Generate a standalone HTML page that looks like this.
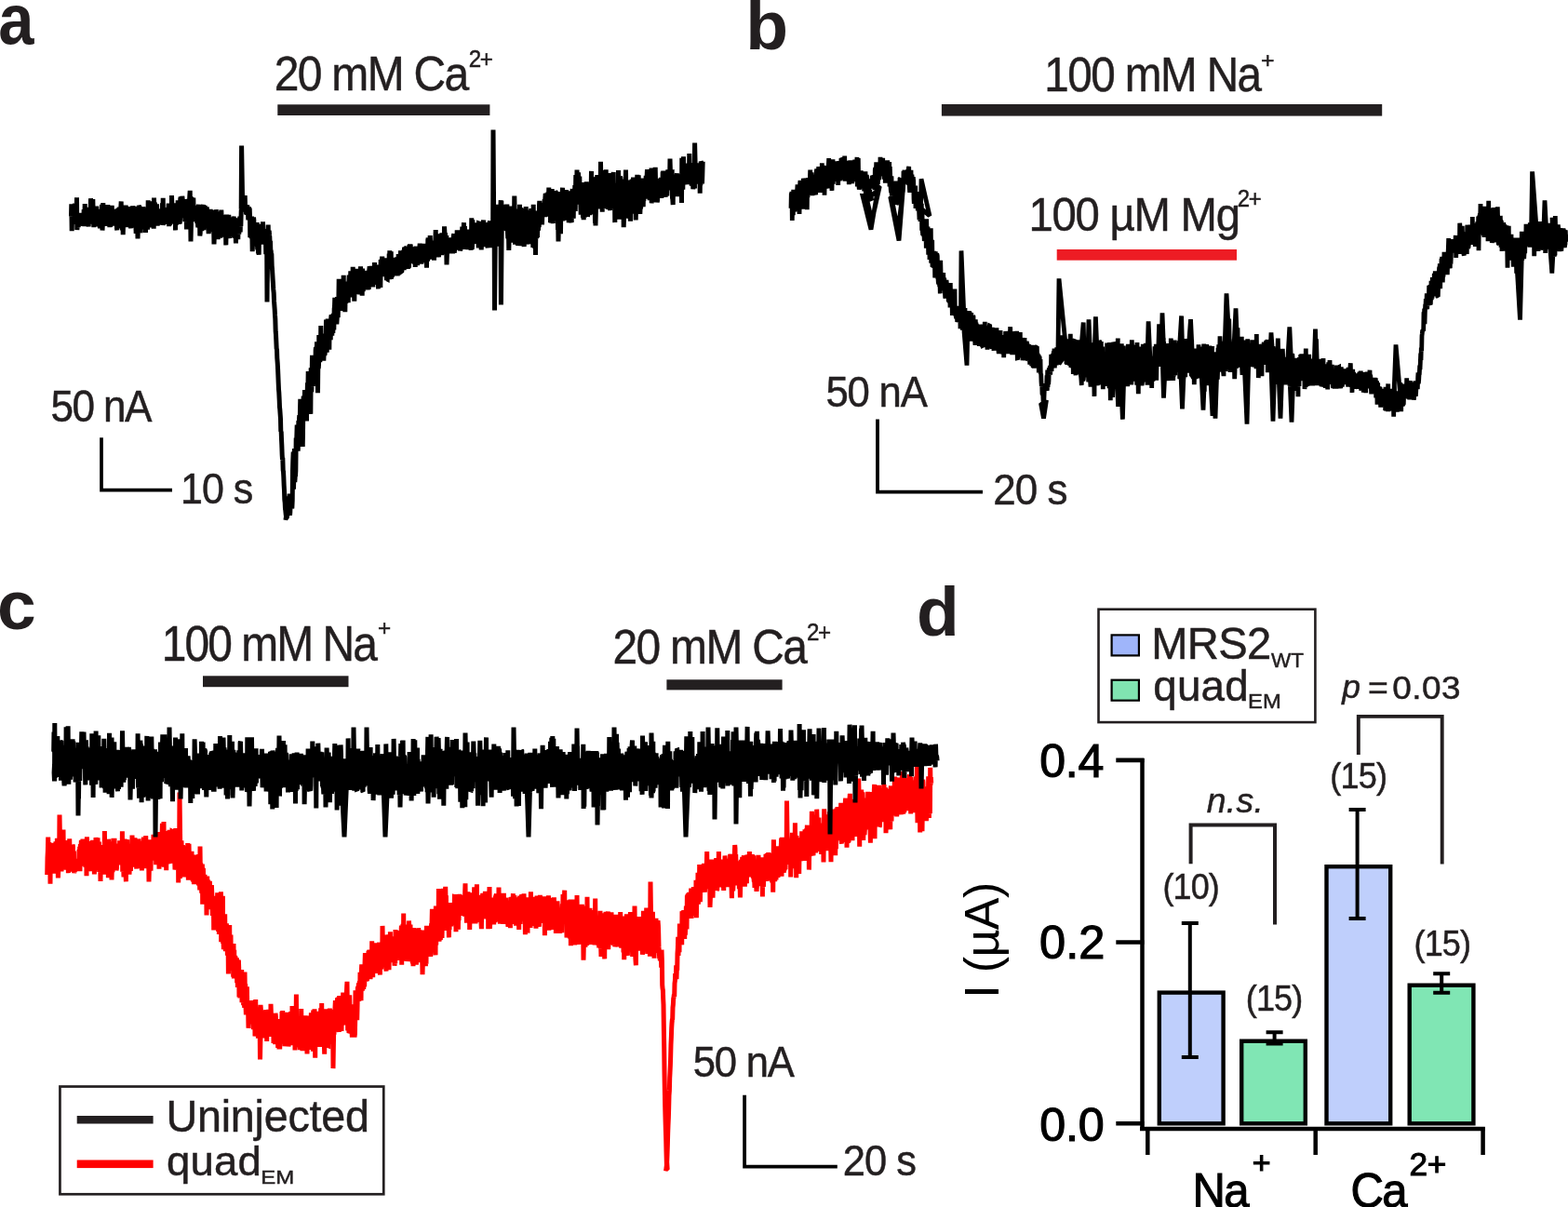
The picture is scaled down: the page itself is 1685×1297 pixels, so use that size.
<!DOCTYPE html>
<html><head><meta charset="utf-8"><title>Figure</title>
<style>
html,body{margin:0;padding:0;background:#fff;}
body{width:1685px;height:1297px;overflow:hidden;}
svg{display:block;}
svg text{font-family:'Liberation Sans', Arial, Helvetica, sans-serif;font-kerning:none;}
svg text.t{stroke:#231f20;stroke-width:0.5px;}
</style></head><body>
<svg width="1685" height="1297" viewBox="0 0 1685 1297">
<rect width="1685" height="1297" fill="#fff"/>
<text transform="translate(-1.69 46.7) scale(0.91 1)" font-size="75.5" font-weight="bold" fill="#231f20">a</text>
<text x="801.32" y="53.30" font-size="75" font-weight="bold" fill="#231f20">b</text>
<text x="-3.09" y="676.20" font-size="75" font-weight="bold" fill="#231f20">c</text>
<text x="985.00" y="683.10" font-size="75" font-weight="bold" fill="#231f20">d</text>
<text transform="translate(294.69 97.40) scale(0.9206 1)" font-size="52.13" letter-spacing="-1.82" fill="#231f20" class="t">20 mM Ca</text>
<text transform="translate(503.69 72.40) scale(0.9162 1)" font-size="26.35" letter-spacing="-1.55" fill="#231f20" class="t">2+</text>
<rect x="298.30" y="112.30" width="228.10" height="11.70" fill="#231f20"/>
<text transform="translate(54.43 452.50) scale(0.9176 1)" font-size="48.12" letter-spacing="-1.72" fill="#231f20" class="t">50 nA</text>
<text transform="translate(194.12 541.20) scale(0.9371 1)" font-size="45.94" letter-spacing="-1.15" fill="#231f20" class="t">10 s</text>
<path d="M109 470.2V526.55H185" fill="none" stroke="#000" stroke-width="3.70"/>
<text transform="translate(1122.37 97.90) scale(0.9233 1)" font-size="51.59" letter-spacing="-1.70" fill="#231f20" class="t">100 mM Na</text>
<text transform="translate(1354.88 72.92) scale(1.0326 1)" font-size="24.12" letter-spacing="0.00" fill="#231f20" class="t">+</text>
<rect x="1011.90" y="112.00" width="473.30" height="12.60" fill="#231f20"/>
<text transform="translate(1105.50 248.20) scale(0.9354 1)" font-size="50.58" letter-spacing="-1.34" fill="#231f20" class="t">100 µM Mg</text>
<text transform="translate(1329.80 222.10) scale(0.9230 1)" font-size="25.92" letter-spacing="-1.40" fill="#231f20" class="t">2+</text>
<rect x="1135.70" y="268.00" width="193.30" height="11.70" fill="#ed1c24"/>
<text transform="translate(887.45 437.20) scale(0.9367 1)" font-size="46.67" letter-spacing="-1.28" fill="#231f20" class="t">50 nA</text>
<text transform="translate(1067.19 542.20) scale(0.9485 1)" font-size="46.38" letter-spacing="-0.96" fill="#231f20" class="t">20 s</text>
<path d="M943 450.5V528.65H1056" fill="none" stroke="#000" stroke-width="3.80"/>
<text transform="translate(173.75 710.30) scale(0.9062 1)" font-size="52.90" letter-spacing="-2.14" fill="#231f20" class="t">100 mM Na</text>
<text transform="translate(405.91 682.92) scale(1.0070 1)" font-size="24.12" letter-spacing="0.00" fill="#231f20" class="t">+</text>
<rect x="218.00" y="726.30" width="156.50" height="11.90" fill="#231f20"/>
<text transform="translate(658.39 712.80) scale(0.9237 1)" font-size="51.84" letter-spacing="-1.74" fill="#231f20" class="t">20 mM Ca</text>
<text transform="translate(867.09 687.70) scale(0.9110 1)" font-size="26.50" letter-spacing="-1.66" fill="#231f20" class="t">2+</text>
<rect x="716.40" y="730.30" width="124.20" height="11.10" fill="#231f20"/>
<rect x="64.45" y="1167.55" width="347.80" height="115.70" fill="none" stroke="#231f20" stroke-width="2.7"/>
<rect x="82.70" y="1199.00" width="81.90" height="8.50" fill="#231f20"/>
<rect x="82.70" y="1246.50" width="81.90" height="8.60" fill="#ff0000"/>
<text transform="translate(178.40 1216.00) scale(0.9856 1)" font-size="47.38" letter-spacing="-0.23" fill="#231f20" class="t">Uninjected</text>
<text transform="translate(178.89 1262.80) scale(1.0073 1)" font-size="45.24" letter-spacing="0.16" fill="#231f20" class="t">quad</text>
<text transform="translate(280.34 1271.80) scale(1.1771 1)" font-size="20.35" letter-spacing="0.00" fill="#231f20" class="t">EM</text>
<text transform="translate(744.85 1156.80) scale(0.9341 1)" font-size="46.67" letter-spacing="-1.33" fill="#231f20" class="t">50 nA</text>
<text transform="translate(905.81 1262.80) scale(0.9431 1)" font-size="46.09" letter-spacing="-1.06" fill="#231f20" class="t">20 s</text>
<path d="M800.1 1176.8V1253.7H899.8" fill="none" stroke="#000" stroke-width="3.80"/>
<rect x="1180.50" y="654.70" width="232.90" height="121.40" fill="none" stroke="#231f20" stroke-width="2.6"/>
<rect x="1194.6" y="682.4" width="29.3" height="22" fill="#9fb5fa" stroke="#000" stroke-width="2.2"/>
<rect x="1194.6" y="730.7" width="29.3" height="22" fill="#80e4b1" stroke="#000" stroke-width="2.2"/>
<text transform="translate(1237.13 708.00) scale(0.9769 1)" font-size="48.26" letter-spacing="-0.66" fill="#231f20" class="t">MRS2</text>
<text transform="translate(1365.90 717.10) scale(0.9933 1)" font-size="22.67" letter-spacing="0.00" fill="#231f20" class="t">WT</text>
<text transform="translate(1239.28 752.50) scale(1.0086 1)" font-size="45.38" letter-spacing="0.18" fill="#231f20" class="t">quad</text>
<text transform="translate(1341.05 761.00) scale(1.0774 1)" font-size="22.09" letter-spacing="0.00" fill="#231f20" class="t">EM</text>
<rect x="1245.80" y="1066.60" width="68.80" height="140.70" fill="#bfcffc" stroke="#000" stroke-width="4.4"/>
<rect x="1334.20" y="1118.70" width="68.60" height="88.60" fill="#80e6b4" stroke="#000" stroke-width="4.4"/>
<rect x="1425.50" y="931.20" width="68.70" height="276.10" fill="#bfcffc" stroke="#000" stroke-width="4.4"/>
<rect x="1514.70" y="1058.70" width="68.70" height="148.60" fill="#80e6b4" stroke="#000" stroke-width="4.4"/>
<path d="M1227.5 815V1215" fill="none" stroke="#000" stroke-width="4.50"/>
<path d="M1199.3 816.9H1229.5M1199.3 1012.5H1229.5M1199.3 1207.2H1229.5" fill="none" stroke="#000" stroke-width="4.60"/>
<path d="M1225 1213H1595.8" fill="none" stroke="#000" stroke-width="4.40"/>
<path d="M1233.3 1211V1241M1413.7 1211V1241M1593.6 1211V1241" fill="none" stroke="#000" stroke-width="4.50"/>
<text transform="translate(1117.14 834.80) scale(0.9907 1)" font-size="50.56" letter-spacing="-0.21" fill="#000" stroke="#000" stroke-width="1.2">0.4</text>
<text x="1117.12" y="1030.30" font-size="50.56" letter-spacing="0.01" fill="#000" stroke="#000" stroke-width="1.2">0.2</text>
<text transform="translate(1117.13 1225.60) scale(0.9951 1)" font-size="50.56" letter-spacing="-0.11" fill="#000" stroke="#000" stroke-width="1.2">0.0</text>
<path d="M1278.8 990.0V1138.0M1269.8 992.0H1287.8M1269.8 1136.0H1287.8" fill="none" stroke="#000" stroke-width="4.00"/>
<path d="M1369.6 1107.2V1123.5M1360.6 1109.2H1378.6M1360.6 1121.5H1378.6" fill="none" stroke="#000" stroke-width="4.00"/>
<path d="M1458.6 868.0V989.0M1449.6 870.0H1467.6M1449.6 987.0H1467.6" fill="none" stroke="#000" stroke-width="4.00"/>
<path d="M1549.2 1044.2V1068.8M1540.2 1046.2H1558.2M1540.2 1066.8H1558.2" fill="none" stroke="#000" stroke-width="4.00"/>
<text transform="translate(1249.47 965.90) scale(0.9336 1)" font-size="38.50" letter-spacing="-0.95" fill="#231f20" class="t">(10)</text>
<text transform="translate(1338.71 1085.50) scale(0.9371 1)" font-size="38.50" letter-spacing="-0.90" fill="#231f20" class="t">(15)</text>
<text transform="translate(1429.26 847.10) scale(0.9385 1)" font-size="38.50" letter-spacing="-0.88" fill="#231f20" class="t">(15)</text>
<text transform="translate(1519.46 1026.50) scale(0.9375 1)" font-size="38.50" letter-spacing="-0.89" fill="#231f20" class="t">(15)</text>
<path d="M1279.6 928.2V886.4H1370V993.6" fill="none" stroke="#231f20" stroke-width="4.00"/>
<path d="M1459.8 811V769.9H1549.7V928.5" fill="none" stroke="#231f20" stroke-width="3.90"/>
<text transform="translate(1296.78 873.30) scale(1.0218 1)" font-size="36.62" letter-spacing="0.26" font-style="italic" fill="#231f20" class="t">n.s.</text>
<text x="1442.18" y="750.30" font-size="35.50" letter-spacing="0.00" font-style="italic" fill="#231f20" class="t">p</text>
<text transform="translate(1469.97 750.50) scale(1.0552 1)" font-size="35.50" letter-spacing="0.00" fill="#231f20" class="t">=</text>
<text transform="translate(1496.26 750.90) scale(1.0317 1)" font-size="35.82" letter-spacing="0.47" fill="#231f20" class="t">0.03</text>
<text transform="translate(1072.8 1072.80) rotate(-90)" font-size="52" letter-spacing="-0.63" fill="#000">I (µA)</text>
<text transform="translate(1281.58 1297.00) scale(0.9556 1)" font-size="51.31" letter-spacing="-1.83" fill="#000" stroke="#000" stroke-width="1.1">Na</text>
<text transform="translate(1345.74 1260.86) scale(1.0450 1)" font-size="32.50" letter-spacing="0.00" fill="#000" stroke="#000" stroke-width="1.1">+</text>
<text transform="translate(1451.41 1297.00) scale(0.9596 1)" font-size="51.13" letter-spacing="-1.70" fill="#000" stroke="#000" stroke-width="1.1">Ca</text>
<text transform="translate(1514.43 1262.60) scale(0.9843 1)" font-size="35.82" letter-spacing="-0.39" fill="#000" stroke="#000" stroke-width="1.1">2+</text>
<path d="M76.5,232.6L76.8,219.4 77.2,248.3 77.5,235.4 77.8,238.6 78.2,224.6 78.5,236.0 78.8,219.4 79.2,239.5 79.5,224.5 79.8,222.5 80.2,221.2 80.5,218.8 80.8,227.0 81.2,220.8 81.5,240.9 81.8,234.7 82.2,232.9 82.5,212.3 82.8,247.0 83.2,243.1 83.5,236.4 83.8,237.2 84.2,244.3 84.5,233.1 84.8,241.9 85.2,236.8 85.5,242.5 85.8,236.5 86.2,241.5 86.5,239.5 86.8,233.8 87.2,228.9 87.5,235.0 87.8,237.7 88.2,242.3 88.5,229.4 88.8,234.4 89.2,241.2 89.5,242.1 89.8,236.2 90.2,225.0 90.5,232.0 90.8,243.1 91.2,219.0 91.5,236.6 91.8,223.1 92.2,236.0 92.5,242.1 92.8,236.1 93.2,229.8 93.5,242.5 93.8,228.5 94.2,226.6 94.5,231.3 94.8,240.7 95.2,243.4 95.5,222.8 95.8,225.6 96.2,229.3 96.5,231.5 96.8,240.6 97.2,230.5 97.5,213.2 97.8,219.7 98.2,233.7 98.5,239.5 98.8,217.5 99.2,219.4 99.5,225.0 99.8,214.1 100.2,230.6 100.5,236.1 100.8,244.2 101.2,224.2 101.5,223.7 101.8,231.1 102.2,223.8 102.5,228.2 102.8,232.8 103.2,239.1 103.5,240.1 103.8,221.5 104.2,238.3 104.5,230.6 104.8,243.3 105.2,234.4 105.5,240.4 105.8,231.7 106.2,224.9 106.5,241.1 106.8,238.4 107.2,243.1 107.5,245.1 107.8,240.2 108.2,243.3 108.5,228.4 108.8,230.0 109.2,239.4 109.5,219.8 109.8,220.7 109.7,237.9 110.0,247.5 110.8,232.6 110.2,223.5 110.5,239.7 110.8,218.1 111.2,237.9 111.5,236.9 111.8,231.7 112.2,220.9 112.5,232.5 112.8,237.9 113.2,232.5 113.5,233.6 113.8,229.0 114.2,242.7 114.5,241.5 114.8,233.0 115.2,224.5 115.5,232.6 115.8,220.1 116.2,233.1 116.5,240.7 116.8,232.6 117.2,221.4 117.5,230.7 117.8,244.2 118.2,232.4 118.5,230.6 118.8,243.8 119.2,228.5 119.5,236.4 119.8,223.6 120.2,220.8 120.5,226.2 120.8,228.8 121.2,236.7 121.5,242.7 121.8,234.0 122.2,225.7 122.5,232.0 122.8,231.4 123.2,224.8 123.5,237.3 123.8,234.6 124.2,236.9 124.5,226.9 124.8,242.2 125.2,229.2 125.5,245.3 125.8,247.3 126.2,224.5 126.5,240.2 126.8,223.7 127.2,232.3 127.5,224.5 127.8,239.3 128.2,222.6 128.5,245.4 128.8,224.4 129.2,241.5 129.5,239.6 129.8,223.4 130.2,216.5 130.5,235.2 130.8,225.4 131.2,226.8 131.5,247.5 131.8,223.7 132.2,252.2 132.5,241.2 132.8,233.2 133.2,232.2 133.5,221.1 133.8,242.9 134.2,232.5 134.5,231.1 134.8,224.7 135.2,220.6 135.5,241.3 135.8,242.7 136.2,230.6 136.5,233.1 136.8,241.1 137.2,244.0 137.5,240.5 137.8,230.7 138.2,243.3 138.5,240.4 138.8,230.9 139.2,222.1 139.5,232.7 139.8,227.9 140.2,236.9 140.5,245.4 140.8,229.5 141.2,235.6 141.5,230.9 141.8,237.7 142.2,240.9 142.5,221.4 142.8,240.3 143.2,231.4 143.5,221.9 143.8,223.4 144.2,244.7 144.5,234.1 144.8,235.7 145.2,237.5 145.5,222.7 145.8,240.7 146.2,250.9 146.5,233.1 146.8,233.7 147.2,222.1 147.5,231.7 147.8,236.4 147.7,240.3 148.0,256.5 148.8,235.0 148.2,228.0 148.5,235.2 148.8,239.4 149.2,220.8 149.5,221.6 149.8,240.6 150.2,244.4 150.5,221.9 150.8,245.8 151.2,250.2 151.5,233.5 151.8,227.3 152.2,245.9 152.5,233.4 152.8,242.8 153.2,224.0 153.5,233.2 153.8,222.4 154.2,224.4 154.5,239.1 154.8,228.1 155.2,232.2 155.5,235.1 155.8,246.4 156.2,227.0 156.5,250.0 156.8,237.3 157.2,227.6 157.5,235.5 157.8,237.3 158.2,225.1 158.5,246.5 158.8,243.7 159.2,215.3 159.5,231.1 159.8,222.2 160.2,221.3 160.5,240.2 160.8,236.3 161.2,231.9 161.5,228.0 161.8,241.5 162.2,216.2 162.5,235.2 162.8,223.6 163.2,224.7 163.5,227.5 163.8,244.5 164.2,232.1 164.5,242.3 164.8,226.8 165.2,245.8 165.5,212.6 165.8,229.4 166.2,224.0 166.5,217.6 166.8,234.0 167.2,221.4 167.5,235.2 167.8,219.8 168.2,236.3 168.5,219.3 168.8,232.1 169.2,242.6 169.5,228.6 169.8,224.9 170.2,227.7 170.5,241.8 170.8,226.8 171.2,227.0 171.5,227.8 171.8,232.9 172.2,232.3 172.5,233.1 172.8,238.6 173.2,224.9 173.5,231.7 173.8,232.9 174.2,235.2 174.5,218.4 174.8,239.0 175.2,212.7 175.5,242.0 175.8,236.3 176.2,241.0 176.5,223.1 176.8,237.9 177.2,237.9 177.5,225.5 177.8,235.1 178.2,231.1 178.5,235.9 178.8,227.2 179.2,234.5 179.5,238.4 179.8,240.7 180.2,233.4 180.5,235.3 180.8,226.8 181.2,218.6 181.5,243.2 181.8,218.9 182.2,226.3 182.5,242.3 182.8,219.8 183.2,234.7 183.5,218.5 183.8,226.1 184.2,240.0 184.5,210.1 184.8,219.1 185.2,234.0 185.5,219.1 185.8,220.8 186.2,235.1 186.5,228.7 186.8,226.5 187.2,238.9 187.5,222.2 187.8,240.9 188.2,218.3 188.5,247.4 188.8,223.2 189.2,227.1 189.5,241.7 189.8,218.4 190.2,225.1 190.5,235.6 190.8,229.5 191.2,215.3 191.5,218.3 191.8,226.2 192.2,241.0 192.5,226.4 192.8,233.7 193.2,240.3 193.5,235.1 193.8,213.7 194.2,211.7 194.5,223.4 194.8,227.0 195.2,217.8 195.5,221.3 195.8,210.8 196.2,214.5 196.5,224.5 196.8,234.2 197.2,217.6 197.5,214.4 197.8,230.4 198.2,229.5 198.5,218.5 198.8,238.3 199.2,228.3 199.5,217.6 199.8,215.1 200.2,222.1 200.5,246.5 200.8,214.1 201.2,216.7 201.5,224.5 201.8,218.1 202.2,228.4 202.5,213.8 202.8,218.0 203.2,225.4 203.5,218.3 203.8,210.9 204.2,204.8 204.5,230.3 204.8,220.9 204.7,231.2 205.0,259.5 205.8,225.0 205.2,227.1 205.5,211.9 205.8,213.4 206.2,212.2 206.5,223.6 206.8,230.8 207.2,236.5 207.5,221.9 207.8,212.6 208.2,234.0 208.5,237.1 208.8,231.8 209.2,220.9 209.5,233.5 209.8,223.5 210.2,238.0 210.5,232.9 210.8,237.8 211.2,231.4 211.5,230.1 211.8,240.0 212.2,231.0 212.5,240.8 212.8,244.3 213.2,222.1 213.5,219.9 213.8,237.5 214.2,244.6 214.5,230.9 214.8,253.5 215.2,250.6 215.5,234.5 215.8,225.9 216.2,247.6 216.5,236.2 216.8,247.8 217.2,245.3 217.5,235.8 217.8,224.5 218.2,221.5 218.5,220.0 218.8,247.3 219.2,228.8 219.5,241.6 219.8,237.5 220.2,220.8 220.5,234.2 220.8,230.3 221.2,225.9 221.5,228.6 221.8,230.8 222.2,222.4 222.5,225.6 222.8,239.0 223.2,233.7 223.5,241.9 223.8,243.9 224.2,251.0 224.5,247.1 224.8,235.1 225.2,248.8 225.5,238.0 225.8,249.1 226.2,224.7 226.5,249.2 226.8,240.6 227.2,232.3 227.5,225.7 227.8,235.8 228.2,235.2 228.5,246.6 228.8,230.9 229.2,235.5 229.5,226.3 229.8,251.9 229.7,245.7 230.0,262.5 230.8,240.0 230.2,249.2 230.5,247.5 230.8,245.9 231.2,250.5 231.5,251.5 231.8,240.8 232.2,225.2 232.5,233.7 232.8,227.3 233.2,248.7 233.5,236.0 233.8,227.5 234.2,257.3 234.5,240.7 234.8,254.3 235.2,232.9 235.5,253.1 235.8,232.8 236.2,237.4 236.5,232.5 236.8,255.7 237.2,245.6 237.5,252.7 237.8,225.6 238.2,237.1 238.5,252.8 238.8,232.3 239.2,254.8 239.5,230.8 239.8,237.3 240.2,234.2 240.5,235.4 240.8,251.0 241.2,247.4 241.5,245.4 241.8,237.4 242.2,247.7 242.5,247.0 242.8,263.4 243.2,244.0 243.5,230.5 243.8,237.2 244.2,251.8 244.5,234.4 244.8,236.4 245.2,245.0 245.5,254.9 245.8,230.8 246.2,251.1 246.5,256.2 246.8,235.3 247.2,248.5 247.5,249.0 247.8,245.2 248.2,254.5 248.5,245.5 248.8,236.0 249.2,235.8 249.5,237.9 249.8,253.1 250.2,253.7 250.5,245.3 250.8,247.8 251.2,232.5 251.5,251.3 251.8,255.5 252.2,235.6 252.5,244.9 252.8,243.4 253.2,253.1 253.5,261.5 253.8,245.9 254.2,237.6 254.5,236.9 254.8,237.0 255.2,245.1 255.5,246.7 255.8,257.1 256.2,237.7 256.5,249.2 256.8,251.7 257.2,240.5 257.5,236.7 257.8,232.6 258.2,249.4 258.5,235.3 258.8,243.3 259.2,227.1 259.5,223.8 259.2,224.7 259.6,156.5 260.8,227.6 259.8,221.9 260.2,215.4 260.5,221.0 260.8,216.5 261.2,211.4 261.5,210.4 261.8,217.5 262.2,210.8 262.5,215.7 262.8,213.5 263.2,210.1 263.5,221.4 263.8,221.1 264.2,220.2 264.5,229.0 264.8,229.4 265.2,221.5 265.5,227.3 265.8,220.4 266.2,228.0 266.5,228.8 266.8,236.4 267.2,224.6 267.5,222.4 267.8,232.4 268.2,223.6 268.5,232.6 268.8,255.2 269.2,236.1 269.5,234.0 269.8,242.5 270.2,256.1 270.5,232.5 270.8,245.6 271.2,270.2 271.5,260.3 271.8,235.5 272.2,242.5 272.5,233.6 272.8,236.1 273.2,250.8 273.5,240.8 273.8,245.9 274.2,261.6 274.5,239.3 274.8,264.5 275.2,252.3 275.5,246.2 275.8,250.7 276.2,239.1 276.5,264.0 276.8,268.3 277.2,248.9 277.5,272.4 277.8,263.7 278.2,273.8 278.5,246.4 278.8,240.9 279.2,252.3 279.5,249.8 279.8,256.3 280.2,243.4 280.5,255.4 280.8,262.6 281.2,240.9 281.5,253.4 281.8,259.4 282.2,258.3 282.5,238.2 282.8,251.1 283.2,250.8 283.5,256.0 283.8,255.1 284.2,246.9 284.5,247.5 284.8,258.7 285.2,262.6 285.5,255.1 285.8,273.2 286.2,259.2 286.5,266.3 286.8,261.0 286.7,264.7 287.0,324.5 287.8,257.5 287.2,253.9 287.5,268.9 287.8,253.3 288.2,241.6 288.5,258.3 288.8,253.4 289.2,247.6 289.5,252.2 289.8,254.5 290.2,265.0 290.5,258.7 290.8,269.2 291.2,269.7 291.5,274.0 291.8,272.2 292.2,285.6 292.5,289.0 292.8,294.2 293.2,300.9 293.5,305.2 293.8,311.0 294.2,315.0 294.5,323.2 294.8,327.2 295.2,332.8 295.5,338.5 295.8,342.5 296.2,356.3 296.5,359.4 296.8,365.9 297.2,375.2 297.5,374.8 297.8,384.6 298.2,389.8 298.5,394.8 298.8,401.6 299.2,411.5 299.5,418.5 299.8,421.6 300.2,429.6 300.5,437.5 300.8,440.0 301.2,445.7 301.5,450.2 301.8,463.8 302.2,463.5 302.5,472.0 302.8,478.0 303.2,488.9 303.5,493.8 303.8,491.9 304.2,505.4 304.5,506.7 304.8,512.2 305.2,522.0 305.5,527.0 305.8,536.8 306.2,540.1 306.5,546.8 306.8,548.4 307.2,552.7 307.5,555.0 307.3,556.4 307.8,556.5 308.3,555.8 307.8,554.7 308.2,554.9 308.5,554.3 308.8,553.8 309.2,552.0 309.5,549.0 309.8,547.6 310.2,542.4 310.5,533.3 310.8,539.2 311.2,530.5 311.5,553.9 311.8,550.2 312.2,534.5 312.5,531.4 312.8,535.4 313.2,535.1 313.5,545.6 313.8,546.4 314.2,537.9 314.5,506.3 314.8,495.3 315.2,485.6 315.5,525.7 315.8,511.6 316.2,487.4 316.5,482.2 316.8,518.0 317.2,511.5 317.5,511.2 317.8,506.1 318.2,470.6 318.5,481.6 318.8,470.8 319.2,456.5 319.5,462.8 319.8,466.1 320.2,484.6 320.5,474.4 320.8,455.3 321.2,455.4 321.5,450.1 321.8,446.3 322.2,460.4 322.5,440.8 322.8,428.7 323.2,449.5 323.5,451.7 323.8,441.6 324.2,470.6 324.5,465.8 324.8,458.4 325.2,480.0 325.5,465.8 325.8,437.9 326.2,425.5 326.5,448.3 326.8,430.0 327.2,430.4 327.5,419.1 327.8,428.9 328.2,419.7 328.5,450.8 328.8,437.0 329.2,432.8 329.5,452.5 329.8,424.6 330.2,421.6 330.5,411.2 330.8,426.3 331.2,399.0 331.5,417.5 331.8,423.3 332.2,400.6 332.5,439.4 332.8,405.2 333.2,436.2 333.5,428.8 333.8,444.9 334.2,395.3 334.5,413.7 334.8,421.1 335.2,404.6 335.5,381.9 335.8,411.7 336.2,415.0 336.5,400.8 336.8,383.2 337.2,403.8 337.5,400.2 337.8,395.1 338.2,409.3 338.5,407.2 338.8,413.0 339.2,376.1 339.5,373.0 339.8,380.4 340.2,406.9 340.5,367.3 340.8,406.0 341.2,407.5 341.5,422.3 341.8,392.4 342.2,396.1 342.5,392.2 342.8,359.9 343.2,373.3 343.5,370.5 343.8,389.2 344.2,361.4 344.5,376.3 344.8,350.0 345.2,380.8 345.5,360.7 345.8,382.3 346.2,366.2 346.5,367.3 346.8,379.4 347.2,384.1 347.5,367.1 347.8,387.6 348.2,376.2 348.5,370.0 348.8,381.7 349.2,380.0 349.5,362.1 349.8,358.5 350.2,366.6 350.5,343.5 350.8,351.7 351.2,378.7 351.5,367.1 351.8,348.0 352.2,342.7 352.5,346.8 352.8,349.4 353.2,368.5 353.5,355.4 353.8,375.8 354.2,343.5 354.5,359.0 354.8,343.4 355.2,365.4 355.5,354.8 355.8,341.0 356.2,338.3 356.5,348.0 356.8,360.6 357.2,338.2 357.5,346.5 357.8,357.9 358.2,336.9 358.5,343.5 358.8,354.4 359.2,331.7 359.5,329.8 359.8,319.7 360.2,338.8 360.5,341.2 360.8,342.8 361.2,340.6 361.5,328.1 361.8,348.4 362.2,342.3 362.5,319.0 362.8,327.4 363.2,341.1 363.5,324.6 363.8,327.2 364.2,299.8 364.5,314.0 364.8,311.2 365.2,303.4 365.5,317.7 365.8,317.7 366.2,304.5 366.5,306.1 366.8,319.1 367.2,321.9 367.5,334.0 367.8,300.0 368.2,328.1 368.5,324.0 368.8,317.3 369.2,295.8 369.5,331.6 369.8,327.1 370.2,310.7 370.5,302.5 370.8,335.2 371.2,313.3 371.5,326.0 371.8,314.9 372.2,325.4 372.5,305.2 372.8,303.5 373.2,308.5 373.5,305.8 373.8,308.3 374.2,325.3 374.5,310.3 374.8,305.4 375.2,295.6 375.5,301.9 375.8,298.9 376.2,306.3 376.5,302.0 376.8,291.3 377.2,319.4 377.5,308.4 377.8,299.5 378.2,307.7 378.5,304.7 378.8,311.9 379.2,286.9 379.5,297.6 379.8,301.8 380.2,300.9 380.5,308.6 380.8,323.8 381.2,298.5 381.5,312.1 381.8,307.1 382.2,314.0 382.5,308.1 382.8,314.8 383.2,289.4 383.5,309.8 383.8,288.9 384.2,300.4 384.5,316.2 384.8,290.7 385.2,301.0 385.5,299.2 385.8,300.8 386.2,295.0 386.5,290.5 386.8,316.5 387.2,303.8 387.5,286.4 387.8,315.1 388.2,314.2 388.5,300.0 388.8,311.6 389.2,317.6 389.5,288.5 389.8,297.9 390.2,313.1 390.5,306.2 390.8,308.5 391.2,310.6 391.5,302.6 391.8,295.6 392.2,295.5 392.5,300.0 392.8,301.3 393.2,295.0 393.5,298.2 393.8,293.7 394.2,290.8 394.5,304.5 394.8,291.1 395.2,311.5 395.5,303.9 395.8,301.1 396.2,311.0 396.5,296.4 396.8,290.0 397.2,286.4 397.5,307.2 397.8,305.7 398.2,298.8 398.5,287.5 398.8,304.6 399.2,285.9 399.5,289.2 399.8,298.0 400.2,286.3 400.5,299.2 400.8,308.5 401.2,292.6 401.5,302.2 401.8,305.9 402.2,289.1 402.5,282.1 402.8,288.3 403.2,288.0 403.5,294.0 403.8,288.4 404.2,294.4 404.5,284.5 404.8,303.4 405.2,294.6 405.5,294.1 405.8,304.4 406.2,286.0 406.5,310.4 406.8,300.1 407.2,290.7 407.5,298.1 407.8,291.8 408.2,287.3 408.5,303.5 408.8,309.0 409.2,279.1 409.5,279.8 409.8,280.0 410.2,285.0 410.5,278.1 410.8,278.1 411.2,292.5 411.5,294.4 411.8,296.9 412.2,277.6 412.5,280.3 412.8,284.8 413.2,280.6 413.5,286.5 413.8,277.3 414.2,290.1 414.5,290.2 414.8,280.5 415.2,293.9 415.5,301.2 415.8,299.8 416.2,300.0 416.5,287.9 416.8,293.2 417.2,291.2 417.5,277.2 417.8,300.3 418.2,272.6 418.5,300.2 418.8,269.3 419.2,292.8 419.5,289.8 419.8,295.7 420.2,270.3 420.5,299.9 420.8,284.7 421.2,283.0 421.5,297.6 421.8,289.0 422.2,282.2 422.5,285.2 422.8,296.4 423.2,276.9 423.5,285.4 423.8,281.4 424.2,289.8 424.5,286.1 424.8,295.2 425.2,278.0 425.5,280.3 425.8,289.1 426.2,285.3 426.5,294.4 426.8,276.3 427.2,296.4 427.5,279.4 427.8,295.9 428.2,273.0 428.5,289.9 428.8,289.8 429.2,276.3 429.5,288.0 429.8,289.8 430.2,281.0 430.5,269.3 430.8,271.2 431.2,290.4 431.5,291.6 431.8,291.4 432.2,288.3 432.5,271.5 432.8,286.4 433.2,285.2 433.5,277.8 433.8,268.7 434.2,290.2 434.5,265.9 434.8,266.3 435.2,269.6 435.5,278.8 435.8,279.3 436.2,278.0 436.5,266.1 436.8,265.8 437.2,283.8 437.5,276.8 437.8,272.1 438.2,271.1 438.5,288.8 438.8,279.0 439.2,275.2 439.5,287.7 439.8,263.3 440.2,273.1 440.5,262.2 440.8,281.7 441.2,262.6 441.5,283.1 441.8,279.1 442.2,266.6 442.5,267.1 442.8,265.3 443.2,271.2 443.5,277.9 443.8,270.8 444.2,276.6 444.5,275.5 444.8,269.9 445.2,267.3 445.5,283.6 445.8,265.3 446.2,286.9 446.5,265.4 446.8,267.0 447.2,264.9 447.5,268.3 447.8,281.4 448.2,275.5 448.5,285.1 448.8,270.6 449.2,273.5 449.5,275.5 449.8,272.3 450.2,273.1 450.5,276.8 450.8,267.1 451.2,261.8 451.5,265.6 451.8,280.3 452.2,282.9 452.5,270.2 452.8,283.7 453.2,271.3 453.5,280.7 453.8,267.4 454.2,263.8 454.5,279.2 454.8,282.0 455.2,278.6 455.5,278.7 455.8,261.7 456.2,264.9 456.5,280.9 456.8,270.1 457.2,277.1 457.5,280.0 457.8,272.7 458.2,275.3 458.5,287.6 458.8,263.2 459.2,273.1 459.5,280.6 459.8,257.7 460.2,255.7 460.5,274.2 460.8,276.9 461.2,278.6 461.5,266.6 461.8,262.9 462.2,253.2 462.5,259.4 462.8,273.7 463.2,266.8 463.5,260.3 463.8,270.1 464.2,277.7 464.5,277.2 464.8,260.4 465.2,268.9 465.5,272.9 465.8,259.8 466.2,265.2 466.5,279.8 466.8,264.6 467.2,258.5 467.5,267.1 467.8,260.3 468.2,247.0 468.5,265.3 468.8,268.1 469.2,261.8 469.5,263.5 469.8,254.0 470.2,268.8 470.5,265.2 470.8,275.2 471.2,256.9 471.5,276.4 471.8,255.0 472.2,251.3 472.5,264.2 472.8,268.6 473.2,257.9 473.5,266.4 473.8,261.3 474.2,251.9 474.5,274.2 474.8,250.3 475.2,252.8 475.5,260.2 475.8,258.7 476.2,268.0 476.5,265.4 476.8,264.4 477.2,269.5 477.5,243.4 477.8,248.2 478.2,256.5 478.5,250.3 478.8,270.0 479.2,263.1 479.5,273.5 479.8,253.0 479.7,266.9 480.0,284.5 480.8,261.6 480.2,270.5 480.5,258.4 480.8,271.0 481.2,268.5 481.5,259.5 481.8,259.2 482.2,256.0 482.5,258.6 482.8,268.1 483.2,260.2 483.5,259.8 483.8,271.5 484.2,268.5 484.5,265.5 484.8,255.4 485.2,272.4 485.5,264.8 485.8,264.2 486.2,267.0 486.5,272.3 486.8,265.0 487.2,255.9 487.5,252.7 487.8,251.4 488.2,271.6 488.5,269.2 488.8,261.4 489.2,266.8 489.5,260.1 489.8,264.4 490.2,259.3 490.5,262.4 490.8,258.1 491.2,247.3 491.5,252.2 491.8,268.7 492.2,258.6 492.5,256.6 492.8,260.0 493.2,260.9 493.5,264.7 493.8,247.2 494.2,255.5 494.5,269.4 494.8,268.4 495.2,263.2 495.5,248.5 495.8,261.5 496.2,253.3 496.5,252.7 496.8,243.7 497.2,260.6 497.5,248.6 497.8,267.9 498.2,247.4 498.5,239.2 498.8,262.5 499.2,255.6 499.5,243.0 499.8,265.6 500.2,261.3 500.5,251.2 500.8,247.8 501.2,250.4 501.5,264.1 501.8,258.4 502.2,247.6 502.5,258.6 502.8,268.1 503.2,253.4 503.5,264.2 503.8,259.8 504.2,250.6 504.5,246.6 504.8,265.1 505.2,250.6 505.5,260.6 505.8,262.7 506.2,268.8 506.5,256.4 506.8,234.2 507.2,267.9 507.5,264.3 507.8,236.3 508.2,262.2 508.5,246.8 508.8,259.2 509.2,252.6 509.5,255.4 509.8,249.5 510.2,247.6 510.5,239.4 510.8,256.6 511.2,242.4 511.5,253.0 511.8,248.4 512.2,261.7 512.5,258.9 512.8,254.2 513.2,250.9 513.5,253.4 513.8,255.4 514.2,266.4 514.5,239.9 514.8,240.0 515.2,257.8 515.5,244.5 515.8,264.2 516.2,259.6 516.5,252.1 516.8,254.9 517.2,268.4 517.5,263.4 517.8,241.0 518.2,254.0 518.5,246.5 518.8,252.8 519.2,238.8 519.5,236.7 519.8,246.6 520.2,239.5 520.5,265.1 520.8,259.7 521.2,254.2 521.5,250.6 521.8,257.1 522.2,250.2 522.5,246.9 522.8,256.0 523.2,239.1 523.5,243.3 523.8,264.2 524.2,266.2 524.5,240.2 524.8,245.1 525.2,259.2 525.5,239.1 525.8,266.0 526.2,239.1 526.5,237.5 526.8,266.3 527.2,245.2 527.5,242.8 527.8,255.5 528.2,238.1 528.5,247.8 528.8,243.3 529.2,240.7 529.5,264.8 529.8,242.5 529.7,243.6 530.0,139.5 530.8,250.0 530.2,254.8 530.5,233.3 530.8,241.2 531.2,254.5 531.2,255.3 531.5,333.5 532.3,248.5 531.5,253.1 531.8,242.8 532.2,246.1 532.5,245.5 532.8,246.7 533.2,219.8 533.5,240.4 533.8,231.8 534.2,259.9 534.5,244.2 534.8,254.1 535.2,233.8 535.5,252.3 535.8,264.6 536.2,225.5 536.5,256.7 536.8,252.9 537.2,251.9 537.5,262.2 537.8,223.2 538.2,215.2 538.1,251.2 538.4,327.5 539.2,243.3 538.5,238.2 538.8,215.8 539.2,246.5 539.5,223.8 539.8,229.2 540.2,226.3 540.5,247.2 540.8,228.0 541.2,236.1 541.5,245.0 541.8,236.1 542.2,221.7 542.5,227.7 542.8,219.9 543.2,243.3 543.5,241.2 543.8,224.1 544.2,247.6 544.5,247.4 544.8,219.6 545.2,230.0 545.5,250.5 545.8,256.5 546.2,234.4 546.5,250.0 546.8,269.0 547.2,254.3 547.5,243.6 547.8,255.8 548.2,255.6 548.5,253.6 548.8,258.7 549.2,233.6 549.5,224.4 549.8,221.6 550.2,230.7 550.5,244.4 550.8,238.0 551.2,260.7 551.5,235.1 551.8,228.1 552.2,228.7 552.5,234.8 552.8,210.6 553.2,231.3 553.5,262.7 553.8,224.5 554.2,231.7 554.5,252.3 554.8,261.5 555.2,236.0 555.5,236.1 555.8,242.6 556.2,229.9 556.5,264.1 556.8,249.5 557.2,225.4 557.5,231.5 557.8,247.7 558.2,264.2 558.5,219.7 558.8,242.3 559.2,252.5 559.5,259.6 559.8,228.8 560.2,225.2 560.5,225.4 560.8,226.9 561.2,229.6 561.5,258.6 561.8,229.4 562.2,254.8 562.5,247.6 562.8,260.4 563.2,265.0 563.5,256.7 563.8,243.9 564.2,243.7 564.5,249.4 564.8,245.6 565.2,222.1 565.5,252.7 565.8,257.3 566.2,243.2 566.5,257.7 566.8,262.5 567.2,240.7 567.5,239.0 567.8,226.0 568.2,227.4 568.5,230.3 568.8,240.3 569.2,256.4 569.5,237.1 569.8,262.1 570.2,225.9 570.5,245.8 570.8,224.0 571.2,257.4 571.5,258.2 571.8,245.3 572.2,229.2 572.5,241.3 572.8,265.9 573.2,219.8 573.5,247.7 573.8,261.3 574.2,230.6 574.5,248.5 574.8,267.0 575.2,255.0 575.5,274.0 575.8,251.6 576.2,254.7 576.5,256.3 576.8,243.7 577.2,245.0 577.5,255.3 577.8,242.1 578.2,226.5 578.5,247.6 578.8,233.9 579.2,244.1 579.5,220.8 579.8,215.8 580.2,232.3 580.5,226.6 580.8,219.3 581.2,233.2 581.5,239.1 581.8,231.7 582.2,230.6 582.5,241.5 582.8,230.0 583.2,221.5 583.5,228.1 583.8,218.0 584.2,230.9 584.5,231.2 584.8,224.2 585.2,214.0 585.5,233.1 585.8,213.8 586.2,208.3 586.5,226.5 586.8,207.5 587.2,228.6 587.5,232.5 587.8,220.1 588.2,214.5 588.5,214.3 588.8,206.5 589.2,231.5 589.5,212.0 589.8,201.6 590.2,225.8 590.5,220.3 590.8,216.9 591.2,219.1 591.5,239.1 591.8,237.7 592.2,226.2 592.5,239.6 592.8,227.0 593.2,203.1 593.5,212.3 593.8,226.9 594.2,240.2 594.5,229.5 594.8,234.2 595.2,212.4 595.5,221.5 595.8,232.3 596.2,227.2 596.5,236.5 596.8,205.4 597.2,206.2 597.5,217.9 597.8,223.7 598.2,216.9 598.5,218.8 598.8,236.5 599.2,227.8 599.5,246.9 599.8,211.7 599.7,232.6 600.0,259.5 600.8,225.0 600.2,228.4 600.5,221.3 600.8,213.0 601.2,214.8 601.5,208.7 601.8,206.1 602.2,226.5 602.5,251.4 602.8,218.2 603.2,235.3 603.5,209.7 603.8,234.5 604.2,210.3 604.5,201.7 604.8,237.4 605.2,220.7 605.5,213.1 605.8,227.8 606.2,233.0 606.5,220.5 606.8,217.1 607.2,229.8 607.5,215.6 607.8,208.4 608.2,216.0 608.5,204.1 608.8,218.5 609.2,236.8 609.5,212.1 609.8,215.7 610.2,229.0 610.5,218.8 610.8,207.2 611.2,239.3 611.5,231.8 611.8,205.2 612.2,214.4 612.5,231.4 612.8,219.4 613.2,219.8 613.5,210.8 613.8,237.8 614.2,239.1 614.5,206.0 614.8,206.8 615.2,203.1 615.5,216.2 615.8,225.9 616.2,234.8 616.5,218.1 616.8,203.9 617.2,214.0 617.5,221.4 617.8,199.0 618.2,227.0 618.5,205.4 618.8,188.1 619.2,218.8 619.5,219.5 619.8,195.8 619.7,209.2 620.0,182.5 620.8,217.9 620.2,209.4 620.5,211.1 620.8,196.8 621.2,207.4 621.5,185.4 621.8,195.0 622.2,209.7 622.5,216.8 622.8,189.6 623.2,218.2 623.5,208.9 623.8,216.0 624.2,230.6 624.5,225.9 624.8,214.2 625.2,219.4 625.5,230.1 625.8,196.1 626.2,221.2 626.5,234.3 626.8,214.4 627.2,236.2 627.5,219.0 627.8,233.3 628.2,226.8 628.5,233.5 628.8,197.4 629.2,232.7 629.5,205.3 629.8,229.2 630.2,195.2 630.5,215.8 630.8,212.9 631.2,196.4 631.5,233.1 631.8,209.8 632.2,220.8 632.5,201.8 632.8,211.4 633.2,216.6 633.5,231.2 633.8,226.3 634.2,200.3 634.5,217.6 634.8,204.5 635.2,202.7 635.5,183.9 635.8,220.8 636.2,190.4 636.5,199.1 636.8,227.6 637.2,192.7 637.5,230.4 637.8,208.5 638.2,221.2 638.5,199.5 638.8,216.3 639.2,215.2 639.5,239.6 639.8,197.0 639.7,218.4 640.0,242.5 640.8,209.8 640.2,228.1 640.5,223.2 640.8,222.1 641.2,189.8 641.5,222.3 641.8,188.1 642.2,222.3 642.5,224.1 642.8,204.8 643.2,213.9 643.5,201.0 643.8,188.0 644.2,215.8 644.5,204.4 644.8,203.7 645.2,207.7 645.5,173.8 645.8,194.4 646.2,193.2 646.5,213.0 646.8,212.1 647.2,227.8 647.5,214.1 647.8,198.1 648.2,186.1 648.5,185.2 648.8,221.1 649.2,208.1 649.5,222.8 649.8,223.9 650.2,183.0 650.5,208.9 650.8,207.7 651.2,182.4 651.5,208.3 651.8,207.2 652.2,214.8 652.5,202.0 652.8,199.5 653.2,193.2 653.5,225.0 653.8,195.2 654.2,188.0 654.5,200.8 654.8,211.7 655.2,218.5 655.5,226.2 655.8,207.6 656.2,186.0 656.5,223.6 656.8,206.7 657.2,197.5 657.5,189.2 657.8,198.8 658.2,219.8 658.5,212.6 658.8,218.9 659.2,184.9 659.5,223.2 659.8,220.5 660.2,211.6 660.5,213.3 660.8,239.1 661.2,198.9 661.5,204.0 661.8,219.9 662.2,196.8 662.5,213.7 662.8,216.2 663.2,230.4 663.5,227.4 663.8,223.3 664.2,214.6 664.5,183.1 664.8,193.3 665.2,210.9 665.5,229.2 665.8,235.6 666.2,210.3 666.5,190.1 666.8,190.8 667.2,229.9 667.5,194.6 667.8,220.6 668.2,223.9 668.5,208.4 668.8,202.5 669.2,229.9 669.5,224.9 669.8,199.5 670.2,244.2 670.5,235.0 670.8,194.3 671.2,193.8 671.5,219.3 671.8,204.9 672.2,201.6 672.5,182.5 672.8,210.6 673.2,234.4 673.5,229.0 673.8,196.6 674.2,221.8 674.5,194.3 674.8,202.6 675.2,229.4 675.5,202.8 675.8,234.8 676.2,232.5 676.5,193.6 676.8,231.3 677.2,199.6 677.5,237.8 677.8,194.6 678.2,199.7 678.5,217.4 678.8,194.9 679.2,193.1 679.5,224.9 679.8,225.3 680.2,207.0 680.5,190.5 680.8,212.7 681.2,229.6 681.5,199.4 681.8,209.9 682.2,212.6 682.5,222.1 682.8,191.9 683.2,236.5 683.5,225.4 683.8,229.4 684.2,219.0 684.5,198.3 684.8,187.7 685.2,227.6 685.5,208.7 685.8,217.9 686.2,188.2 686.5,215.0 686.8,221.9 687.2,198.1 687.5,208.7 687.8,230.0 688.2,220.7 688.5,224.4 688.8,220.9 689.2,197.8 689.5,191.6 689.8,206.7 690.2,199.7 690.5,220.5 690.8,216.3 691.2,222.1 691.5,210.7 691.8,215.8 692.2,206.2 692.5,209.5 692.8,203.5 693.2,200.9 693.5,213.6 693.8,203.4 694.2,188.9 694.5,206.9 694.8,191.9 695.2,188.9 695.5,182.1 695.8,191.4 696.2,207.8 696.5,205.7 696.8,196.1 697.2,206.6 697.5,208.2 697.8,188.1 698.2,215.2 698.5,206.5 698.8,187.8 699.2,200.1 699.5,193.1 699.8,186.6 699.7,195.9 700.0,180.5 700.8,202.7 700.2,218.4 700.5,191.2 700.8,206.6 701.2,206.5 701.5,210.9 701.8,206.1 702.2,211.2 702.5,214.7 702.8,215.4 703.2,217.3 703.5,194.4 703.8,196.1 704.2,179.8 704.5,193.8 704.8,215.6 705.2,214.4 705.5,197.7 705.8,212.5 706.2,217.3 706.5,215.8 706.8,204.2 707.2,197.6 707.5,193.1 707.8,212.3 708.2,192.0 708.5,194.1 708.8,211.0 709.2,200.4 709.5,201.3 709.8,201.2 710.2,190.8 710.5,196.0 710.8,212.8 711.2,200.8 711.5,196.7 711.8,207.1 712.2,184.6 712.5,187.9 712.8,183.8 713.2,186.7 713.5,200.3 713.8,196.3 714.2,190.3 714.5,202.8 714.8,204.1 715.2,211.8 715.5,198.0 715.8,189.4 716.2,194.0 716.5,203.2 716.8,210.7 717.2,195.7 717.5,199.7 717.8,182.2 718.2,200.0 718.5,199.2 718.8,193.4 719.2,198.9 719.5,197.1 719.8,197.6 719.7,189.7 720.0,170.5 720.8,196.3 720.2,204.3 720.5,193.4 720.8,195.2 721.2,196.2 721.5,184.9 721.8,185.3 722.2,185.2 722.5,212.6 722.8,214.0 723.2,220.0 723.5,194.6 723.8,195.0 724.2,191.6 724.5,208.8 724.8,198.4 725.2,198.0 725.5,199.5 725.8,211.3 726.2,188.2 726.5,208.1 726.8,203.1 727.2,188.4 727.5,186.4 727.8,192.7 728.2,187.4 728.5,194.2 728.8,205.2 729.2,211.0 729.5,189.1 729.8,201.8 730.2,200.7 730.5,206.6 730.8,206.7 731.2,190.5 731.5,194.4 731.8,195.5 732.2,201.5 732.5,218.0 732.8,169.7 733.2,184.7 733.5,175.5 733.8,203.8 734.2,174.5 734.5,168.4 734.8,191.0 735.2,196.2 735.5,194.0 735.8,196.6 736.2,185.9 736.5,176.6 736.8,189.4 737.2,189.6 737.5,181.9 737.8,175.5 738.2,178.8 738.5,195.9 738.8,195.9 739.2,197.9 739.5,183.4 739.8,187.5 740.2,177.9 740.5,196.3 740.8,165.0 741.2,190.8 741.5,180.5 741.8,186.6 742.2,197.4 742.5,192.3 742.8,189.5 743.2,199.7 743.5,179.9 743.8,175.1 744.2,188.8 744.5,190.5 744.8,203.2 745.2,199.0 745.5,186.9 745.8,188.3 746.2,176.1 746.5,202.5 746.3,181.7 746.6,153.5 747.4,188.3 746.8,182.6 747.2,183.9 747.5,197.6 747.8,187.8 748.2,177.2 748.5,180.7 748.8,180.5 749.2,186.4 749.5,186.2 749.8,190.2 750.2,188.1 750.5,181.9 750.8,187.7 751.2,177.3 751.5,176.0 751.8,176.3 752.2,207.7 752.5,183.9 752.8,199.2 753.2,173.6 753.5,174.3 753.8,196.7 754.2,179.5 754.5,197.3 754.8,188.3 755.2,173.8" fill="none" stroke="#000" stroke-width="5.00" stroke-linejoin="miter" stroke-miterlimit="2"/>
<path d="M850.0,223.7L850.3,208.6 850.7,207.6 851.0,206.3 851.3,236.9 851.7,212.4 852.0,208.9 852.3,231.2 852.7,203.7 853.0,223.0 853.3,227.5 853.7,219.1 854.0,227.7 854.3,206.6 854.7,205.1 855.0,215.5 855.3,224.4 855.7,204.5 856.0,225.0 856.3,209.6 856.7,203.3 857.0,198.5 857.3,203.7 857.7,225.7 858.0,212.7 858.3,213.5 858.7,218.2 859.0,230.0 859.3,218.5 859.7,196.8 860.0,194.0 860.3,221.2 860.7,205.1 861.0,214.5 861.3,221.0 861.7,213.4 862.0,215.2 862.3,200.9 862.7,198.3 863.0,224.7 863.3,191.8 863.7,194.0 864.0,200.6 864.3,204.6 864.7,200.9 865.0,199.4 865.3,215.8 865.7,201.1 866.0,224.1 866.3,196.3 866.7,193.1 867.0,193.8 867.3,225.2 867.7,192.8 868.0,212.3 868.3,191.0 868.7,199.3 869.0,204.6 869.3,205.4 869.7,209.1 870.0,205.5 870.3,194.4 870.7,182.5 871.0,198.5 871.3,191.5 871.7,203.0 872.0,185.2 872.3,201.0 872.7,190.8 873.0,210.3 873.3,194.6 873.7,187.9 874.0,208.9 874.3,206.1 874.7,207.2 875.0,188.4 875.3,201.5 875.7,199.0 876.0,197.4 876.3,204.4 876.7,209.5 877.0,187.3 877.3,184.1 877.7,181.5 878.0,189.0 878.3,183.5 878.7,200.7 879.0,183.2 879.3,198.4 879.7,179.1 880.0,202.9 880.3,206.7 880.7,183.2 881.0,187.4 881.3,183.4 881.7,193.1 882.0,191.2 882.3,198.7 882.7,184.5 883.0,203.2 883.3,175.4 883.7,206.9 884.0,204.8 884.3,187.0 884.7,198.8 885.0,200.8 885.3,177.9 885.7,193.3 886.0,209.6 886.3,191.4 886.7,196.5 887.0,180.2 887.3,202.8 887.7,186.4 888.0,194.9 888.3,186.0 888.7,192.4 889.0,178.8 889.3,192.7 889.7,202.4 890.0,197.8 890.3,177.6 890.7,170.1 891.0,195.1 891.3,191.1 891.7,191.9 892.0,182.9 892.3,185.5 892.7,177.5 893.0,174.1 893.3,180.3 893.7,194.0 894.0,204.9 894.3,187.7 894.7,186.3 895.0,171.2 895.3,197.7 895.7,175.5 896.0,175.3 896.3,182.5 896.7,176.5 897.0,179.2 897.3,186.4 897.7,195.0 898.0,179.7 898.3,177.5 898.7,193.6 899.0,192.5 899.3,173.2 899.7,182.6 900.0,176.6 900.3,175.1 900.7,199.0 901.0,176.9 901.3,184.2 901.7,173.1 902.0,192.4 902.3,193.9 902.7,192.5 903.0,182.8 903.3,173.0 903.7,175.8 904.0,170.0 904.3,170.4 904.7,175.7 905.0,183.6 905.3,172.8 905.7,188.7 906.0,183.9 906.3,170.1 906.7,192.5 907.0,172.6 907.3,193.5 907.7,167.5 908.0,194.7 908.3,177.1 908.7,172.8 909.0,187.1 909.3,194.6 909.7,177.9 910.0,173.9 910.3,192.0 910.7,178.0 911.0,194.4 911.3,192.6 911.7,191.1 912.0,191.1 912.3,198.1 912.7,176.7 913.0,172.6 913.3,192.9 913.7,184.6 914.0,172.4 914.3,183.4 914.7,189.0 915.0,192.2 915.3,188.8 915.7,197.3 916.0,186.2 916.3,181.5 916.7,180.3 917.0,190.3 917.3,189.9 917.7,180.5 918.0,191.1 918.3,190.7 918.7,171.5 919.0,178.5 919.3,195.1 919.7,184.0 920.0,171.6 920.3,177.5 920.7,173.2 921.0,168.9 921.3,200.4 921.7,187.9 922.0,200.2 922.3,170.1 922.7,199.5 923.0,200.1 923.3,203.6 923.7,201.2 924.0,200.3 924.3,191.9 924.7,198.6 925.0,194.8 925.3,183.4 925.7,202.7 926.0,189.6 926.3,190.2 926.7,188.0 927.0,187.1 927.3,201.4 927.7,200.4 928.0,202.2 928.3,192.9 928.7,205.5 929.0,185.3 929.3,203.5 929.7,197.2 930.0,184.4 930.3,207.6 930.7,201.1 931.0,202.2 931.3,188.0 931.7,192.0 932.0,198.8 932.3,211.5 932.7,200.2 933.0,212.5 933.3,192.4 933.7,206.9 934.0,200.4 934.3,206.7 934.7,204.1 935.0,211.4 935.3,209.0 935.7,211.5 927.0,210.6 936.0,246.6 943.0,205.0 936.0,210.4 936.3,212.5 936.7,215.3 930.0,207.3 937.0,237.6 945.0,201.7 937.0,194.6 937.3,188.9 937.7,189.5 938.0,202.7 938.3,189.2 938.7,189.6 939.0,202.3 939.3,193.7 939.7,195.0 940.0,204.1 940.3,182.6 940.7,180.1 941.0,186.7 941.3,188.0 941.7,174.2 942.0,183.8 942.3,174.7 942.7,193.1 943.0,183.1 943.3,197.8 943.7,193.1 944.0,193.4 944.3,177.4 944.7,193.4 945.0,181.7 945.3,188.9 945.7,186.8 946.0,168.8 946.3,184.4 946.7,180.8 947.0,170.1 947.3,175.0 947.7,180.8 948.0,175.7 948.3,187.8 948.7,169.9 949.0,185.2 949.3,179.6 949.7,182.9 950.0,189.7 950.3,192.6 950.7,188.4 951.0,174.0 951.3,196.7 951.7,181.1 952.0,172.5 952.3,188.0 952.7,183.5 953.0,175.5 953.3,178.7 953.7,172.4 954.0,176.3 954.3,183.0 954.7,191.3 955.0,175.2 955.3,194.0 955.7,174.1 956.0,200.4 956.3,179.2 956.7,189.7 957.0,199.4 957.3,204.2 957.7,207.3 958.0,189.4 958.3,210.4 958.7,207.0 959.0,202.8 959.3,209.8 959.7,196.0 960.0,219.7 960.3,195.2 960.7,213.2 961.0,215.1 961.3,211.4 961.7,216.4 962.0,204.8 962.3,202.5 962.7,205.5 963.0,194.6 963.3,219.8 963.7,218.8 964.0,199.2 964.3,219.1 964.7,207.1 958.0,212.3 965.0,247.6 970.0,207.5 965.0,207.4 965.3,213.3 965.7,205.1 957.0,212.8 966.0,258.6 970.0,208.0 966.0,201.6 966.3,198.1 966.7,203.2 967.0,192.3 967.3,192.1 967.7,209.4 968.0,206.3 968.3,193.7 968.7,197.6 969.0,196.2 969.3,204.2 969.7,202.8 970.0,198.5 970.3,206.3 970.7,200.0 971.0,183.9 971.3,195.5 971.7,187.9 972.0,182.7 972.3,192.8 972.7,197.5 973.0,193.5 973.3,191.9 973.7,195.9 974.0,191.4 974.3,190.0 974.7,189.1 975.0,183.8 975.3,183.0 975.7,193.6 976.0,198.5 976.3,181.0 976.7,179.1 977.0,196.7 977.3,201.3 977.7,206.7 978.0,203.5 978.3,195.1 978.7,189.3 979.0,182.7 979.3,197.7 979.7,194.2 980.0,187.6 980.3,194.3 980.7,193.0 981.0,200.8 981.3,190.3 981.7,194.9 982.0,213.6 982.3,218.9 982.7,207.1 983.0,217.4 983.3,202.6 983.7,199.6 984.0,224.0 984.3,214.5 984.7,213.4 985.0,218.3 985.3,206.0 985.7,223.2 986.0,217.0 986.3,226.4 986.7,213.3 987.0,223.5 987.3,215.4 987.7,229.3 988.0,236.1 988.3,233.5 988.7,226.3 989.0,237.9 989.3,216.5 989.7,221.8 989.5,225.6 990.0,192.4 999.0,232.0 990.0,224.1 990.3,218.9 990.7,247.7 991.0,225.0 991.3,248.7 991.7,252.7 992.0,236.5 992.3,251.5 992.7,253.9 993.0,251.9 993.3,259.0 993.7,257.8 994.0,254.3 994.3,243.4 994.7,243.2 995.0,246.8 995.3,266.7 995.7,235.2 996.0,257.0 996.3,263.6 996.7,246.1 997.0,243.6 997.3,251.7 997.7,273.6 998.0,259.6 998.3,265.3 998.7,246.1 999.0,278.9 999.3,246.6 999.7,248.0 1000.0,256.2 1000.3,245.4 1000.7,282.7 1001.0,263.1 1001.3,259.2 1001.7,257.7 1002.0,286.7 1002.3,286.5 1002.7,278.4 1003.0,270.4 1003.3,279.1 1003.7,269.8 1004.0,280.6 1004.3,270.8 1004.7,298.5 1005.0,295.0 1005.3,270.4 1005.7,292.1 1006.0,286.5 1006.3,291.1 1006.7,272.8 1007.0,273.5 1007.3,275.0 1007.7,298.4 1008.0,298.7 1008.3,303.4 1008.7,305.4 1009.0,292.9 1009.3,301.8 1009.7,308.2 1010.0,302.7 1010.3,315.4 1010.7,279.8 1011.0,291.9 1011.3,300.4 1011.7,306.1 1012.0,307.0 1012.3,300.6 1012.7,311.2 1013.0,295.2 1013.3,301.4 1013.7,293.2 1014.0,302.0 1014.3,312.1 1014.7,298.6 1015.0,306.4 1015.3,312.4 1015.7,319.2 1016.0,320.4 1016.3,306.0 1016.7,307.5 1017.0,300.9 1017.3,303.9 1017.7,318.2 1018.0,309.1 1018.3,311.5 1018.7,318.0 1019.0,317.2 1019.3,324.3 1019.7,305.8 1020.0,318.0 1020.3,325.4 1020.7,308.5 1021.0,330.4 1021.3,304.0 1021.7,324.0 1022.0,311.0 1022.3,328.7 1022.7,325.6 1023.0,316.7 1023.3,336.6 1023.7,336.6 1024.0,314.4 1024.3,312.9 1024.7,313.5 1025.0,317.9 1025.3,325.5 1025.7,334.7 1026.0,310.6 1026.3,337.5 1026.7,338.7 1027.0,336.3 1027.3,340.0 1027.7,340.0 1028.0,332.5 1028.3,337.6 1028.7,345.8 1029.0,345.0 1029.3,328.9 1029.7,336.6 1030.0,333.5 1030.3,333.3 1030.7,329.3 1031.0,342.1 1031.3,345.5 1031.7,335.3 1032.0,353.3 1032.3,335.4 1032.7,350.3 1032.5,335.6 1033.0,269.4 1036.0,342.0 1033.0,326.5 1033.3,340.0 1033.7,324.0 1034.0,331.7 1034.3,354.6 1034.7,341.8 1035.0,343.7 1035.3,344.6 1035.7,349.4 1036.0,341.1 1036.3,359.5 1036.7,351.8 1037.0,330.9 1037.3,365.1 1037.7,355.7 1038.0,338.4 1038.3,346.6 1038.7,338.9 1036.0,355.9 1039.0,392.6 1040.0,348.9 1039.0,351.2 1039.3,348.0 1039.7,357.1 1040.0,343.8 1040.3,342.7 1040.7,357.3 1041.0,334.1 1041.3,350.2 1041.7,339.2 1042.0,334.6 1042.3,356.3 1042.7,354.8 1043.0,353.6 1043.3,347.4 1043.7,335.9 1044.0,364.9 1044.3,366.3 1044.7,362.9 1045.0,350.1 1045.3,356.3 1045.7,339.6 1046.0,340.1 1046.3,362.2 1046.7,360.5 1047.0,361.7 1047.3,362.4 1047.7,367.4 1048.0,370.9 1048.3,343.4 1048.7,359.8 1049.0,346.6 1049.3,358.1 1049.7,348.5 1050.0,357.6 1050.3,362.5 1050.7,365.8 1051.0,348.7 1051.3,353.4 1051.7,363.5 1052.0,359.1 1052.3,371.9 1052.7,357.3 1053.0,352.1 1053.3,349.4 1053.7,350.1 1054.0,350.5 1054.3,352.1 1054.7,361.3 1055.0,351.6 1055.3,353.1 1055.7,373.2 1056.0,367.9 1056.3,371.2 1056.7,371.0 1057.0,359.6 1057.3,359.1 1057.7,349.1 1058.0,366.9 1058.3,345.8 1058.7,373.1 1059.0,370.2 1059.3,365.3 1059.7,351.2 1060.0,365.7 1060.3,364.7 1060.7,351.1 1061.0,375.6 1061.3,357.4 1061.7,356.5 1062.0,353.8 1062.3,355.5 1062.7,361.8 1063.0,351.7 1063.3,350.0 1063.7,350.2 1064.0,361.6 1064.3,356.9 1064.7,359.0 1065.0,369.4 1065.3,366.1 1065.7,373.4 1066.0,373.8 1066.3,351.8 1066.7,373.5 1067.0,359.7 1067.3,373.4 1067.7,370.8 1068.0,376.8 1068.3,359.0 1068.7,371.3 1069.0,376.6 1069.3,368.2 1069.7,369.1 1070.0,352.6 1070.3,359.4 1070.7,369.2 1071.0,352.4 1071.3,374.5 1071.7,355.7 1072.0,369.0 1072.3,374.0 1072.7,375.8 1073.0,377.1 1073.3,379.9 1073.7,359.0 1074.0,379.3 1074.3,370.8 1074.7,356.9 1075.0,355.0 1075.3,366.8 1075.7,371.4 1076.0,374.8 1076.3,375.6 1076.7,366.6 1077.0,374.4 1077.3,380.3 1077.7,367.9 1078.0,363.6 1078.3,360.1 1078.7,384.1 1079.0,375.4 1079.3,369.6 1079.7,375.4 1080.0,367.3 1080.3,366.5 1080.7,356.0 1081.0,360.4 1081.3,362.8 1081.7,372.7 1082.0,365.6 1082.3,366.8 1082.7,358.6 1083.0,380.1 1083.3,362.9 1083.7,368.7 1084.0,380.0 1084.3,363.6 1084.7,365.9 1085.0,376.8 1085.3,361.7 1085.7,351.2 1086.0,377.7 1086.3,369.1 1086.7,356.4 1087.0,372.7 1087.3,371.8 1087.7,381.1 1088.0,361.5 1088.3,380.6 1088.7,379.3 1089.0,378.4 1089.3,359.5 1089.7,356.5 1090.0,357.6 1090.3,361.4 1090.7,374.2 1091.0,361.1 1091.3,367.2 1091.7,372.8 1092.0,376.0 1092.3,376.0 1092.7,355.7 1093.0,375.7 1093.3,384.7 1093.7,384.6 1094.0,375.2 1094.3,361.6 1094.7,378.0 1095.0,381.9 1095.3,374.2 1095.7,371.6 1096.0,382.1 1096.3,357.0 1096.7,382.3 1097.0,382.0 1097.3,384.2 1097.7,367.4 1098.0,384.0 1098.3,363.3 1098.7,365.5 1099.0,387.3 1099.3,384.8 1099.7,384.7 1100.0,370.9 1100.3,382.4 1100.7,366.0 1101.0,363.0 1101.3,380.3 1101.7,387.2 1102.0,371.7 1102.3,386.0 1102.7,381.7 1103.0,386.2 1103.3,366.7 1103.7,371.0 1104.0,368.9 1104.3,387.7 1104.7,384.8 1105.0,380.8 1105.3,374.5 1105.7,370.1 1106.0,388.1 1106.3,376.0 1106.7,391.8 1107.0,386.7 1107.3,379.3 1107.7,377.7 1108.0,378.4 1108.3,374.5 1108.7,393.3 1109.0,376.3 1109.3,370.9 1109.7,388.9 1110.0,393.1 1110.3,394.8 1110.7,389.1 1111.0,374.3 1111.3,395.7 1111.7,374.8 1112.0,371.5 1112.3,391.4 1112.7,376.7 1113.0,391.8 1113.3,395.1 1113.7,379.1 1114.0,372.5 1114.3,372.3 1114.7,386.3 1115.0,379.7 1115.3,382.7 1115.7,390.6 1116.0,380.7 1116.3,400.4 1116.7,389.7 1117.0,382.8 1117.3,385.4 1117.7,388.1 1118.0,386.1 1118.3,401.9 1118.7,401.5 1119.0,410.3 1119.3,414.9 1119.7,412.4 1120.0,423.1 1120.3,424.0 1120.7,422.6 1121.0,429.7 1121.3,434.6 1118.5,433.2 1121.5,449.6 1124.5,430.0 1121.7,435.4 1122.0,426.3 1122.3,418.9 1122.7,416.8 1123.0,416.2 1123.3,412.2 1123.7,414.3 1124.0,413.4 1124.3,419.9 1124.7,413.0 1125.0,403.3 1125.3,419.8 1125.7,397.6 1126.0,416.4 1126.3,404.7 1126.7,413.0 1127.0,409.0 1127.3,395.4 1127.7,397.4 1128.0,402.3 1128.3,392.9 1128.7,402.8 1129.0,392.7 1129.3,399.3 1129.7,380.7 1130.0,398.9 1130.3,393.8 1130.7,383.4 1131.0,390.2 1131.3,386.0 1131.7,380.0 1132.0,392.8 1132.3,377.2 1132.7,382.7 1133.0,374.5 1133.3,395.4 1133.7,389.0 1134.0,379.3 1134.3,385.1 1134.7,383.5 1135.0,384.7 1135.3,392.4 1135.7,373.4 1136.0,385.9 1136.3,390.8 1136.7,376.0 1137.0,380.5 1137.3,367.9 1137.7,377.9 1137.0,374.6 1138.0,299.4 1146.0,379.6 1138.0,391.0 1138.3,375.6 1138.7,363.2 1139.0,381.7 1139.3,381.2 1139.7,387.6 1140.0,379.8 1140.3,379.5 1140.7,379.2 1141.0,376.1 1141.3,377.0 1141.7,386.1 1142.0,360.3 1142.3,371.5 1142.7,381.1 1143.0,377.0 1143.3,367.9 1143.7,385.6 1144.0,384.7 1144.3,364.1 1144.7,383.5 1145.0,368.5 1145.3,371.7 1145.7,377.6 1146.0,390.9 1146.3,379.0 1146.7,391.9 1147.0,374.7 1147.3,379.2 1147.7,380.0 1148.0,368.5 1148.3,370.5 1148.7,364.5 1149.0,368.5 1149.3,392.8 1149.7,370.2 1150.0,372.9 1150.3,358.9 1150.7,392.8 1151.0,394.7 1151.3,389.7 1151.7,366.7 1152.0,394.4 1152.3,392.2 1152.7,395.2 1153.0,369.8 1153.3,401.9 1153.7,367.5 1154.0,391.1 1154.3,370.3 1154.7,365.4 1155.0,365.1 1155.3,384.2 1155.7,397.9 1156.0,403.3 1156.3,378.8 1156.7,377.5 1157.0,366.4 1157.3,386.3 1157.7,393.3 1158.0,365.3 1158.3,385.2 1158.7,383.6 1159.0,373.1 1159.3,400.0 1159.7,401.7 1160.0,396.6 1160.3,376.2 1160.7,389.9 1161.0,374.2 1161.3,402.0 1161.7,405.1 1162.0,408.8 1162.3,414.0 1162.7,363.8 1163.0,404.3 1163.3,366.6 1163.7,407.8 1164.0,409.9 1161.6,378.0 1164.2,346.5 1165.3,387.8 1164.3,408.4 1164.7,385.9 1165.0,390.0 1165.3,391.5 1165.7,373.6 1166.0,396.5 1166.3,369.1 1166.7,374.6 1167.0,405.4 1167.3,385.9 1167.7,368.7 1168.0,370.4 1168.3,379.1 1168.7,386.9 1169.0,372.9 1169.3,389.2 1169.7,410.4 1169.0,378.9 1170.0,343.4 1172.0,389.0 1170.0,368.2 1170.3,376.9 1170.7,359.7 1171.0,367.5 1171.3,380.8 1171.7,410.4 1171.0,399.6 1172.0,415.6 1174.0,389.4 1172.0,386.0 1172.3,396.7 1172.7,369.3 1173.0,396.1 1173.3,373.5 1173.7,400.4 1174.0,414.8 1174.3,370.3 1174.7,368.7 1175.0,412.8 1175.3,386.6 1175.7,407.2 1176.0,425.9 1176.3,385.7 1176.7,401.3 1177.0,370.3 1177.3,390.8 1176.2,380.1 1177.4,340.4 1179.5,390.5 1177.7,365.7 1178.0,387.7 1178.3,401.7 1178.7,394.1 1179.0,407.7 1179.3,414.3 1179.7,385.9 1180.0,389.1 1180.3,372.9 1180.7,367.1 1181.0,371.1 1181.3,366.4 1181.7,367.0 1182.0,399.9 1182.3,379.0 1182.7,389.0 1183.0,385.2 1183.3,367.1 1183.7,413.4 1184.0,405.9 1184.3,388.5 1184.7,372.5 1185.0,402.2 1185.3,418.2 1185.7,398.3 1186.0,412.5 1186.3,401.5 1186.7,379.6 1187.0,389.0 1187.3,383.2 1187.7,386.0 1188.0,414.8 1188.3,406.2 1188.7,414.6 1189.0,400.2 1189.3,397.9 1189.7,368.5 1190.0,373.6 1190.3,377.1 1190.7,376.4 1191.0,373.7 1191.3,398.8 1191.7,369.9 1192.0,417.2 1192.3,368.0 1192.7,396.3 1193.0,404.5 1193.3,430.1 1193.7,403.6 1194.0,411.4 1194.3,384.7 1194.7,413.5 1195.0,383.8 1195.3,384.8 1195.7,426.9 1196.0,414.7 1196.3,367.7 1196.7,368.8 1197.0,380.6 1197.3,410.8 1197.7,380.7 1198.0,386.7 1198.3,369.5 1198.7,401.7 1199.0,380.3 1199.3,406.0 1199.7,411.8 1200.0,380.9 1200.3,389.2 1200.7,377.9 1201.0,383.1 1201.3,363.5 1200.1,402.8 1201.6,436.8 1203.7,392.4 1201.7,395.6 1202.0,407.3 1202.3,388.5 1202.7,384.6 1203.0,372.1 1203.3,419.1 1203.7,387.9 1204.0,391.9 1204.3,391.3 1204.7,394.3 1205.0,398.2 1205.3,369.3 1205.7,384.0 1206.0,414.3 1206.3,378.6 1204.3,402.6 1206.4,450.7 1208.1,392.2 1206.7,382.1 1207.0,400.9 1207.3,371.6 1207.7,399.2 1208.0,398.8 1208.3,393.8 1208.7,405.3 1209.0,387.5 1209.3,385.5 1209.7,393.0 1210.0,383.0 1210.3,387.1 1210.7,398.3 1211.0,394.1 1211.3,396.2 1211.7,415.3 1212.0,384.3 1212.3,369.9 1212.7,405.9 1213.0,405.3 1213.3,410.7 1213.7,401.0 1214.0,393.0 1214.3,380.9 1214.7,369.9 1215.0,400.7 1215.3,410.2 1215.7,413.2 1216.0,409.6 1216.3,365.3 1216.7,380.8 1217.0,379.8 1217.3,391.6 1217.7,394.0 1218.0,400.1 1218.3,378.8 1218.7,391.9 1219.0,389.8 1219.3,392.6 1219.7,370.5 1220.0,409.7 1220.3,394.8 1220.7,376.2 1221.0,391.1 1221.3,373.1 1221.7,413.7 1222.0,368.1 1222.3,404.2 1222.7,378.2 1223.0,410.1 1223.3,423.3 1223.7,376.7 1224.0,389.8 1224.3,372.5 1224.7,380.5 1225.0,387.8 1225.3,408.9 1225.7,399.2 1226.0,397.4 1226.3,397.5 1226.7,405.0 1227.0,414.1 1227.3,412.7 1227.7,409.1 1228.0,393.5 1228.3,369.9 1228.7,396.8 1229.0,397.1 1229.3,373.9 1229.7,408.6 1230.0,410.1 1230.3,381.5 1230.7,373.5 1231.0,391.6 1231.3,368.7 1231.7,406.3 1232.0,381.5 1232.3,378.2 1232.7,386.7 1233.0,413.7 1233.3,408.9 1233.7,410.7 1234.0,411.7 1233.1,379.9 1234.1,345.4 1236.1,389.2 1234.3,398.1 1234.7,384.9 1235.0,374.4 1235.3,412.5 1235.7,388.5 1236.0,382.8 1236.3,400.4 1236.7,407.6 1237.0,383.0 1237.3,396.3 1237.7,417.0 1238.0,397.6 1238.3,394.8 1238.7,398.5 1239.0,409.1 1239.3,408.2 1239.7,385.0 1240.0,385.3 1240.3,398.6 1240.7,384.1 1241.0,372.2 1241.3,407.4 1241.7,383.3 1242.0,396.1 1242.3,369.7 1242.7,408.6 1243.0,391.2 1243.3,374.0 1243.7,370.0 1244.0,376.1 1244.3,382.8 1244.7,388.7 1245.0,371.4 1245.3,377.5 1244.7,378.6 1245.6,348.2 1247.4,387.4 1245.7,375.6 1246.0,363.2 1246.3,365.0 1246.7,366.8 1247.0,386.1 1247.3,393.8 1247.7,381.3 1248.0,390.6 1248.3,366.8 1248.7,386.2 1248.0,378.3 1249.0,336.4 1251.0,387.1 1249.0,389.5 1249.3,392.9 1249.7,392.6 1250.0,393.2 1250.3,363.3 1249.5,395.8 1250.5,427.6 1252.5,386.9 1250.7,367.9 1251.0,376.3 1251.3,380.9 1251.7,386.1 1252.0,391.1 1252.3,390.3 1252.7,404.3 1253.0,375.8 1253.3,399.4 1253.7,369.5 1254.0,370.5 1254.3,389.8 1254.7,381.0 1255.0,387.8 1255.3,379.9 1255.7,383.6 1256.0,403.8 1256.3,409.0 1256.7,399.9 1257.0,380.0 1257.3,400.9 1257.7,376.6 1258.0,401.5 1258.3,363.5 1258.7,393.4 1259.0,384.9 1259.3,408.1 1259.7,396.1 1260.0,381.2 1260.3,387.2 1260.7,409.0 1261.0,396.4 1261.3,404.2 1261.7,400.9 1262.0,367.8 1262.3,365.6 1262.7,403.4 1263.0,372.6 1263.3,374.5 1263.7,370.6 1264.0,387.9 1264.3,381.4 1264.7,399.5 1265.0,394.2 1265.3,378.7 1265.7,385.3 1266.0,368.6 1266.3,391.7 1266.7,388.9 1267.0,395.1 1267.3,366.3 1267.7,407.0 1268.0,406.6 1268.3,375.5 1268.7,390.2 1269.0,365.6 1269.3,365.6 1267.3,376.6 1269.6,339.5 1270.9,385.4 1269.7,403.6 1270.0,410.3 1270.3,377.3 1268.7,394.1 1270.5,439.4 1272.8,385.3 1270.7,370.5 1271.0,406.4 1271.3,364.2 1271.7,376.4 1272.0,406.9 1272.3,399.3 1272.7,395.3 1273.0,368.6 1273.3,379.7 1273.7,405.3 1274.0,367.1 1274.3,364.0 1274.7,377.1 1275.0,392.8 1275.3,364.5 1275.7,378.9 1276.0,400.6 1276.3,395.0 1276.7,379.7 1277.0,385.3 1277.3,400.6 1277.7,368.6 1278.0,388.7 1278.3,376.2 1278.7,371.5 1279.0,377.9 1279.3,374.5 1277.0,377.9 1279.5,343.1 1281.6,386.7 1279.7,373.4 1280.0,396.5 1280.3,404.2 1280.7,365.8 1281.0,402.2 1281.3,405.3 1281.7,379.6 1282.0,384.9 1282.3,407.1 1282.7,400.4 1283.0,385.6 1283.3,413.3 1283.7,396.9 1284.0,380.8 1284.3,380.8 1284.7,374.6 1285.0,406.6 1285.3,405.6 1285.7,388.2 1286.0,401.1 1286.3,382.2 1286.7,391.8 1287.0,380.9 1287.3,386.7 1287.7,389.5 1288.0,370.3 1288.3,381.7 1288.7,386.5 1289.0,406.5 1289.3,374.7 1289.7,390.7 1290.0,390.4 1290.3,397.6 1290.7,386.9 1291.0,391.3 1291.3,379.0 1291.7,388.9 1292.0,391.2 1292.3,372.5 1292.7,384.3 1291.0,400.9 1293.0,440.6 1295.0,392.1 1293.0,380.7 1293.3,385.5 1293.7,369.5 1294.0,406.5 1294.3,420.8 1294.7,379.9 1295.0,403.1 1295.3,388.8 1295.7,394.8 1296.0,408.5 1296.3,407.3 1296.7,369.9 1297.0,399.4 1297.3,399.0 1297.7,375.3 1298.0,412.6 1298.3,410.2 1298.7,414.1 1299.0,383.7 1299.3,406.7 1299.7,401.2 1300.0,371.6 1300.3,386.1 1300.7,383.2 1301.0,399.9 1301.3,387.4 1301.7,389.2 1302.0,378.6 1302.3,381.5 1302.7,372.0 1300.6,401.8 1303.0,446.9 1304.4,393.1 1303.0,399.4 1303.3,406.1 1303.7,384.5 1304.0,404.9 1304.3,409.2 1304.7,389.7 1305.0,390.2 1305.3,378.3 1305.7,391.1 1304.0,399.8 1306.0,449.6 1308.0,391.2 1306.0,387.0 1306.3,379.5 1306.7,422.7 1307.0,394.0 1307.3,381.1 1307.7,399.9 1308.0,383.4 1308.3,407.7 1308.7,397.0 1309.0,373.9 1309.3,399.7 1309.7,370.4 1310.0,392.0 1310.3,390.5 1310.7,377.9 1311.0,361.3 1311.3,368.9 1311.7,378.1 1312.0,379.9 1312.3,382.4 1312.7,387.5 1313.0,388.3 1313.3,375.2 1313.7,399.4 1314.0,371.8 1314.3,396.6 1314.7,401.1 1315.0,404.1 1315.3,384.5 1315.7,366.9 1316.0,367.6 1316.3,397.8 1316.7,389.7 1317.0,399.1 1317.3,364.4 1317.7,372.1 1316.0,376.3 1318.0,315.4 1322.0,384.3 1318.0,376.9 1318.3,369.5 1318.7,365.0 1319.0,388.7 1319.3,397.1 1319.7,369.0 1320.0,381.8 1320.3,396.1 1320.7,383.9 1319.8,375.3 1320.7,342.5 1321.6,383.3 1321.0,375.4 1321.3,364.3 1321.7,375.3 1322.0,399.9 1322.3,388.2 1322.7,390.2 1323.0,399.0 1323.3,373.8 1323.7,390.5 1324.0,377.3 1324.3,392.3 1324.7,386.5 1325.0,378.2 1325.3,378.7 1325.7,388.5 1326.0,398.1 1326.3,385.5 1326.7,407.2 1327.0,398.8 1327.3,385.0 1327.7,392.7 1326.0,372.7 1328.0,331.4 1330.0,380.7 1328.0,383.2 1328.3,374.6 1328.7,395.6 1329.0,390.0 1329.3,380.9 1329.7,393.6 1330.0,352.3 1330.3,380.1 1330.7,368.6 1331.0,379.8 1331.3,362.8 1331.7,394.8 1332.0,370.6 1332.3,394.1 1332.7,371.4 1333.0,366.5 1333.3,386.0 1333.7,392.3 1334.0,389.3 1334.3,361.7 1334.7,396.9 1335.0,402.9 1335.3,394.1 1335.7,386.9 1336.0,401.9 1336.3,389.1 1336.7,391.8 1337.0,378.3 1337.3,383.5 1337.7,391.0 1338.0,373.4 1338.3,386.5 1338.7,365.4 1339.0,394.8 1339.3,382.6 1339.7,378.0 1337.0,386.9 1340.0,455.6 1342.0,380.0 1340.0,374.1 1340.3,396.0 1340.7,364.3 1341.0,380.5 1341.3,394.9 1341.7,392.2 1342.0,391.3 1342.3,390.4 1342.7,383.0 1343.0,379.3 1343.3,390.2 1343.7,369.0 1344.0,394.1 1344.3,384.4 1344.7,389.4 1345.0,388.0 1345.3,391.0 1345.7,365.4 1346.0,372.1 1346.3,368.5 1346.7,373.5 1347.0,381.5 1347.3,390.9 1347.7,378.7 1348.0,394.5 1348.3,373.8 1348.7,380.0 1349.0,391.3 1349.3,389.5 1349.7,381.6 1350.0,396.3 1350.3,359.0 1350.7,391.7 1351.0,374.1 1351.3,396.2 1351.7,377.5 1352.0,372.9 1352.3,406.1 1352.7,392.8 1353.0,370.2 1353.3,371.4 1353.7,379.3 1354.0,371.4 1354.3,375.4 1354.7,386.8 1355.0,375.1 1355.3,396.7 1355.7,373.1 1356.0,404.3 1356.3,375.3 1356.7,380.9 1357.0,386.3 1357.3,385.1 1357.7,374.5 1358.0,370.0 1358.3,367.9 1358.7,388.1 1359.0,386.0 1359.3,370.1 1359.7,392.0 1360.0,375.2 1360.3,387.6 1360.7,365.7 1361.0,382.1 1361.3,384.4 1361.7,377.7 1362.0,364.9 1362.3,400.3 1362.7,384.6 1363.0,385.9 1363.3,388.9 1363.7,381.6 1364.0,394.9 1364.3,394.0 1364.7,374.9 1365.0,389.7 1365.3,379.5 1365.7,377.4 1365.0,379.6 1366.0,357.4 1368.0,386.2 1366.0,375.6 1366.3,398.8 1366.7,372.4 1367.0,386.6 1367.3,390.4 1367.7,403.1 1366.0,394.3 1368.0,452.6 1370.0,387.5 1368.0,372.3 1368.3,398.7 1368.7,394.2 1369.0,400.9 1369.3,381.4 1369.7,385.2 1370.0,398.3 1370.3,396.2 1370.7,395.4 1371.0,389.2 1371.3,401.0 1371.7,390.6 1372.0,403.2 1372.3,412.9 1372.7,406.2 1373.0,376.5 1373.3,363.5 1373.7,380.1 1374.0,390.3 1374.3,398.2 1374.7,397.1 1375.0,377.9 1375.3,404.2 1375.7,389.0 1374.0,400.1 1376.0,449.6 1378.0,392.5 1376.0,386.4 1376.3,375.4 1376.7,377.9 1377.0,407.4 1377.3,393.4 1377.7,378.6 1378.0,377.8 1378.3,374.9 1378.7,384.5 1379.0,411.2 1379.3,393.1 1379.7,388.2 1380.0,413.5 1380.3,391.1 1380.7,384.1 1381.0,387.0 1381.3,390.0 1381.7,412.0 1382.0,383.7 1382.3,413.3 1382.7,404.7 1383.0,394.3 1383.3,386.0 1383.7,389.5 1384.0,391.3 1384.3,380.3 1384.7,407.4 1385.0,406.0 1385.3,400.5 1385.7,377.9 1383.7,388.9 1385.8,351.3 1387.9,396.9 1386.0,415.1 1386.3,407.2 1386.7,416.1 1387.0,407.0 1387.3,388.0 1387.7,395.4 1386.0,405.7 1388.0,453.6 1390.0,397.7 1388.0,416.0 1388.3,380.7 1388.7,380.2 1389.0,383.0 1389.3,406.9 1389.7,413.8 1390.0,411.8 1390.3,409.8 1390.7,416.9 1391.0,393.8 1391.3,386.9 1391.7,388.4 1392.0,398.0 1392.3,410.9 1392.7,394.6 1393.0,419.9 1393.3,403.5 1393.7,384.8 1394.0,418.2 1394.3,402.6 1394.7,402.4 1395.0,426.2 1395.3,388.8 1395.7,412.1 1396.0,415.1 1396.3,384.1 1396.7,407.6 1397.0,402.4 1397.3,406.2 1397.7,381.1 1398.0,406.6 1398.3,402.9 1398.7,380.3 1399.0,385.2 1399.3,408.6 1399.7,387.7 1400.0,407.6 1400.3,383.9 1400.7,409.3 1401.0,396.4 1401.3,382.2 1401.7,383.7 1402.0,418.1 1402.3,406.4 1402.7,416.3 1403.0,391.9 1403.3,374.5 1403.7,415.5 1404.0,394.7 1404.3,411.9 1404.7,398.7 1405.0,413.3 1405.3,386.8 1405.7,397.2 1406.0,388.1 1406.3,411.5 1406.7,380.8 1407.0,401.4 1407.3,396.8 1407.7,385.6 1408.0,399.9 1408.3,411.9 1408.7,411.8 1409.0,386.1 1409.3,402.0 1409.7,394.4 1410.0,403.8 1410.3,398.7 1410.7,414.3 1411.0,409.3 1411.3,393.0 1411.7,387.4 1412.0,396.1 1412.3,394.4 1412.7,409.3 1413.0,396.4 1413.3,400.4 1412.1,393.6 1413.5,353.6 1414.6,400.7 1413.7,386.7 1414.0,392.3 1414.3,405.7 1412.0,394.0 1414.5,364.3 1415.6,401.0 1414.7,414.1 1415.0,399.3 1415.3,389.6 1415.7,393.9 1416.0,397.0 1416.3,414.3 1416.7,387.0 1417.0,401.4 1417.3,399.2 1417.7,394.7 1418.0,393.0 1418.3,385.9 1418.7,391.3 1419.0,411.6 1419.3,396.7 1419.7,396.3 1420.0,415.1 1420.3,414.4 1420.7,394.7 1421.0,393.7 1421.3,400.8 1421.7,409.7 1422.0,385.1 1422.3,415.2 1422.7,409.2 1423.0,398.5 1423.3,411.9 1423.7,413.5 1424.0,415.3 1424.3,416.5 1424.7,402.9 1425.0,393.9 1425.3,412.5 1425.7,407.0 1426.0,391.3 1426.3,400.3 1426.7,418.5 1427.0,395.0 1427.3,411.9 1427.7,389.4 1428.0,403.5 1428.3,412.9 1428.7,391.7 1429.0,387.1 1429.3,397.6 1429.7,393.9 1430.0,402.7 1430.3,412.2 1430.7,394.1 1431.0,394.7 1431.3,391.8 1431.7,406.2 1432.0,407.8 1432.3,414.9 1432.7,416.6 1433.0,397.1 1433.3,413.0 1433.7,405.4 1434.0,407.0 1434.3,417.7 1434.7,400.1 1435.0,401.6 1435.3,407.3 1435.7,404.7 1436.0,417.7 1436.3,392.5 1436.7,404.5 1437.0,410.4 1437.3,397.2 1437.7,415.4 1438.0,406.5 1438.3,394.8 1438.7,394.6 1439.0,406.2 1439.3,407.1 1439.7,408.6 1440.0,416.8 1440.3,398.1 1440.7,417.4 1441.0,403.3 1441.3,394.3 1441.7,411.1 1442.0,398.2 1442.3,415.5 1442.7,411.1 1443.0,403.9 1443.3,405.2 1443.7,413.1 1444.0,396.2 1444.3,408.8 1444.7,407.9 1445.0,398.9 1445.3,397.3 1445.7,411.6 1446.0,411.4 1446.3,409.7 1446.7,405.2 1447.0,412.7 1447.3,404.6 1447.7,409.7 1448.0,396.2 1448.3,410.0 1448.7,415.7 1449.0,394.9 1449.3,406.2 1449.7,401.2 1450.0,398.7 1450.3,409.7 1450.7,405.8 1451.0,393.9 1451.3,390.3 1451.7,408.5 1452.0,401.8 1452.3,415.9 1452.7,399.5 1453.0,421.9 1453.3,399.8 1453.7,396.9 1454.0,415.7 1454.3,415.0 1454.7,399.9 1455.0,416.9 1455.3,414.1 1455.7,403.0 1456.0,416.2 1456.3,414.5 1456.7,401.5 1457.0,403.0 1457.3,418.0 1457.7,408.5 1458.0,413.5 1458.3,403.9 1458.7,414.4 1459.0,416.3 1459.3,417.6 1459.7,410.2 1460.0,411.7 1460.3,413.8 1460.7,401.7 1461.0,399.8 1461.3,403.5 1461.7,410.3 1462.0,413.1 1462.3,398.5 1462.7,419.6 1463.0,417.4 1463.3,404.6 1463.7,400.1 1464.0,414.9 1464.3,409.9 1464.7,403.1 1465.0,413.3 1465.3,421.7 1465.7,402.7 1466.0,419.7 1466.3,415.3 1466.7,400.0 1467.0,404.7 1467.3,412.8 1467.7,422.1 1468.0,399.8 1468.3,417.4 1468.7,401.4 1469.0,405.4 1469.3,399.7 1469.7,408.0 1470.0,408.5 1470.3,414.6 1470.7,414.3 1471.0,402.8 1471.3,401.1 1471.7,406.5 1472.0,397.7 1472.3,417.4 1472.7,402.6 1473.0,406.3 1473.3,413.9 1473.7,423.3 1474.0,419.3 1474.3,411.1 1474.7,419.0 1475.0,411.1 1475.3,417.1 1475.7,407.6 1476.0,420.1 1476.3,419.4 1476.7,415.7 1477.0,416.7 1477.3,405.8 1477.7,418.8 1478.0,411.6 1478.3,406.3 1478.7,427.4 1479.0,419.8 1479.3,409.4 1479.7,411.6 1480.0,434.6 1480.3,414.4 1480.7,411.2 1481.0,427.8 1481.3,418.7 1481.7,432.9 1482.0,420.0 1482.3,415.4 1482.7,432.2 1483.0,416.0 1483.3,429.9 1483.7,437.6 1484.0,421.8 1484.3,417.9 1484.7,433.4 1485.0,419.6 1485.3,424.6 1485.7,436.2 1486.0,419.9 1486.3,424.0 1486.7,433.8 1487.0,432.0 1487.3,423.4 1487.7,426.1 1488.0,434.4 1488.3,427.7 1488.7,440.9 1489.0,415.8 1489.3,441.4 1489.7,437.9 1490.0,416.2 1490.3,431.1 1490.7,419.4 1491.0,420.2 1491.3,442.1 1491.7,412.4 1492.0,442.3 1492.3,422.7 1492.7,430.0 1493.0,419.5 1493.3,438.8 1493.7,429.1 1494.0,439.6 1494.3,425.0 1494.7,417.8 1495.0,441.5 1495.3,432.6 1495.7,441.5 1496.0,431.2 1496.3,421.4 1496.7,430.2 1497.0,422.2 1497.3,425.3 1497.7,447.6 1498.0,424.2 1498.3,412.7 1498.7,424.7 1499.0,440.2 1499.3,439.3 1499.7,426.9 1498.0,422.8 1500.0,370.4 1505.0,427.9 1500.0,421.4 1500.3,435.4 1500.7,421.8 1501.0,429.2 1501.3,442.7 1501.7,434.1 1502.0,432.8 1502.3,426.4 1502.7,437.7 1503.0,439.1 1503.3,436.4 1503.7,441.6 1504.0,438.2 1504.3,415.9 1504.7,422.1 1505.0,415.3 1505.3,418.9 1505.7,442.1 1506.0,417.2 1506.3,413.4 1506.7,413.5 1507.0,412.9 1507.3,435.8 1507.7,434.4 1508.0,434.4 1508.3,433.9 1508.7,422.1 1509.0,415.8 1509.3,416.3 1509.7,428.7 1510.0,415.4 1510.3,418.8 1510.7,415.9 1511.0,420.0 1511.3,421.0 1511.7,406.4 1512.0,412.8 1512.3,428.5 1512.7,416.6 1513.0,409.1 1513.3,414.7 1513.7,428.2 1514.0,424.6 1514.3,426.3 1514.7,429.1 1515.0,425.7 1515.3,409.3 1515.7,414.1 1516.0,426.0 1516.3,416.9 1516.7,416.9 1517.0,425.2 1517.3,413.3 1517.7,420.5 1518.0,410.6 1518.3,414.5 1518.7,411.6 1519.0,415.3 1519.3,429.8 1519.7,426.3 1520.0,415.8 1520.3,423.7 1520.7,418.7 1521.0,409.3 1521.3,425.9 1521.7,421.4 1522.0,413.7 1522.3,413.1 1522.7,416.3 1523.0,414.0 1523.3,418.2 1523.7,405.1 1524.0,400.5 1524.3,412.3 1524.7,408.4 1525.0,402.7 1525.3,401.9 1525.7,392.5 1526.0,397.1 1526.3,389.8 1526.7,379.6 1527.0,387.0 1527.3,373.5 1527.7,377.3 1528.0,360.9 1528.3,358.5 1528.7,354.4 1529.0,355.4 1529.3,354.5 1529.7,355.6 1530.0,335.4 1530.3,343.4 1530.7,331.6 1531.0,348.3 1531.3,337.0 1531.7,326.9 1532.0,328.7 1532.3,321.0 1532.7,327.4 1533.0,323.9 1533.3,315.4 1533.7,332.4 1534.0,320.5 1534.3,326.2 1534.7,328.4 1535.0,320.2 1535.3,323.8 1535.7,306.8 1536.0,323.5 1536.3,328.0 1536.7,315.0 1537.0,306.1 1537.3,327.5 1537.7,316.4 1538.0,301.7 1538.3,322.2 1538.7,305.9 1539.0,320.9 1539.3,298.0 1539.7,299.0 1540.0,314.6 1540.3,318.4 1540.7,309.6 1541.0,306.5 1541.3,293.9 1541.7,298.1 1542.0,307.2 1542.3,291.2 1542.7,312.7 1543.0,303.7 1543.3,303.2 1543.7,302.7 1544.0,291.2 1544.3,311.8 1544.7,296.4 1545.0,318.6 1545.3,318.8 1545.7,304.7 1546.0,306.6 1546.3,291.4 1546.7,286.6 1547.0,294.5 1547.3,283.3 1547.7,310.3 1548.0,287.4 1548.3,291.0 1548.7,302.2 1549.0,279.3 1549.3,279.0 1549.7,276.2 1550.0,283.3 1550.3,303.4 1550.7,290.8 1551.0,297.5 1551.3,282.3 1551.7,284.7 1552.0,270.7 1552.3,290.5 1552.7,284.8 1553.0,288.3 1553.3,279.0 1553.7,289.4 1554.0,287.3 1554.3,290.9 1554.7,287.3 1555.0,288.5 1555.3,295.2 1555.7,281.7 1556.0,273.3 1556.3,267.8 1556.7,256.1 1557.0,260.8 1557.3,288.3 1557.7,280.5 1558.0,262.3 1558.3,288.1 1558.7,266.4 1559.0,283.9 1559.3,276.2 1559.7,259.1 1560.0,260.2 1560.3,260.9 1560.7,257.2 1561.0,262.2 1561.3,259.5 1561.7,259.4 1562.0,270.5 1562.3,268.6 1562.7,258.6 1563.0,271.6 1563.3,264.5 1563.7,262.5 1564.0,258.7 1564.3,253.0 1564.7,277.0 1565.0,266.6 1565.3,270.9 1565.7,267.4 1566.0,265.4 1566.3,261.8 1566.7,258.9 1567.0,266.2 1567.3,261.2 1567.7,254.0 1568.0,262.9 1568.3,273.0 1568.7,239.7 1569.0,244.5 1569.3,270.7 1569.7,252.5 1570.0,266.4 1570.3,248.6 1570.7,251.2 1571.0,262.4 1571.3,242.7 1571.7,255.9 1572.0,256.2 1572.3,253.4 1572.7,262.4 1573.0,273.4 1573.3,274.5 1573.7,259.4 1574.0,254.0 1574.3,271.1 1574.7,263.8 1575.0,264.0 1575.3,265.4 1575.7,249.4 1576.0,270.6 1576.3,272.9 1576.7,243.1 1577.0,242.3 1577.3,245.4 1577.7,266.3 1578.0,265.8 1578.3,263.0 1578.7,243.0 1579.0,246.9 1579.3,241.6 1579.7,256.3 1580.0,256.4 1580.3,258.4 1580.7,246.2 1581.0,258.3 1581.3,249.7 1581.7,262.6 1582.0,260.2 1582.3,233.1 1582.7,258.4 1583.0,248.5 1583.3,244.3 1583.7,261.3 1584.0,247.3 1584.3,240.2 1584.7,248.9 1585.0,262.4 1585.3,264.7 1585.7,258.2 1586.0,261.2 1586.3,244.1 1586.7,261.4 1587.0,247.9 1587.3,244.0 1587.7,238.4 1588.0,244.1 1588.3,256.1 1588.7,232.6 1589.0,269.2 1589.3,245.2 1589.7,231.6 1590.0,249.9 1590.3,229.3 1590.7,235.8 1591.0,219.0 1591.3,241.3 1591.7,244.3 1592.0,228.8 1592.3,235.8 1592.7,250.5 1593.0,248.9 1593.3,238.5 1593.7,235.7 1594.0,250.7 1594.3,252.9 1594.7,224.4 1595.0,255.0 1595.3,235.2 1595.7,221.7 1596.0,252.2 1596.3,252.3 1596.7,246.0 1597.0,247.1 1597.3,243.9 1597.7,228.2 1598.0,231.7 1598.3,249.2 1598.7,232.6 1599.0,259.3 1599.3,241.5 1599.7,215.7 1600.0,242.7 1600.3,237.2 1600.7,236.3 1601.0,244.8 1601.3,232.0 1601.7,231.7 1602.0,255.6 1602.3,253.4 1602.7,255.0 1603.0,223.5 1603.3,260.9 1603.7,258.0 1604.0,255.1 1604.3,254.7 1604.7,260.4 1605.0,254.1 1605.3,223.0 1605.7,247.4 1606.0,231.1 1606.3,260.5 1606.7,229.9 1607.0,236.4 1607.3,229.9 1607.7,252.9 1608.0,250.1 1608.3,243.2 1608.7,235.5 1609.0,254.3 1609.3,222.3 1609.7,239.2 1610.0,251.1 1610.3,261.9 1610.7,262.2 1611.0,234.9 1611.3,232.8 1611.7,252.1 1612.0,260.9 1612.3,231.9 1612.7,247.5 1613.0,265.8 1613.3,236.9 1613.7,244.6 1614.0,269.9 1614.3,257.6 1614.7,255.8 1615.0,269.6 1615.3,251.0 1615.7,239.4 1616.0,242.0 1616.3,260.2 1616.7,246.3 1617.0,241.4 1617.3,260.6 1617.7,267.9 1618.0,267.7 1618.3,255.9 1618.7,260.1 1619.0,242.4 1619.3,250.1 1619.7,267.5 1620.0,287.7 1620.3,265.6 1620.7,253.8 1621.0,245.1 1621.3,245.1 1621.7,279.6 1622.0,257.3 1622.3,272.9 1622.7,276.5 1623.0,278.0 1623.3,261.2 1623.7,275.9 1624.0,251.8 1624.3,269.0 1624.7,271.2 1625.0,277.3 1625.3,266.2 1625.7,264.4 1626.0,276.6 1626.3,286.6 1626.7,258.1 1627.0,257.8 1627.3,255.5 1627.7,268.8 1628.0,260.9 1628.3,259.2 1628.7,274.7 1629.0,283.6 1629.3,275.4 1629.7,293.6 1630.0,288.4 1630.3,289.1 1630.7,262.9 1631.0,255.6 1631.3,278.5 1631.7,291.2 1632.0,272.8 1632.3,283.8 1632.7,284.4 1633.0,279.4 1633.3,265.1 1629.5,275.6 1633.5,343.6 1635.5,268.2 1633.7,283.9 1634.0,271.4 1634.3,260.0 1634.7,262.3 1635.0,282.1 1635.3,248.8 1635.7,280.0 1636.0,256.5 1636.3,263.8 1636.7,261.0 1637.0,259.2 1637.3,257.0 1637.7,278.2 1638.0,272.1 1638.3,258.8 1638.7,272.2 1639.0,258.4 1639.3,255.3 1639.7,260.9 1640.0,240.7 1640.3,245.0 1640.7,250.0 1641.0,264.8 1641.3,241.7 1641.7,249.3 1642.0,249.0 1642.3,264.4 1642.7,251.6 1643.0,264.4 1643.3,243.2 1643.7,250.1 1644.0,265.6 1644.3,239.2 1644.7,260.6 1645.0,265.5 1645.3,251.6 1645.7,258.2 1646.0,250.7 1646.3,260.7 1645.6,245.9 1646.6,184.4 1651.6,252.0 1646.7,253.6 1647.0,242.4 1647.3,249.3 1647.7,244.3 1648.0,249.7 1648.3,237.4 1648.7,275.3 1649.0,259.6 1649.3,267.9 1649.7,241.4 1650.0,238.5 1650.3,268.3 1650.7,259.8 1651.0,262.3 1651.3,260.9 1651.7,260.4 1652.0,247.1 1652.3,269.4 1652.7,248.7 1653.0,269.9 1653.3,266.4 1653.7,265.1 1654.0,266.8 1654.3,267.9 1654.7,238.0 1655.0,249.8 1655.3,255.0 1655.7,264.3 1656.0,261.8 1656.3,242.0 1656.7,255.1 1657.0,239.5 1657.3,267.5 1657.7,255.2 1658.0,268.8 1658.3,260.0 1658.7,240.9 1659.0,263.7 1659.3,263.8 1659.7,255.2 1659.0,243.4 1660.0,215.4 1662.0,253.9 1660.0,250.6 1660.3,253.1 1660.7,272.0 1661.0,251.1 1661.3,259.6 1661.7,263.1 1662.0,264.6 1662.3,249.9 1662.7,260.2 1663.0,245.6 1663.3,245.3 1663.7,257.7 1664.0,245.4 1664.3,247.9 1664.7,239.9 1665.0,263.8 1665.3,267.5 1665.7,239.9 1666.0,257.4 1666.3,256.1 1666.7,274.7 1667.0,274.9 1667.3,261.0 1667.7,271.9 1665.8,266.0 1667.8,293.6 1669.8,256.6 1668.0,233.7 1668.3,250.6 1668.7,236.9 1669.0,264.8 1669.3,255.1 1669.7,262.2 1670.0,273.8 1670.3,275.7 1670.7,266.6 1671.0,274.5 1671.3,232.1 1671.7,250.6 1672.0,251.7 1672.3,265.7 1672.7,241.7 1673.0,260.4 1673.3,242.1 1673.7,249.6 1674.0,251.4 1674.3,241.4 1674.7,245.1 1675.0,253.2 1675.3,269.4 1675.7,245.1 1676.0,270.2 1676.3,245.0 1676.7,256.9 1677.0,252.4 1677.3,266.9 1677.7,269.7 1678.0,267.0 1678.3,258.5 1678.7,257.0 1679.0,245.3 1679.3,266.0 1679.7,260.4 1680.0,245.2 1680.3,256.7 1680.7,247.2 1681.0,247.0 1681.3,266.0 1681.7,263.4 1682.0,262.1 1682.3,247.4 1682.7,257.6 1683.0,256.3 1683.3,259.6 1683.7,252.3 1684.0,259.7" fill="none" stroke="#000" stroke-width="4.80" stroke-linejoin="miter" stroke-miterlimit="2"/>
<path d="M50.7,940.0L51.0,921.8 51.4,913.6 51.7,899.5 52.0,918.0 52.4,916.0 52.7,905.1 53.0,918.6 53.4,931.0 53.7,906.1 54.0,949.7 54.4,908.7 54.7,927.9 55.0,916.4 55.4,905.7 55.7,933.2 56.0,933.0 56.4,936.1 56.7,929.3 57.0,911.1 57.4,919.6 57.7,914.2 58.0,937.2 58.4,912.3 58.7,938.8 59.0,919.9 59.4,907.1 59.7,909.3 60.0,904.5 60.4,915.2 60.7,909.8 61.0,931.5 61.4,900.7 61.7,936.9 62.0,924.4 62.4,943.5 62.7,936.7 63.0,917.1 63.4,932.3 63.7,920.9 63.7,912.4 64.0,875.5 64.8,920.0 64.0,913.7 64.4,922.4 64.7,919.0 65.0,910.4 65.4,912.9 65.7,912.7 66.0,936.2 66.4,931.3 66.7,917.8 67.0,909.9 67.4,933.4 67.7,913.5 68.0,891.6 68.4,920.7 68.7,931.0 69.0,923.4 69.4,912.4 69.7,913.3 70.0,904.5 70.4,934.2 70.7,931.9 71.0,914.4 71.4,934.6 71.7,919.8 72.0,910.2 72.4,903.0 72.7,922.6 73.0,926.2 73.4,938.2 73.7,915.9 74.0,907.8 74.4,928.2 74.7,901.2 75.0,915.3 75.4,912.5 75.7,923.6 76.0,923.7 76.4,922.4 76.7,913.5 77.0,936.6 77.4,917.1 77.7,927.8 78.0,907.8 78.4,909.2 78.7,930.4 79.0,928.4 79.4,914.5 79.7,938.3 80.0,930.4 80.4,937.5 80.7,930.5 81.0,924.3 81.4,936.4 81.7,922.7 82.0,925.7 82.4,925.0 82.7,930.0 83.0,925.3 83.4,929.8 83.7,932.2 84.0,933.1 84.4,935.7 84.7,928.0 85.0,912.7 85.4,935.5 85.7,909.7 86.0,936.1 86.4,907.0 86.7,923.6 87.0,910.9 87.4,903.0 87.7,921.8 88.0,919.6 88.4,914.3 88.7,920.2 89.0,901.6 89.4,924.9 89.7,909.1 90.0,924.3 90.4,929.1 90.7,930.2 91.0,922.3 91.4,913.6 91.7,908.4 92.0,932.0 92.4,902.6 92.7,904.5 93.0,941.3 93.4,899.3 93.7,905.0 94.0,934.2 94.4,913.6 94.7,917.3 95.0,911.8 95.4,928.3 95.7,936.3 96.0,925.6 96.4,934.1 96.7,932.3 97.0,913.7 97.4,904.0 97.7,913.6 98.0,906.7 98.4,911.5 98.7,936.2 99.0,908.3 99.4,903.0 99.7,906.0 100.0,920.9 100.4,924.7 100.7,932.8 101.0,908.2 101.4,939.5 101.7,924.1 102.0,930.3 102.4,906.7 102.7,934.4 103.0,899.9 103.4,915.4 103.7,932.9 104.0,902.3 104.4,928.9 104.7,911.7 105.0,900.3 105.4,932.9 105.7,933.1 106.0,920.7 106.4,904.5 106.7,936.9 107.0,934.4 107.4,909.1 107.7,928.9 108.0,947.0 108.4,917.4 108.7,934.8 109.0,927.4 109.4,916.9 109.7,926.7 110.0,908.1 110.4,916.5 110.7,934.4 111.0,925.1 111.4,939.6 111.7,933.4 112.0,934.9 112.4,893.1 112.7,917.4 113.0,916.7 113.4,927.8 113.7,918.9 114.0,925.8 114.4,917.1 114.7,926.4 115.0,914.7 115.4,927.3 115.7,922.1 116.0,925.7 116.4,943.3 116.7,901.7 117.0,910.6 117.4,932.7 117.7,935.5 118.0,913.8 118.4,933.1 118.7,904.9 119.0,930.8 119.4,904.3 119.7,908.7 119.7,925.6 120.0,945.5 120.8,918.0 120.0,925.2 120.4,906.4 120.7,922.4 121.0,937.3 121.4,904.7 121.7,928.8 122.0,900.7 122.4,923.1 122.7,927.8 123.0,900.8 123.4,935.3 123.7,928.9 124.0,915.5 124.4,921.9 124.7,914.7 125.0,935.2 125.4,933.5 125.7,923.4 126.0,914.3 126.4,909.5 126.7,913.7 127.0,908.2 127.4,907.3 127.7,916.5 128.0,909.3 128.4,928.2 128.7,903.4 129.0,906.6 129.4,908.1 129.7,913.2 130.0,929.4 130.4,911.2 130.7,921.6 131.0,926.7 131.4,893.2 131.7,936.8 132.0,933.8 132.4,936.3 132.7,932.3 133.0,942.4 133.4,902.2 133.7,909.6 134.0,901.5 134.4,918.6 134.7,932.4 135.0,935.5 135.4,947.3 135.7,926.5 136.0,926.5 136.4,904.0 136.7,902.2 137.0,931.7 137.4,928.0 137.7,937.7 138.0,934.7 138.4,907.5 138.7,916.6 139.0,939.7 139.4,928.4 139.7,932.3 140.0,927.0 140.4,936.0 140.7,927.7 141.0,928.7 141.4,909.5 141.7,911.0 142.0,897.6 142.4,907.3 142.7,931.7 143.0,911.4 143.4,931.5 143.7,921.8 144.0,905.0 144.4,928.8 144.7,918.5 145.0,900.3 145.4,917.8 145.7,907.7 146.0,901.6 146.4,913.1 146.7,933.6 147.0,901.6 147.4,921.3 147.7,921.1 148.0,928.0 148.4,919.7 148.7,933.3 149.0,901.4 149.4,912.5 149.7,915.9 150.0,933.1 150.4,917.8 150.7,904.5 151.0,916.0 151.4,918.8 151.7,906.8 152.0,921.6 152.4,935.5 152.7,910.9 153.0,930.9 153.4,903.9 153.7,922.8 154.0,923.7 154.4,899.5 154.7,927.0 155.0,933.2 155.4,906.5 155.7,928.4 156.0,917.3 156.4,927.7 156.7,898.1 157.0,906.7 157.4,917.8 157.7,916.5 158.0,904.1 158.4,922.5 158.7,918.5 159.0,928.7 159.4,907.0 159.7,904.0 159.7,923.6 160.0,947.5 160.8,916.0 160.0,927.9 160.4,902.2 160.7,918.9 161.0,906.0 161.4,906.6 161.7,904.5 162.0,935.7 162.4,913.6 162.7,921.3 163.0,908.0 163.4,907.7 163.7,916.9 164.0,916.3 164.4,923.1 164.7,912.1 165.0,896.8 165.4,924.6 165.7,914.5 166.0,910.0 166.4,914.3 166.7,913.0 167.0,920.8 167.4,905.5 167.7,929.1 168.0,917.6 168.4,918.0 168.7,905.7 169.0,923.4 169.4,894.0 169.7,926.2 170.0,904.8 170.4,915.2 170.7,908.2 171.0,933.6 171.4,904.1 171.7,901.3 172.0,905.3 172.4,903.4 172.7,908.2 173.0,908.1 173.4,910.5 173.7,921.8 174.0,902.8 174.4,884.8 174.7,914.3 175.0,931.2 175.4,899.4 175.7,900.8 176.0,883.0 176.4,931.7 176.7,893.1 177.0,906.4 177.4,895.7 177.7,927.8 178.0,898.4 178.4,919.2 178.7,935.2 179.0,905.4 179.4,893.2 179.7,897.3 180.0,918.9 180.4,923.3 180.7,917.8 181.0,919.6 181.4,909.3 181.7,918.5 182.0,891.8 182.4,919.3 182.7,899.6 183.0,898.5 183.4,926.7 183.7,927.4 184.0,898.6 184.4,919.3 184.7,912.4 185.0,893.3 185.4,893.5 185.7,922.2 186.0,908.8 186.4,914.3 186.7,897.8 187.0,919.6 187.4,924.1 187.7,924.3 188.0,934.5 188.4,932.6 188.7,889.9 189.0,913.7 189.4,929.6 189.7,911.9 190.0,915.6 190.4,918.4 190.7,900.9 191.0,902.8 191.4,898.2 191.7,948.4 192.0,914.3 192.4,901.6 192.7,934.5 192.7,909.1 193.0,851.5 193.8,917.4 193.0,899.7 193.4,943.9 193.7,928.4 194.0,931.5 194.4,922.0 194.7,930.0 195.0,903.3 195.4,924.3 195.7,912.8 196.0,925.7 196.4,908.1 196.7,912.6 197.0,918.6 197.4,914.9 197.7,942.4 198.0,935.3 198.4,921.4 198.7,919.2 199.0,916.5 199.4,933.5 199.7,921.1 200.0,922.4 200.4,930.1 200.7,928.1 201.0,909.3 201.4,938.3 201.7,905.9 202.0,937.2 202.4,945.6 202.7,912.5 203.0,906.8 203.4,925.0 203.7,927.8 204.0,922.8 204.4,944.2 204.7,931.6 205.0,932.0 205.4,922.2 205.7,930.1 206.0,914.9 206.4,935.9 206.7,923.6 207.0,944.9 207.4,947.1 207.7,925.5 208.0,922.4 208.4,950.1 208.7,918.4 209.0,938.4 209.4,925.3 209.7,929.0 210.0,925.9 210.4,921.9 210.7,922.6 211.0,922.3 211.4,946.5 211.7,938.3 212.0,926.4 212.4,930.3 212.7,932.0 213.0,942.5 213.4,951.5 213.7,918.1 214.0,945.5 214.4,944.7 214.7,956.4 215.0,909.6 215.4,938.9 215.7,927.3 216.0,949.7 216.4,944.8 216.7,959.8 217.0,931.0 217.4,928.6 217.7,971.8 218.0,940.8 218.4,932.8 218.7,944.9 219.0,947.9 219.4,950.0 219.7,951.1 220.0,939.7 220.4,964.1 220.7,960.4 221.0,958.2 221.4,970.5 221.7,949.9 222.0,983.4 222.4,951.0 222.7,941.6 223.0,964.3 223.4,977.1 223.7,945.6 224.0,956.2 224.4,955.3 224.7,948.3 225.0,951.1 225.4,946.8 225.7,957.1 226.0,960.4 226.4,962.1 226.7,960.1 227.0,967.4 227.4,951.1 227.7,958.0 228.0,971.2 228.4,983.8 228.7,977.4 229.0,972.9 229.4,965.7 229.7,999.6 230.0,964.9 230.4,965.3 230.7,963.4 231.0,977.0 231.4,976.1 231.7,981.6 232.0,975.8 232.4,982.4 232.7,962.8 233.0,986.1 233.4,974.8 233.7,959.4 234.0,980.3 234.4,991.3 234.7,1001.0 235.0,959.5 235.4,1003.9 235.7,992.6 236.0,1000.2 236.4,973.3 236.7,998.1 237.0,988.2 237.4,958.3 237.7,1012.2 238.0,994.3 238.4,980.3 238.7,974.3 239.0,984.7 239.4,962.8 239.7,1013.9 240.0,1009.8 240.4,1020.2 240.7,987.4 241.0,1002.1 241.4,999.7 241.7,982.3 242.0,1015.3 242.4,1022.2 242.7,1000.7 243.0,1011.1 243.4,992.4 243.7,1019.6 244.0,1000.1 244.4,1026.6 244.7,997.0 245.0,999.8 245.4,1046.4 245.7,1034.7 246.0,1002.3 246.4,1028.3 246.7,994.0 247.0,1042.6 247.4,1035.3 247.7,1011.5 248.0,1004.6 248.4,1039.6 248.7,1019.9 249.0,1029.8 249.4,1029.2 249.7,1034.1 250.0,1021.1 250.4,1029.1 250.7,1049.7 251.0,1014.0 251.4,1051.4 251.7,1020.8 252.0,1051.0 252.4,1026.7 252.7,1037.0 253.0,1027.6 253.4,1040.9 253.7,1049.9 254.0,1039.6 254.4,1029.3 254.7,1056.1 255.0,1031.3 255.4,1061.0 255.7,1039.4 256.0,1035.6 256.4,1031.5 256.7,1040.2 257.0,1071.4 257.4,1045.0 257.7,1061.0 258.0,1069.5 258.4,1069.4 258.7,1071.1 259.0,1042.1 259.4,1056.6 259.7,1042.0 260.0,1077.3 260.4,1071.5 260.7,1058.7 261.0,1052.0 261.4,1075.3 261.7,1080.2 262.0,1073.5 262.4,1076.3 262.7,1082.8 263.0,1044.6 263.4,1069.6 263.7,1057.4 264.0,1079.7 264.4,1090.5 264.7,1069.7 265.0,1067.2 265.4,1060.4 265.7,1081.4 266.0,1081.1 266.4,1081.5 266.7,1089.4 267.0,1104.8 267.4,1091.5 267.7,1095.2 268.0,1079.1 268.4,1084.2 268.7,1081.7 269.0,1080.1 269.4,1090.6 269.7,1081.3 270.0,1082.6 270.4,1083.2 270.7,1075.1 271.0,1094.6 271.4,1100.3 271.7,1088.9 272.0,1084.9 272.4,1106.2 272.7,1078.3 273.0,1096.9 273.4,1081.8 273.7,1090.4 274.0,1113.5 274.4,1109.9 274.7,1074.0 275.0,1095.8 275.4,1101.2 275.7,1101.3 276.0,1083.9 276.4,1099.3 276.7,1094.8 277.0,1093.5 277.4,1115.8 277.7,1083.1 278.0,1090.7 278.4,1106.2 278.7,1110.9 279.0,1086.6 279.4,1097.5 279.2,1104.1 279.5,1138.5 280.3,1096.9 279.7,1085.0 280.0,1079.9 280.4,1084.9 280.7,1104.1 281.0,1086.1 281.4,1111.4 281.7,1111.7 282.0,1096.8 282.4,1088.2 282.7,1113.1 283.0,1107.4 283.4,1111.2 283.7,1087.6 284.0,1108.6 284.4,1115.3 284.7,1087.7 285.0,1093.5 285.4,1112.8 285.7,1085.1 286.0,1112.6 286.4,1098.9 286.7,1119.0 287.0,1104.9 287.4,1110.6 287.7,1105.2 288.0,1102.7 288.4,1109.3 288.7,1084.7 289.0,1107.6 289.4,1104.6 289.7,1092.7 290.0,1086.2 290.4,1113.9 290.7,1106.3 291.0,1078.9 291.4,1089.6 291.7,1106.5 292.0,1097.6 292.4,1106.4 292.7,1095.1 293.0,1107.7 293.4,1105.4 293.7,1089.5 294.0,1120.9 294.4,1097.8 294.7,1095.2 295.0,1093.0 295.4,1102.2 295.7,1122.2 296.0,1088.7 296.4,1092.1 296.7,1104.2 297.0,1101.0 297.4,1098.5 297.7,1108.9 298.0,1095.9 298.4,1114.1 298.7,1125.9 299.0,1105.8 299.4,1116.4 299.7,1102.2 299.7,1114.1 300.0,1127.5 300.8,1106.5 300.0,1116.0 300.4,1095.1 300.7,1127.5 301.0,1117.0 301.4,1102.4 301.7,1110.0 302.0,1099.3 302.4,1098.0 302.7,1098.7 303.0,1087.0 303.4,1115.3 303.7,1086.0 304.0,1097.2 304.4,1108.3 304.7,1121.6 305.0,1090.4 305.4,1095.8 305.7,1088.5 306.0,1124.2 306.4,1120.0 306.7,1119.4 307.0,1098.2 307.4,1100.6 307.7,1095.7 308.0,1116.3 308.4,1114.3 308.7,1087.7 309.0,1111.7 309.4,1110.7 309.7,1116.7 310.0,1124.5 310.4,1120.2 310.7,1092.1 311.0,1114.0 311.4,1102.4 311.7,1096.0 312.0,1123.2 312.4,1097.4 312.7,1087.0 313.0,1118.0 313.4,1087.2 313.7,1118.2 314.0,1081.1 314.4,1091.7 314.7,1088.6 315.0,1108.5 315.4,1116.0 315.7,1116.5 316.0,1105.8 316.4,1097.5 316.7,1095.5 317.0,1128.6 317.4,1081.6 317.7,1102.3 318.0,1103.4 318.4,1068.6 318.7,1110.3 319.0,1092.9 319.4,1121.9 319.7,1092.7 320.0,1124.4 320.4,1115.3 320.7,1114.2 321.0,1125.4 321.4,1101.8 321.7,1107.4 322.0,1113.9 322.4,1128.3 322.7,1104.9 323.0,1126.9 323.4,1105.5 323.7,1084.1 324.0,1107.3 324.4,1105.0 324.7,1098.6 325.0,1129.2 325.4,1122.5 325.7,1098.1 326.0,1120.2 326.4,1095.2 326.7,1115.0 327.0,1116.0 327.4,1096.5 327.7,1122.6 328.0,1091.3 328.4,1120.8 328.7,1096.2 329.0,1116.1 329.4,1105.2 329.7,1111.9 329.7,1116.1 330.0,1132.5 330.8,1106.6 330.0,1092.0 330.4,1121.9 330.7,1097.5 331.0,1091.7 331.4,1095.4 331.7,1102.3 332.0,1112.8 332.4,1128.0 332.7,1105.6 333.0,1104.0 333.4,1104.4 333.7,1101.0 334.0,1097.0 334.4,1088.3 334.7,1093.1 335.0,1105.9 335.4,1113.2 335.7,1106.6 336.0,1111.3 336.4,1129.6 336.7,1085.4 337.0,1110.4 337.4,1112.5 337.7,1103.7 338.0,1084.2 338.4,1111.4 338.7,1136.7 339.0,1094.9 339.4,1115.0 339.7,1098.8 340.0,1116.7 340.4,1100.5 340.7,1086.8 341.0,1120.2 341.4,1122.6 341.7,1096.5 342.0,1124.9 342.4,1089.8 342.7,1098.0 343.0,1086.8 343.4,1123.4 343.7,1119.6 344.0,1107.1 344.4,1097.3 344.7,1083.4 345.0,1100.2 345.4,1124.9 345.7,1078.1 346.0,1103.1 346.4,1110.7 346.7,1121.0 347.0,1112.4 347.4,1090.5 347.7,1106.7 348.0,1087.6 348.4,1122.1 348.7,1132.8 349.0,1084.2 349.4,1105.1 349.7,1118.6 350.0,1125.5 350.4,1085.1 350.7,1096.4 351.0,1118.5 351.4,1124.4 351.7,1090.8 352.0,1121.8 352.4,1123.7 352.7,1123.8 353.0,1104.6 353.4,1103.0 353.7,1084.4 354.0,1090.6 354.4,1083.6 354.7,1121.9 355.0,1113.4 355.4,1101.9 355.7,1100.8 356.0,1091.0 356.4,1111.1 356.7,1111.6 357.0,1107.2 357.4,1120.0 357.7,1117.9 357.7,1107.7 358.0,1148.1 358.8,1099.4 358.0,1109.6 358.4,1084.7 358.7,1096.2 359.0,1111.7 359.4,1092.8 359.7,1102.5 360.0,1082.8 360.4,1075.2 360.7,1099.1 361.0,1087.6 361.4,1084.1 361.7,1108.8 362.0,1086.6 362.4,1075.3 362.7,1072.3 363.0,1082.5 363.4,1083.5 363.7,1071.5 364.0,1073.3 364.4,1109.1 364.7,1069.9 365.0,1103.0 365.4,1100.7 365.7,1100.6 366.0,1101.3 366.4,1077.7 366.7,1071.1 367.0,1108.0 367.4,1076.3 367.7,1094.3 368.0,1098.4 368.4,1075.7 368.7,1066.6 369.0,1094.5 369.4,1079.5 369.7,1100.2 370.0,1101.3 370.4,1072.9 370.7,1085.0 371.0,1093.1 371.4,1066.9 371.7,1075.5 372.0,1068.6 372.4,1067.2 372.7,1059.9 373.0,1054.8 373.4,1086.5 373.7,1107.5 374.0,1100.7 374.4,1097.4 374.7,1104.0 375.0,1109.8 375.4,1109.2 375.7,1069.3 376.0,1082.4 376.4,1085.6 376.7,1089.3 377.0,1108.6 377.4,1081.4 377.7,1106.2 378.0,1108.1 378.4,1114.7 378.7,1094.1 379.0,1093.0 379.4,1083.8 379.7,1082.1 380.0,1079.4 380.4,1098.5 380.7,1100.1 381.0,1114.5 381.4,1111.1 381.7,1095.0 382.0,1064.2 382.4,1066.6 382.7,1069.2 383.0,1066.2 383.4,1089.8 383.7,1096.2 384.0,1083.1 384.4,1061.4 384.7,1060.6 385.0,1067.1 385.4,1056.3 385.7,1076.0 386.0,1060.6 386.4,1054.2 386.7,1070.2 387.0,1044.7 387.4,1055.1 387.7,1045.6 388.0,1075.3 388.4,1043.6 388.7,1036.3 389.0,1055.4 389.4,1064.7 389.7,1053.0 390.0,1046.5 390.4,1039.9 390.7,1062.9 391.0,1042.9 391.4,1060.1 391.7,1058.4 392.0,1036.8 392.4,1024.2 392.7,1025.9 393.0,1047.7 393.4,1041.1 393.7,1054.9 394.0,1047.7 394.4,1054.5 394.7,1042.3 395.0,1046.5 395.4,1027.7 395.7,1044.9 396.0,1021.9 396.4,1049.0 396.7,1020.7 397.0,1021.8 397.4,1023.5 397.7,1027.2 398.0,1052.2 398.4,1045.4 398.7,1041.0 399.0,1038.6 399.4,1047.9 399.7,1011.3 400.0,1036.7 400.4,1020.0 400.7,1050.2 401.0,1018.0 401.4,1018.4 401.7,1015.9 402.0,1034.5 402.4,1017.0 402.7,1033.0 403.0,1033.8 403.4,1030.7 403.7,1013.2 404.0,1024.6 404.4,1022.7 404.7,1019.1 405.0,1016.5 405.4,1046.0 405.7,1034.4 406.0,1023.7 406.4,1036.2 406.7,1024.0 407.0,1037.6 407.4,1016.4 407.7,1012.8 408.0,1031.4 408.4,1047.6 408.7,1017.0 409.0,1041.1 409.4,1029.5 409.7,1041.5 410.0,1030.5 410.4,1027.9 410.7,1032.0 411.0,994.9 411.4,1017.5 411.7,1008.3 412.0,1024.0 412.4,1032.2 412.7,1037.2 413.0,1034.6 413.4,1033.8 413.7,1034.8 414.0,1023.4 414.4,1011.9 414.7,1036.7 415.0,1043.7 415.4,1004.6 415.7,1006.4 416.0,1028.0 416.4,1008.2 416.7,1005.7 417.0,1041.7 417.4,1004.3 417.7,1022.6 418.0,1042.2 418.4,1022.0 418.7,1011.8 419.0,1025.9 419.4,1001.3 419.7,1032.1 420.0,1006.2 420.4,1034.1 420.7,1011.0 421.0,1007.2 421.4,1020.0 421.7,1033.9 422.0,1023.1 422.4,1033.3 422.7,1007.4 423.0,1022.1 423.4,1011.7 423.7,1008.3 424.0,1037.8 424.4,1032.8 424.7,1035.2 425.0,999.1 425.4,1027.7 425.7,1013.0 426.0,1005.0 426.4,1007.7 426.7,1001.8 427.0,1018.1 427.4,1013.2 427.7,1011.2 428.0,1016.0 428.4,1031.4 428.7,1003.6 429.0,1005.9 429.4,1032.0 429.7,1024.4 430.0,1000.1 430.4,1026.3 430.7,1020.1 431.0,1003.0 431.4,994.5 431.7,1036.7 432.0,1008.5 432.4,1030.9 432.7,1004.4 433.0,992.7 433.4,1015.8 433.7,981.5 434.0,1023.5 434.4,996.2 434.7,1000.4 435.0,993.5 435.4,1007.3 435.7,1004.1 436.0,1018.7 436.4,1000.8 436.7,1032.8 437.0,999.6 437.4,996.1 437.7,1033.1 438.0,1011.8 438.4,1000.7 438.7,1031.0 439.0,1029.0 439.4,989.5 439.7,995.0 440.0,1018.6 440.4,1025.9 440.7,998.2 441.0,993.6 441.4,1033.2 441.7,1014.3 442.0,1026.9 442.4,1020.8 442.7,1004.2 443.0,1031.1 443.4,1035.2 443.7,1016.0 444.0,1038.2 444.4,997.1 444.7,1007.9 445.0,1030.5 445.4,998.4 445.7,1006.4 446.0,1018.6 446.4,1022.6 446.7,997.7 447.0,1007.2 447.4,1036.6 447.7,1014.3 448.0,999.8 448.4,1003.6 448.7,1010.4 449.0,1024.5 449.4,1023.3 449.7,997.2 450.0,1005.9 450.4,1029.9 450.7,999.4 451.0,1009.7 451.4,1015.1 451.7,1034.1 452.0,1010.1 452.4,1010.4 452.7,1006.7 453.0,1005.7 453.4,1010.3 453.7,1006.2 453.7,1028.6 454.0,1047.1 454.8,1019.8 454.0,1012.8 454.4,1012.8 454.7,1036.7 455.0,1018.3 455.4,1013.5 455.7,999.5 456.0,1038.2 456.4,1006.6 456.7,1013.1 457.0,1018.9 457.4,1038.2 457.7,1013.8 458.0,1035.9 458.4,994.8 458.7,1007.3 459.0,1024.1 459.4,1026.1 459.7,1001.8 460.0,1016.8 460.4,1025.4 460.7,1012.9 461.0,1023.6 461.4,1010.3 461.7,995.2 462.0,1006.2 462.4,1017.0 462.7,1027.8 463.0,1020.5 463.4,995.4 463.7,992.2 464.0,994.8 464.4,976.7 464.7,1006.5 465.0,998.3 465.4,1007.4 465.7,993.9 466.0,988.3 466.4,993.5 466.7,1003.3 467.0,1006.7 467.4,1011.7 467.7,1017.2 468.0,1026.3 468.4,973.6 468.7,1015.6 469.0,977.3 469.4,1005.4 469.7,984.2 470.0,996.7 470.4,1009.2 470.7,997.1 471.0,1003.6 471.4,955.0 471.7,993.6 472.0,1011.7 472.4,984.4 472.7,975.0 473.0,1008.2 473.4,1008.1 473.7,967.2 474.0,979.7 474.4,999.4 474.7,974.3 475.0,1007.9 475.4,990.4 475.7,981.3 476.0,973.1 476.4,954.9 476.7,993.6 477.0,993.8 477.4,976.8 477.7,984.2 478.0,991.9 478.4,990.7 478.7,952.8 479.0,969.9 479.4,962.3 479.7,1000.0 480.0,990.9 480.4,971.0 480.7,970.3 481.0,988.3 481.4,988.9 481.7,983.9 482.0,987.2 482.4,1007.4 482.7,991.5 483.0,999.4 483.4,972.4 483.7,970.1 484.0,986.0 484.4,986.3 484.7,995.4 485.0,988.9 485.4,990.0 485.7,984.7 486.0,993.9 486.4,981.5 486.7,971.2 487.0,986.5 487.4,991.5 487.7,985.0 488.0,985.1 488.4,963.8 488.7,963.9 489.0,978.4 489.4,982.4 489.7,984.5 490.0,1001.1 490.4,961.1 490.7,971.6 491.0,971.0 491.4,970.0 491.7,972.4 492.0,992.2 492.4,998.8 492.7,973.2 493.0,989.3 493.4,968.0 493.7,976.8 494.0,960.7 494.4,981.7 494.7,979.4 495.0,965.3 495.4,982.8 495.7,979.4 496.0,983.9 496.4,968.5 496.7,973.5 497.0,979.1 497.4,965.6 497.7,972.7 498.0,964.7 498.4,980.1 498.7,962.0 499.0,968.3 499.4,984.7 499.7,958.3 500.0,949.3 500.4,980.8 500.7,964.8 501.0,964.0 501.4,991.7 501.7,979.4 502.0,979.3 502.4,985.0 502.7,968.9 503.0,958.4 503.4,978.4 503.7,989.2 504.0,978.9 504.4,978.1 504.7,999.0 505.0,985.1 505.4,964.4 505.7,988.8 506.0,970.4 506.4,959.3 506.7,989.2 507.0,992.2 507.4,971.4 507.7,971.1 508.0,983.4 508.4,979.4 508.7,989.6 509.0,964.9 509.4,964.8 509.7,953.4 510.0,960.5 510.4,971.4 510.7,965.6 511.0,992.4 511.4,986.2 511.7,972.2 512.0,982.5 512.4,950.3 512.7,990.0 513.0,966.9 513.4,966.4 513.7,961.7 514.0,974.0 514.4,968.6 514.7,967.4 515.0,990.4 515.4,971.9 515.7,990.9 516.0,970.7 516.4,985.1 516.7,967.1 517.0,990.9 517.4,998.1 517.7,970.9 518.0,968.6 518.4,964.6 518.7,959.9 519.0,962.9 519.4,987.4 519.7,961.6 520.0,978.3 520.4,973.7 520.7,980.1 521.0,975.1 521.4,957.9 521.7,968.3 522.0,958.6 522.4,985.2 522.7,964.2 523.0,979.5 523.4,971.5 523.7,968.6 524.0,987.5 524.4,960.1 524.7,998.2 525.0,989.9 525.4,980.9 525.7,962.2 526.0,953.0 526.4,997.9 526.7,991.8 527.0,988.5 527.4,976.3 527.7,964.6 528.0,985.5 528.4,966.6 528.7,976.1 529.0,989.7 529.4,975.5 529.7,984.9 530.0,968.5 530.4,978.2 530.7,993.4 531.0,972.8 531.4,966.4 531.7,986.0 532.0,991.2 532.4,962.6 532.7,976.7 533.0,961.8 533.4,960.9 533.7,974.0 534.0,979.4 534.4,966.5 534.7,965.8 535.0,974.7 535.4,980.3 535.7,981.6 536.0,953.5 536.4,990.2 536.7,968.2 537.0,964.7 537.4,992.6 537.7,966.8 538.0,964.5 538.4,979.2 538.7,975.8 539.0,959.9 539.4,965.1 539.7,964.7 540.0,979.5 540.4,974.1 540.7,992.9 541.0,979.1 541.4,959.7 541.7,990.1 542.0,990.5 542.4,986.9 542.7,972.5 543.0,972.2 543.4,964.8 543.7,968.5 544.0,990.1 544.4,990.6 544.7,988.3 545.0,985.0 545.4,976.5 545.7,992.4 546.0,995.8 546.4,990.0 546.7,975.5 547.0,989.9 547.4,980.4 547.7,981.2 548.0,978.5 548.4,997.3 548.7,964.2 549.0,976.7 549.4,973.8 549.7,963.7 550.0,970.8 550.4,992.9 550.7,980.5 551.0,972.5 551.4,960.2 551.7,979.6 552.0,982.3 552.4,963.2 552.7,962.4 553.0,964.1 553.4,976.5 553.7,976.6 554.0,977.0 554.4,994.8 554.7,974.8 555.0,966.0 555.4,969.3 555.7,967.8 556.0,979.0 556.4,977.8 556.7,993.3 557.0,964.4 557.4,990.9 557.7,998.9 558.0,966.9 558.4,966.5 558.7,962.7 559.0,992.9 559.4,985.3 559.7,977.5 560.0,962.8 560.4,967.1 560.7,961.2 561.0,981.6 561.4,974.7 561.7,972.4 562.0,978.7 562.4,989.4 562.7,978.0 563.0,960.2 563.4,975.2 563.7,979.3 564.0,969.3 564.4,1004.2 564.7,993.3 565.0,964.9 565.4,970.1 565.7,965.4 566.0,989.9 566.4,984.5 566.7,969.1 567.0,1002.6 567.4,964.2 567.7,980.8 568.0,966.0 568.4,989.4 568.7,985.1 569.0,977.0 569.4,970.5 569.7,990.8 570.0,997.0 570.4,958.3 570.7,971.5 571.0,987.3 571.4,982.5 571.7,982.5 572.0,983.5 572.4,980.7 572.7,974.9 573.0,984.4 573.4,963.7 573.7,988.0 574.0,995.0 574.4,983.8 574.7,982.6 575.0,985.8 575.4,993.8 575.7,993.1 576.0,997.7 576.4,973.3 576.7,987.1 577.0,962.5 577.4,965.2 577.7,971.3 578.0,976.9 578.4,977.9 578.7,983.5 579.0,978.9 579.4,995.9 579.7,982.9 580.0,988.9 580.4,961.8 580.7,987.8 581.0,965.0 581.4,991.0 581.7,963.7 582.0,968.0 582.4,970.0 582.7,970.6 583.0,992.0 583.4,974.8 583.7,970.5 584.0,968.9 584.4,963.4 584.7,973.2 585.0,965.7 585.4,1005.2 585.7,992.6 586.0,994.5 586.4,964.1 586.7,990.9 587.0,995.2 587.4,985.8 587.7,980.9 588.0,971.6 588.4,964.5 588.7,986.8 589.0,980.6 589.4,962.4 589.7,967.7 590.0,999.6 590.4,972.5 590.7,975.9 591.0,964.7 591.4,986.6 591.7,966.7 592.0,989.6 592.4,994.1 592.7,976.5 593.0,979.4 593.4,976.6 593.7,976.4 594.0,973.8 594.4,998.9 594.7,973.9 595.0,986.8 595.4,964.4 595.7,990.3 596.0,968.6 596.4,982.3 596.7,986.5 597.0,985.3 597.4,1002.9 597.7,993.0 598.0,1002.9 598.4,996.8 598.7,986.1 599.0,968.4 599.4,980.5 599.7,993.6 600.0,997.2 600.4,1000.9 600.7,984.6 601.0,978.4 601.4,997.2 601.7,1002.9 602.0,978.1 602.4,981.6 602.7,989.9 603.0,997.8 603.4,985.2 603.7,1002.2 604.0,982.7 604.4,971.4 604.7,982.8 605.0,961.0 605.4,981.2 605.7,990.8 606.0,974.1 606.4,965.8 606.7,956.7 607.0,987.2 607.4,987.0 607.7,971.5 608.0,974.6 608.4,983.3 608.7,976.7 609.0,1007.6 609.4,1002.2 609.7,992.1 610.0,983.5 610.4,999.6 610.7,979.4 611.0,967.4 611.4,991.8 611.7,979.1 612.0,979.9 612.4,1008.4 612.7,999.2 613.0,966.5 613.4,1016.2 613.7,1008.6 614.0,1004.4 614.4,983.2 614.7,986.1 615.0,991.8 615.4,967.7 615.7,980.6 616.0,1009.1 616.4,966.4 616.7,1000.7 617.0,984.3 617.4,1010.9 617.7,1015.4 618.0,981.8 618.4,1008.5 618.7,976.0 619.0,998.5 619.4,1004.7 619.7,1007.0 620.0,962.0 620.4,985.0 620.7,991.9 621.0,1014.9 621.4,994.9 621.7,1012.7 622.0,978.4 622.4,1014.7 622.7,972.1 623.0,989.7 623.4,995.4 623.7,995.5 624.0,978.6 624.4,991.4 624.7,976.7 625.0,987.7 625.4,971.7 625.7,991.4 626.0,1004.1 626.4,984.3 626.7,1005.1 627.0,1031.8 627.4,1012.6 627.7,1003.5 628.0,988.5 628.4,1014.7 628.7,1005.2 629.0,1017.8 629.4,973.4 629.7,1010.6 630.0,986.8 630.4,998.4 630.7,1015.9 631.0,963.7 631.4,1000.8 631.7,984.8 632.0,985.6 632.4,1000.3 632.7,1013.8 633.0,1013.2 633.4,997.1 633.7,982.7 634.0,975.8 634.4,1006.7 634.7,1015.0 635.0,987.3 635.4,989.2 635.7,987.9 636.0,1004.7 636.4,986.4 636.7,983.7 637.0,996.2 637.4,1008.1 637.7,986.9 638.0,991.4 638.4,1006.2 638.7,978.1 639.0,1015.6 639.4,986.8 639.7,965.5 640.0,1003.7 640.4,1004.3 640.7,987.5 641.0,988.6 641.4,1012.4 641.7,984.9 642.0,987.7 642.4,999.1 642.7,991.3 643.0,1003.3 643.4,1012.0 643.7,1018.5 644.0,1002.1 644.4,1004.7 644.7,990.7 645.0,978.7 645.4,1019.5 645.7,1017.2 646.0,1028.0 646.4,982.0 646.7,982.6 647.0,995.3 647.4,1011.9 647.7,999.8 648.0,1002.7 648.4,993.4 648.7,996.5 649.0,995.6 649.4,1013.5 649.7,1030.4 650.0,983.3 650.4,983.6 650.7,1003.8 651.0,979.8 651.4,999.2 651.7,988.4 652.0,992.3 652.4,998.3 652.7,1019.1 653.0,986.9 653.4,979.5 653.7,1020.1 654.0,1014.2 654.4,990.2 654.7,1015.2 655.0,1008.6 655.4,987.6 655.7,997.2 656.0,1011.8 656.4,981.4 656.7,997.1 657.0,980.4 657.4,1002.8 657.7,1001.3 658.0,1004.1 658.4,1009.5 658.7,1002.4 659.0,988.2 659.4,1015.7 659.7,1013.8 660.0,990.7 660.4,991.9 660.7,1017.2 661.0,1015.5 661.4,1014.0 661.7,982.8 662.0,1012.1 662.4,984.6 662.7,1008.4 663.0,1010.2 663.4,997.4 663.7,1003.4 664.0,990.6 664.4,999.1 664.7,991.9 665.0,1014.2 665.4,1017.2 665.7,1004.9 666.0,988.0 666.4,1003.4 666.7,980.0 667.0,1003.3 667.4,987.8 667.7,1018.7 668.0,986.0 668.4,999.8 668.7,1017.7 669.0,984.5 669.4,1000.5 669.7,987.3 670.0,1023.5 670.4,990.9 670.7,1031.3 671.0,1017.5 671.4,989.4 671.7,1002.5 672.0,984.7 672.4,1006.0 672.7,999.3 673.0,1004.2 673.4,982.3 673.7,1013.7 674.0,995.3 674.4,1026.9 674.7,1008.8 675.0,1004.0 675.4,1010.6 675.7,1021.1 676.0,993.9 676.4,990.5 676.7,982.9 677.0,1020.4 677.4,980.0 677.7,1020.4 678.0,1012.1 678.4,1013.6 678.7,1017.0 679.0,995.7 679.4,1019.0 679.7,1028.0 680.0,1008.7 680.4,1011.9 680.7,995.8 681.0,982.8 681.4,1018.2 681.7,1004.4 682.0,973.6 682.4,1006.4 682.7,1025.7 683.0,1031.8 683.4,1037.2 683.7,999.4 684.0,1016.3 684.4,987.6 684.7,988.3 685.0,986.0 685.4,1007.6 685.7,992.5 686.0,1021.4 686.4,985.7 686.7,990.9 687.0,985.0 687.4,995.2 687.7,1019.0 688.0,1010.4 688.4,1021.7 688.7,994.9 689.0,1006.2 689.4,1010.2 689.7,999.6 690.0,991.4 690.4,1025.8 690.7,1021.7 691.0,1011.9 691.4,978.7 691.7,991.0 692.0,1006.0 692.4,989.8 692.7,994.7 693.0,987.0 693.4,1002.4 693.7,1008.5 694.0,1013.7 694.4,1014.9 694.7,975.4 695.0,991.9 695.4,994.3 695.7,1024.9 696.0,1004.5 696.4,1011.8 696.7,1017.6 697.0,998.3 697.4,1015.8 697.7,1016.0 698.0,1009.7 698.4,1027.7 698.7,1003.4 698.7,990.9 699.0,947.5 699.8,1001.8 699.0,1024.3 699.4,985.1 699.7,990.2 700.0,998.8 700.4,998.2 700.7,985.0 701.0,996.4 701.4,979.7 701.7,991.2 702.0,1001.7 702.4,1013.9 702.7,1007.1 703.0,1029.6 703.4,997.5 703.7,991.9 704.0,1024.0 704.4,1003.2 704.7,1012.2 705.0,986.7 705.4,1015.4 705.7,1000.4 706.0,1012.7 706.4,993.0 706.7,1016.8 707.0,989.1 707.4,994.3 707.7,1003.4 708.0,1017.9 708.4,1024.7 708.7,1030.2 709.0,1028.6 709.4,1032.3 709.7,1025.6 710.0,1026.0 710.4,1024.0 710.7,1039.7 711.0,1020.7 711.4,1032.3 711.7,1058.3 712.0,1062.0 712.4,1064.3 712.7,1073.5 713.0,1079.6 713.4,1108.0 713.7,1124.9 714.0,1151.4 714.4,1173.4 714.7,1189.3 715.0,1200.8 715.4,1214.8 715.7,1223.7 716.0,1237.1 716.4,1252.0 715.9,1255.9 716.5,1256.0 717.1,1255.5 716.7,1248.8 717.0,1240.8 717.4,1229.1 717.7,1217.4 718.0,1209.4 718.4,1200.4 718.7,1190.2 719.0,1177.1 719.4,1171.9 719.7,1158.7 720.0,1152.9 720.4,1144.1 720.7,1134.4 721.0,1122.5 721.4,1113.8 721.7,1105.2 722.0,1099.7 722.4,1095.4 722.7,1095.0 723.0,1082.7 723.4,1079.0 723.7,1073.0 724.0,1071.9 724.4,1068.5 724.7,1070.9 725.0,1056.7 725.4,1053.8 725.7,1046.2 726.0,1049.6 726.4,1050.0 726.7,1037.2 727.0,1052.1 727.4,1037.3 727.7,1042.6 728.0,1024.5 728.4,1018.7 728.7,1006.9 729.0,1027.0 729.4,1009.7 729.7,1019.9 730.0,1023.1 730.4,992.6 730.7,997.7 731.0,996.1 731.4,1012.7 731.7,1006.6 732.0,1006.6 732.4,1012.0 732.7,1015.2 733.0,979.2 733.4,980.6 733.7,985.2 734.0,993.0 734.4,991.5 734.7,978.0 735.0,991.7 735.4,985.3 735.7,1009.0 736.0,986.7 736.4,1004.6 736.7,991.3 737.0,988.3 737.4,973.6 737.7,975.5 738.0,998.5 738.4,962.4 738.7,965.3 739.0,960.8 739.4,987.0 739.7,959.7 740.0,970.1 740.4,963.9 740.7,958.8 741.0,964.1 741.4,976.5 741.7,959.0 742.0,961.1 742.4,970.2 742.7,954.5 743.0,986.8 743.4,979.1 743.7,977.5 744.0,978.1 744.4,983.7 744.7,966.5 745.0,960.6 745.4,953.2 745.7,965.6 746.0,964.6 746.4,970.2 746.7,958.4 747.0,960.6 747.4,970.1 747.7,972.2 748.0,945.9 748.4,986.3 748.7,968.4 749.0,957.9 749.4,947.1 749.7,964.1 750.0,937.9 750.4,971.6 750.7,951.4 751.0,964.7 751.4,960.4 751.7,929.0 752.0,943.9 752.4,969.2 752.7,953.8 753.0,946.0 753.4,951.6 753.7,940.8 754.0,937.5 754.4,932.3 754.7,955.8 755.0,956.1 755.4,946.5 755.7,934.5 756.0,941.4 756.4,927.8 756.7,937.5 757.0,948.3 757.4,958.8 757.7,945.3 758.0,931.1 758.4,955.2 758.7,927.9 759.0,940.2 759.4,927.1 759.7,915.0 760.0,948.9 760.4,943.1 760.7,949.4 761.0,940.0 761.4,932.9 761.7,950.1 762.0,937.4 762.4,931.2 762.7,944.8 763.0,975.0 763.4,964.9 763.7,949.2 764.0,932.4 764.4,962.0 764.7,923.5 765.0,932.8 765.4,950.3 765.7,956.7 766.0,964.6 766.4,949.3 766.7,949.4 767.0,932.2 767.4,936.8 767.7,954.6 768.0,939.7 768.4,942.9 768.7,932.9 769.0,931.1 769.4,929.5 769.7,922.1 770.0,951.9 770.4,956.6 770.7,956.0 771.0,923.3 771.4,942.4 771.7,930.2 772.0,934.2 772.4,915.0 772.7,947.8 773.0,933.0 773.4,924.5 773.7,932.0 774.0,923.6 774.4,948.3 774.7,926.6 775.0,931.8 775.4,936.2 775.7,953.4 776.0,940.7 776.4,945.5 776.7,931.7 777.0,927.9 777.4,950.5 777.7,957.0 778.0,931.2 778.4,934.1 778.7,946.6 779.0,919.5 779.4,924.1 779.7,928.8 780.0,926.0 780.4,924.0 780.7,948.6 781.0,951.3 781.4,952.9 781.7,933.7 782.0,930.8 782.4,931.0 782.7,922.9 783.0,940.7 783.4,934.1 783.7,924.1 784.0,940.6 784.4,928.1 784.7,917.9 785.0,952.9 785.4,937.9 785.7,917.8 786.0,951.5 786.4,965.2 786.7,937.3 787.0,943.4 787.4,919.5 787.7,957.5 788.0,950.9 788.4,926.0 788.7,940.4 789.0,947.2 789.4,915.6 789.7,908.0 790.0,911.4 790.4,948.6 790.7,918.2 791.0,927.1 791.4,951.5 791.7,943.9 792.0,935.7 792.4,925.2 792.7,945.1 793.0,925.7 793.4,940.3 793.7,932.4 794.0,928.0 794.4,955.1 794.7,932.0 795.0,942.5 795.4,964.5 795.7,952.5 796.0,946.5 796.4,923.9 796.7,932.6 797.0,927.0 797.4,940.5 797.7,920.9 798.0,951.2 798.4,945.0 798.7,951.7 799.0,926.7 799.4,919.2 799.7,943.9 800.0,932.3 800.4,952.8 800.7,934.4 801.0,920.6 801.4,940.6 801.7,943.8 802.0,938.6 802.4,949.4 802.7,918.5 803.0,928.4 803.4,937.7 803.7,930.7 804.0,936.0 804.4,938.4 804.7,918.3 805.0,926.1 805.4,915.1 805.7,928.0 806.0,942.4 806.4,924.5 806.7,935.2 807.0,941.6 807.4,919.0 807.7,926.8 808.0,927.4 808.4,918.2 808.7,925.2 809.0,921.6 809.4,943.7 809.7,919.4 810.0,944.1 810.4,947.6 810.7,945.5 811.0,953.8 811.4,945.4 811.7,950.3 812.0,948.7 812.4,926.3 812.7,952.3 813.0,957.8 813.4,951.9 813.7,934.8 814.0,927.5 814.4,952.2 814.7,925.5 815.0,918.8 815.4,936.3 815.7,933.0 816.0,936.4 816.4,928.7 816.7,943.6 817.0,942.8 817.4,948.5 817.7,950.9 818.0,923.7 818.4,924.5 818.7,929.4 819.0,921.5 819.4,963.4 819.7,921.3 820.0,947.3 820.4,953.0 820.7,945.4 821.0,933.4 821.4,928.7 821.7,922.0 822.0,936.2 822.4,940.7 822.7,940.2 823.0,917.7 823.4,933.9 823.7,924.4 824.0,946.9 824.4,917.0 824.7,918.2 825.0,942.8 825.4,935.3 825.7,916.1 826.0,937.1 826.4,939.1 826.7,939.0 827.0,929.4 827.4,941.2 827.7,946.3 828.0,935.3 828.4,920.4 828.7,933.1 829.0,916.7 829.4,940.9 829.7,948.3 830.0,937.9 830.4,929.3 830.7,958.8 831.0,936.0 831.4,902.3 831.7,924.3 832.0,920.1 832.4,912.5 832.7,947.2 833.0,931.1 833.4,927.0 833.7,932.9 834.0,945.5 834.4,935.7 834.7,919.8 835.0,909.3 835.4,915.4 835.7,909.9 836.0,942.8 836.4,929.6 836.7,920.8 837.0,921.9 837.4,913.3 837.7,910.1 838.0,931.6 838.4,915.1 838.7,910.0 839.0,912.8 839.4,907.1 839.7,900.6 840.0,941.8 840.4,899.7 840.7,902.6 841.0,921.1 841.4,918.9 841.7,916.7 842.0,936.3 842.4,937.6 842.7,918.8 843.0,935.3 843.4,930.9 843.7,914.2 844.0,934.2 844.4,913.8 844.7,911.6 845.0,914.7 845.4,906.3 845.2,909.5 845.5,860.5 846.3,917.8 845.7,912.8 846.0,897.6 846.4,905.7 846.7,926.8 847.0,922.0 847.4,926.3 847.7,903.0 848.0,915.3 848.4,907.6 848.7,928.9 849.0,915.2 849.4,903.3 849.7,942.5 850.0,929.9 850.4,907.5 850.7,933.2 851.0,909.2 851.4,894.8 851.7,929.2 852.0,917.5 852.4,896.7 852.7,914.0 853.0,926.2 853.4,902.2 853.7,931.0 854.0,931.3 854.4,884.3 854.7,928.9 855.0,906.1 855.4,911.3 855.7,943.3 856.0,898.0 856.4,905.8 856.7,922.6 857.0,933.7 857.4,934.8 857.7,909.7 858.0,922.8 858.4,924.9 858.7,939.0 859.0,918.5 859.4,900.2 859.7,901.7 860.0,924.2 860.4,912.1 860.7,924.8 861.0,922.8 861.4,918.8 861.7,893.2 862.0,916.2 862.4,903.9 862.7,893.9 863.0,901.4 863.4,900.5 863.7,906.6 864.0,907.9 864.4,917.2 864.7,914.6 865.0,891.3 865.4,924.9 865.7,900.2 866.0,921.8 866.4,905.0 866.7,890.4 867.0,897.5 867.4,886.7 867.7,918.2 868.0,917.3 868.4,911.0 868.7,893.9 869.0,887.1 869.4,934.6 869.7,914.4 870.0,920.1 870.4,904.9 870.7,892.6 871.0,896.0 871.4,916.4 871.7,896.8 872.0,896.7 872.4,871.8 872.7,878.3 873.0,916.2 873.4,889.8 873.7,918.2 874.0,919.1 874.4,884.5 874.7,891.1 875.0,882.0 875.4,898.8 875.7,906.2 876.0,905.7 876.4,911.3 876.7,916.4 877.0,901.3 877.4,892.8 877.7,869.7 878.0,879.1 878.4,882.5 878.7,895.7 879.0,895.0 879.4,885.4 879.7,900.2 880.0,878.5 880.4,897.7 880.7,901.4 881.0,912.7 881.4,912.9 881.7,889.4 882.0,913.3 882.4,909.5 882.7,918.0 883.0,906.1 883.4,888.2 883.7,884.6 884.0,909.8 884.4,900.0 884.7,899.2 885.0,926.5 885.4,893.3 885.7,869.4 886.0,885.3 886.4,903.3 886.7,899.0 887.0,895.9 887.4,901.3 887.7,900.6 888.0,884.5 888.4,902.0 888.7,911.0 889.0,913.9 889.4,875.4 889.7,887.7 890.0,898.4 890.4,890.8 890.7,894.5 891.0,894.1 891.4,872.4 891.7,908.5 892.0,897.9 892.4,870.5 892.7,909.8 893.0,926.3 893.4,897.3 893.7,891.6 894.0,909.7 894.4,907.0 894.7,905.0 895.0,869.6 895.4,906.3 895.7,899.2 896.0,911.2 896.4,878.5 896.7,894.5 897.0,893.3 897.4,890.0 897.7,919.2 898.0,888.2 898.4,912.3 898.7,891.3 899.0,868.5 899.4,901.4 899.7,903.1 900.0,867.0 900.4,882.3 900.7,890.6 901.0,868.6 901.4,875.2 901.7,897.8 902.0,884.1 902.4,877.0 902.7,898.3 903.0,900.7 903.4,872.8 903.7,862.8 904.0,901.7 904.4,906.8 904.7,882.9 905.0,866.6 905.4,866.9 905.7,899.3 906.0,872.8 906.4,897.9 906.7,864.6 907.0,892.8 907.4,904.8 907.7,886.8 908.0,870.3 908.4,860.6 908.7,857.9 909.0,865.0 909.4,901.4 909.7,884.2 910.0,910.8 910.4,885.7 910.7,878.0 911.0,859.7 911.4,906.0 911.7,875.9 912.0,905.0 912.4,881.3 912.7,881.8 913.0,858.6 913.4,852.8 913.7,892.5 914.0,860.6 914.4,858.9 914.7,876.1 915.0,882.5 915.4,881.3 915.7,883.3 916.0,903.2 916.4,869.3 916.7,866.5 917.0,887.9 917.4,858.8 917.7,891.7 918.0,881.7 918.4,861.4 918.7,882.2 919.0,867.8 919.4,878.5 919.7,861.7 920.0,898.8 920.4,890.2 920.7,858.7 921.0,874.0 921.4,895.5 921.7,895.4 922.0,881.6 922.4,874.6 922.7,836.5 923.0,850.4 923.4,883.4 923.7,909.6 924.0,887.3 924.4,874.9 924.7,858.6 925.0,882.9 925.4,885.7 925.7,848.5 926.0,865.1 926.4,891.5 926.7,872.8 927.0,851.4 927.4,863.4 927.7,902.8 928.0,893.0 928.4,890.3 928.7,863.2 929.0,897.2 929.4,890.4 929.7,865.5 930.0,870.7 930.4,886.4 930.7,872.5 931.0,868.2 931.4,891.4 931.7,888.0 932.0,857.5 932.4,874.5 932.7,850.8 933.0,858.8 933.4,872.0 933.7,887.9 934.0,883.9 934.4,857.0 934.7,865.2 935.0,886.6 935.4,905.7 935.7,860.8 936.0,866.5 936.4,851.0 936.7,869.5 937.0,860.0 937.4,864.7 937.7,859.4 938.0,870.7 938.4,867.7 938.7,856.9 939.0,861.5 939.4,848.1 939.7,843.0 940.0,901.3 940.4,862.5 940.7,869.6 941.0,875.9 941.4,855.0 941.7,888.4 942.0,879.5 942.4,862.9 942.7,867.1 943.0,846.5 943.4,882.1 943.7,843.7 944.0,880.3 944.4,877.0 944.7,843.7 945.0,888.3 945.4,887.5 945.7,881.5 946.0,855.2 946.4,857.9 946.7,875.7 947.0,852.2 947.4,868.3 947.7,850.6 948.0,865.3 948.4,863.1 948.7,873.9 949.0,883.2 949.4,863.2 949.7,848.3 950.0,843.0 950.4,871.4 950.7,851.2 951.0,852.1 951.4,854.2 951.7,846.3 952.0,895.3 952.4,881.0 952.7,847.8 953.0,882.6 953.4,861.5 953.7,869.3 954.0,859.6 954.4,872.0 954.7,866.5 955.0,855.0 955.4,868.1 955.7,878.9 956.0,854.2 956.4,881.5 956.7,891.3 957.0,851.1 957.4,844.5 957.7,877.3 958.0,882.5 958.4,860.3 958.7,846.9 959.0,870.8 959.4,860.3 959.7,871.8 960.0,862.8 960.4,875.8 960.7,866.0 961.0,853.6 961.4,834.6 961.7,848.9 962.0,841.4 962.4,841.2 962.7,874.0 963.0,876.2 963.4,840.1 963.7,877.6 964.0,844.1 964.4,850.5 964.7,874.9 965.0,849.0 965.4,839.5 965.7,850.7 966.0,837.9 966.4,835.8 966.7,856.6 967.0,848.6 967.4,840.6 967.7,864.7 968.0,843.8 968.4,875.4 968.7,843.6 969.0,871.4 969.4,829.1 969.7,872.6 970.0,872.0 970.4,848.1 970.7,874.8 971.0,847.7 971.4,841.9 971.7,873.0 972.0,867.3 972.4,864.0 972.7,862.1 973.0,844.6 973.4,836.1 973.7,858.1 974.0,851.4 974.4,871.3 974.7,845.7 975.0,850.4 975.4,841.6 975.7,865.1 976.0,844.2 976.4,858.6 976.7,848.9 977.0,834.1 977.4,832.8 977.7,847.9 978.0,840.3 978.4,856.2 978.7,874.5 979.0,834.8 979.4,843.7 979.7,844.5 980.0,869.9 980.4,869.2 980.7,863.7 981.0,856.3 981.4,853.6 981.7,843.7 982.0,873.3 982.4,838.5 982.7,871.5 983.0,853.1 983.4,853.8 983.7,869.4 984.0,866.5 984.4,834.6 984.7,836.9 985.0,850.6 985.4,822.9 985.7,865.4 986.0,884.1 986.4,865.4 986.7,849.6 987.0,842.9 987.4,870.5 987.7,862.8 988.0,850.8 988.4,861.2 988.4,869.0 988.7,894.5 989.5,860.0 988.7,839.5 989.0,878.3 989.4,871.4 989.7,830.2 990.0,860.8 990.4,875.4 990.7,857.2 991.0,893.1 991.4,864.5 991.7,837.9 992.0,840.6 992.4,857.1 992.7,872.7 993.0,860.7 993.4,869.9 993.7,856.7 994.0,862.9 994.4,850.3 994.7,866.9 995.0,845.2 995.4,882.1 995.7,875.7 996.0,850.0 996.4,874.5 996.7,861.0 997.0,877.8 997.4,860.1 997.7,834.3 998.0,845.5 998.4,879.0 998.7,838.6 999.0,862.8 999.4,874.3 999.7,824.9 1000.0,843.6 1000.4,835.1 1000.7,841.7" fill="none" stroke="#ff0000" stroke-width="5.00" stroke-linejoin="miter" stroke-miterlimit="2"/>
<path d="M57.8,807.2L57.7,806.8 58.0,786.5 58.8,816.0 58.1,830.2 58.5,839.5 58.8,776.9 59.1,821.0 59.5,835.6 59.8,810.5 60.1,834.1 60.5,804.8 60.8,800.4 61.1,812.2 61.5,824.1 61.8,791.0 62.1,834.9 62.5,830.4 62.8,834.6 63.1,811.7 63.5,831.3 63.8,803.4 64.1,816.8 64.5,802.9 64.8,795.9 65.1,796.7 65.5,838.7 65.8,795.7 66.1,809.6 66.5,830.0 66.8,810.9 67.1,836.5 67.5,819.2 67.8,826.9 68.1,826.7 68.5,812.5 68.8,840.4 69.1,844.2 69.5,840.8 69.8,811.1 70.1,801.0 70.5,821.7 70.8,841.4 71.1,781.2 71.5,822.5 71.8,819.6 72.1,811.9 72.5,837.1 72.8,797.7 73.1,780.2 73.5,825.4 73.8,842.8 74.1,824.8 74.5,815.6 74.8,813.4 75.1,822.5 75.5,837.8 75.8,819.6 76.1,820.2 76.5,804.8 76.8,808.0 77.1,832.8 77.5,799.4 77.8,827.6 78.1,794.2 78.5,834.5 78.8,796.5 79.1,804.8 79.5,815.6 79.8,811.2 80.1,805.2 80.5,821.0 80.8,803.7 81.1,840.6 81.5,826.8 81.8,810.7 82.1,809.9 82.5,838.3 82.8,824.9 83.1,819.2 83.5,840.6 83.8,811.7 83.7,830.8 84.0,876.5 84.8,821.6 84.1,797.7 84.5,858.3 84.8,832.5 85.1,835.4 85.5,837.0 85.8,839.0 86.1,803.4 86.5,810.6 86.8,822.0 87.1,820.7 87.5,800.4 87.8,786.3 88.1,812.9 88.5,812.0 88.8,826.3 89.1,813.3 89.5,797.8 89.8,819.6 89.7,813.7 90.0,786.5 90.8,822.9 90.1,816.7 90.5,822.7 90.8,811.8 91.1,809.6 91.5,832.4 91.8,843.4 92.1,812.2 92.5,795.2 92.8,817.8 93.1,802.3 93.5,817.3 93.8,803.9 94.1,816.1 94.5,829.9 94.8,838.2 95.1,837.0 95.5,806.7 95.8,812.3 96.1,825.4 96.5,838.4 96.8,830.7 97.1,803.5 97.5,807.1 97.8,804.5 98.1,813.3 98.5,843.8 98.8,788.2 99.1,801.3 99.5,802.5 99.8,809.6 100.1,857.1 100.5,800.8 100.8,810.4 101.1,801.1 101.5,812.1 101.8,842.4 102.1,809.1 102.5,838.9 102.8,842.9 103.1,785.5 103.5,838.5 103.8,818.9 104.1,820.2 104.5,813.1 104.8,806.9 105.1,814.3 105.5,812.2 105.8,790.3 106.1,830.7 106.5,820.1 106.8,836.8 107.1,818.4 107.5,837.8 107.8,831.4 108.1,838.1 108.5,834.9 108.8,810.4 109.1,846.6 109.5,801.9 109.8,818.0 110.1,807.0 110.5,817.3 110.8,814.1 111.1,808.4 111.5,830.4 111.8,793.7 112.1,814.0 112.5,847.1 112.8,808.6 113.1,851.8 113.5,804.0 113.8,808.3 114.1,804.5 114.5,805.6 114.8,835.2 115.1,839.6 115.5,811.2 115.8,840.6 116.1,837.7 116.5,836.8 116.8,832.3 117.1,853.3 117.5,787.8 117.8,821.5 118.1,838.1 118.5,830.5 118.8,845.4 119.1,820.7 119.5,841.4 119.8,848.0 119.7,815.4 120.0,792.5 120.8,824.6 120.1,856.9 120.5,826.0 120.8,822.9 121.1,814.3 121.5,836.3 121.8,810.5 122.1,825.7 122.5,802.4 122.8,797.2 123.1,837.4 123.5,847.4 123.8,831.2 124.1,844.5 124.5,841.1 124.8,837.0 125.1,843.9 125.5,805.8 125.8,841.6 126.1,840.8 126.5,850.3 126.8,823.8 127.1,839.7 127.5,848.2 127.8,818.8 128.1,818.6 128.5,814.7 128.8,806.1 129.1,819.2 129.5,838.8 129.8,820.5 130.1,845.8 130.5,808.1 130.8,809.6 131.1,815.2 131.5,785.3 131.8,802.9 132.1,835.0 132.5,823.8 132.8,840.6 133.1,828.4 133.5,838.4 133.8,816.0 134.1,807.9 134.5,803.6 134.8,819.7 135.1,825.6 135.5,835.2 135.8,810.5 136.1,824.7 136.5,802.9 136.8,809.0 137.1,813.5 137.5,826.5 137.8,816.8 138.1,835.7 138.5,803.0 138.8,808.4 139.1,827.3 139.5,830.7 139.8,841.1 139.7,833.4 140.0,859.5 140.8,824.2 140.1,812.5 140.5,817.0 140.8,815.6 141.1,826.7 141.5,841.7 141.8,847.3 142.1,826.7 142.5,847.6 142.8,824.2 143.1,818.6 143.5,821.1 143.8,805.2 144.1,814.8 144.5,823.8 144.8,819.4 145.1,806.2 145.5,823.4 145.8,819.2 146.1,827.9 146.5,832.3 146.8,836.6 147.1,835.7 147.5,822.5 147.8,835.1 148.1,788.3 148.5,846.6 148.8,832.4 149.1,827.1 149.5,857.7 149.8,803.2 150.1,839.6 150.5,829.1 150.8,795.7 151.1,801.1 151.5,799.5 151.8,830.4 152.1,862.2 152.5,833.6 152.8,825.0 153.1,826.8 153.5,815.6 153.8,856.8 154.1,841.7 154.5,801.6 154.8,815.5 155.1,835.4 155.5,836.6 155.8,855.7 156.1,845.6 156.5,833.2 156.8,813.6 157.1,842.3 157.5,820.7 157.8,790.9 158.1,844.5 158.5,823.6 158.8,833.7 159.1,860.5 159.5,810.4 159.8,857.6 160.1,826.7 160.5,837.2 160.8,834.1 161.1,808.1 161.5,836.6 161.8,842.5 162.1,834.0 162.5,842.2 162.8,791.6 163.1,811.0 163.5,830.9 163.8,804.7 164.1,847.2 164.5,858.5 164.8,830.5 165.1,845.9 165.5,833.2 165.8,829.1 166.1,831.0 166.5,805.3 166.8,824.6 166.7,833.9 167.0,899.5 167.8,824.7 167.1,847.2 167.5,822.6 167.8,807.9 168.1,830.0 168.5,843.5 168.8,842.0 169.1,843.2 169.5,824.4 169.8,858.9 170.1,814.5 170.5,835.0 170.8,813.6 171.1,815.4 171.5,831.5 171.8,818.3 172.1,858.3 172.5,797.4 172.8,831.0 173.1,805.2 173.5,840.1 173.8,811.0 174.1,836.0 174.5,800.3 174.8,789.3 175.1,809.0 175.5,811.1 175.8,805.9 176.1,810.0 176.5,813.6 176.8,789.3 177.1,803.8 177.5,800.9 177.8,822.9 178.1,801.1 178.5,805.6 178.8,842.0 179.1,841.5 179.5,794.7 179.8,815.2 180.1,801.9 180.5,800.1 180.8,825.2 181.1,833.0 181.5,828.6 181.8,818.9 181.7,816.1 182.0,781.5 182.8,825.3 182.1,838.5 182.5,810.1 182.8,834.7 183.1,820.6 183.5,845.1 183.8,801.4 184.1,809.5 184.5,830.2 184.8,836.7 185.1,840.9 185.5,861.3 185.8,803.7 186.1,844.9 186.5,805.1 186.8,822.3 187.1,839.8 187.5,836.5 187.8,842.9 188.1,846.5 188.5,792.6 188.8,810.2 189.1,829.7 189.5,831.2 189.8,839.6 190.1,833.5 190.5,848.7 190.8,833.2 191.1,794.3 191.5,797.2 191.8,820.6 192.1,821.3 192.5,823.4 192.8,841.8 193.1,813.1 193.5,821.8 193.8,818.4 194.1,858.4 194.5,835.8 194.8,803.0 195.1,826.0 195.5,845.8 195.8,788.3 196.1,842.9 196.5,815.8 196.8,814.3 197.1,820.8 197.5,813.0 197.8,828.5 198.1,824.7 198.5,823.2 198.8,812.4 199.1,820.0 199.5,804.0 199.8,846.4 200.1,822.8 200.5,823.7 200.8,833.0 201.1,818.4 201.5,839.3 201.8,834.5 202.1,812.4 202.5,818.8 202.8,843.9 203.1,827.8 203.5,817.9 203.8,818.2 204.1,840.3 204.5,834.0 204.8,863.0 205.1,848.5 205.5,844.0 205.8,823.6 206.1,841.3 206.5,819.2 206.8,858.0 207.1,817.1 207.5,838.4 207.8,853.3 208.1,829.2 208.5,830.3 208.8,825.4 209.1,794.3 209.5,809.4 209.8,833.9 210.1,823.9 210.5,818.6 210.8,834.8 211.1,813.4 211.5,843.8 211.8,827.0 212.1,829.0 212.5,853.5 212.8,809.9 213.1,817.6 213.5,819.4 213.8,809.7 214.1,811.3 214.5,814.8 214.8,847.2 215.1,837.1 215.5,826.8 215.8,816.0 216.1,838.9 216.5,796.8 216.8,843.5 217.1,815.3 217.5,839.7 217.8,827.3 218.1,797.6 218.5,836.6 218.8,824.1 219.1,806.5 219.5,848.9 219.8,805.1 220.1,805.7 220.5,807.0 220.8,821.6 221.1,842.5 221.5,844.4 221.8,856.5 222.1,834.5 222.5,820.8 222.8,830.8 223.1,816.6 223.5,826.9 223.8,836.3 224.1,837.4 224.5,821.8 224.8,848.9 225.1,811.1 225.5,820.8 225.8,814.0 226.1,843.9 226.5,833.1 226.8,808.9 227.1,817.0 227.5,807.7 227.8,808.1 228.1,837.1 228.5,839.2 228.8,828.5 229.1,838.4 229.5,850.6 229.8,807.7 230.1,850.7 230.5,828.9 230.8,836.8 231.1,831.8 231.5,828.7 231.8,799.1 232.1,827.7 232.5,843.5 232.8,799.9 233.1,817.1 233.5,845.4 233.8,840.4 234.1,832.9 234.5,803.1 234.8,823.7 235.1,809.9 235.5,808.1 235.8,829.7 236.1,847.8 236.5,791.1 236.8,827.5 237.1,842.5 237.5,835.1 237.8,842.1 238.1,813.1 238.5,805.6 238.8,825.6 239.1,842.8 239.5,824.7 239.8,804.3 239.7,818.4 240.0,792.5 240.8,827.6 240.1,846.6 240.5,839.9 240.8,809.4 241.1,803.4 241.5,839.6 241.8,832.4 242.1,822.3 242.5,807.0 242.8,823.5 243.1,854.4 243.5,824.7 243.8,819.8 244.1,821.7 244.5,858.5 244.8,805.5 245.1,811.9 245.5,840.6 245.8,845.2 246.1,813.3 246.5,823.2 246.8,790.1 247.1,837.2 247.5,839.2 247.8,848.1 248.1,829.0 248.5,808.3 248.8,841.8 249.1,826.0 249.5,796.8 249.8,854.8 249.7,837.2 250.0,857.5 250.8,828.0 250.1,837.4 250.5,842.0 250.8,805.8 251.1,811.8 251.5,808.5 251.8,835.7 252.1,822.0 252.5,808.7 252.8,834.4 253.1,834.5 253.5,811.9 253.8,813.9 254.1,842.3 254.5,811.3 254.8,823.2 255.1,845.6 255.5,809.8 255.8,844.2 256.1,811.4 256.5,833.6 256.8,806.3 257.1,810.7 257.5,813.8 257.8,825.8 258.1,798.0 258.5,796.9 258.8,809.3 259.1,841.4 259.5,831.4 259.8,849.5 260.1,828.7 260.5,818.5 260.8,816.7 261.1,832.0 261.5,810.6 261.8,831.9 262.1,813.4 262.5,824.3 262.8,841.7 263.1,831.9 263.5,809.3 263.8,829.9 264.1,846.3 264.5,838.3 264.8,815.9 265.1,831.3 265.5,850.9 265.8,792.2 266.1,827.3 266.5,835.7 266.8,848.2 267.1,851.1 267.5,813.4 267.8,803.5 267.7,837.2 268.0,866.5 268.8,828.0 268.1,825.2 268.5,827.8 268.8,826.2 269.1,794.6 269.5,817.2 269.8,827.9 270.1,815.2 270.5,792.3 270.8,820.0 271.1,843.1 271.5,843.9 271.8,841.9 272.1,814.0 272.5,849.9 272.8,836.6 273.1,818.7 273.5,808.5 273.8,831.2 274.1,845.0 274.5,834.6 274.8,832.5 275.1,804.2 275.5,841.5 275.8,817.3 276.1,814.0 276.5,812.1 276.8,834.5 277.1,834.4 277.5,819.3 277.8,830.2 278.1,815.6 278.5,811.1 278.8,820.1 279.1,827.5 279.5,813.0 279.8,811.3 280.1,828.6 280.5,822.1 280.8,822.6 281.1,815.8 281.5,804.9 281.8,826.1 282.1,846.3 282.5,834.9 282.8,810.3 283.1,825.5 283.5,826.0 283.8,836.2 284.1,830.6 284.5,824.5 284.8,833.4 285.1,834.4 285.5,836.1 285.8,809.5 286.1,850.6 286.5,813.8 286.8,820.3 287.1,847.4 287.5,839.3 287.8,809.9 288.1,834.9 288.5,833.2 288.8,809.6 289.1,834.0 289.5,833.4 289.8,819.7 290.1,831.2 290.5,807.7 290.8,864.3 291.1,817.9 291.5,809.2 291.8,807.6 292.1,821.0 292.5,831.0 292.8,869.4 293.1,806.4 293.5,822.7 293.8,843.4 294.1,836.3 294.5,814.5 294.8,831.1 295.1,812.2 295.5,849.4 295.8,812.8 296.1,825.4 296.5,807.7 296.8,813.0 297.1,868.1 297.5,808.7 297.8,846.9 298.1,848.5 298.5,803.8 298.8,850.5 299.1,847.8 299.5,824.3 299.8,806.6 299.7,818.8 300.0,790.5 300.8,828.0 300.1,810.3 300.5,855.6 300.8,830.1 301.1,840.9 301.5,846.6 301.8,820.2 302.1,807.2 302.5,827.3 302.8,818.2 303.1,813.7 303.5,817.2 303.8,842.6 304.1,826.0 304.5,795.9 304.8,844.5 305.1,810.5 305.5,846.2 305.8,811.1 306.1,800.2 306.5,843.2 306.8,843.3 307.1,832.2 307.5,808.9 307.8,825.7 308.1,825.6 308.5,824.8 308.8,835.5 309.1,825.9 309.5,851.5 309.8,835.4 310.1,831.5 310.5,839.3 310.8,819.4 311.1,822.6 311.5,843.8 311.8,816.5 312.1,835.6 312.5,822.4 312.8,822.7 313.1,810.4 313.5,826.3 313.8,848.7 314.1,846.5 314.5,850.8 314.8,813.8 315.1,849.8 315.5,822.7 315.8,839.0 316.1,809.4 316.5,821.4 316.8,817.7 317.1,823.7 317.5,863.5 317.8,814.7 318.1,849.7 318.5,844.8 318.8,815.9 319.1,808.6 319.5,848.4 319.8,831.5 320.1,819.0 320.5,816.6 320.8,816.6 321.1,837.3 321.5,832.3 321.8,828.9 322.1,812.9 322.5,839.2 322.8,834.8 323.1,823.6 323.5,809.9 323.8,831.6 324.1,841.3 324.5,842.1 324.8,841.6 325.1,812.4 325.5,844.4 325.8,834.1 326.1,823.6 326.5,836.8 326.8,811.3 327.1,864.3 327.5,844.9 327.8,842.4 328.1,847.2 328.5,836.0 328.8,823.6 329.1,815.5 329.5,837.8 329.8,812.1 330.1,821.3 330.5,840.7 330.8,831.2 331.1,804.5 331.5,813.1 331.8,834.9 332.1,843.8 332.5,849.4 332.8,850.0 333.1,838.1 333.5,829.9 333.8,849.5 334.1,843.6 334.5,814.4 334.8,806.9 335.1,829.1 335.5,824.6 335.8,796.5 336.1,808.2 336.5,834.7 336.8,834.2 337.1,817.3 337.5,818.1 337.8,818.4 338.1,807.8 338.5,809.2 338.8,824.9 339.1,802.2 339.5,812.7 339.8,868.5 340.1,806.8 340.5,813.7 340.8,831.3 341.1,814.7 341.5,831.6 341.8,798.7 342.1,808.6 342.5,839.4 342.8,824.6 343.1,823.4 343.5,827.0 343.8,818.0 344.1,807.7 344.5,824.7 344.8,825.4 345.1,831.7 345.5,832.5 345.8,808.2 346.1,820.9 346.5,845.2 346.8,840.4 347.1,845.7 347.5,846.1 347.8,853.3 348.1,851.7 348.5,817.9 348.8,848.3 349.1,814.9 349.5,841.6 349.8,849.8 349.7,838.2 350.0,867.5 350.8,829.0 350.1,841.6 350.5,838.5 350.8,825.6 351.1,803.5 351.5,814.6 351.8,824.9 352.1,832.3 352.5,820.3 352.8,843.9 353.1,808.6 353.5,827.5 353.8,839.1 354.1,824.4 354.5,862.2 354.8,829.6 355.1,828.0 355.5,816.8 355.8,839.2 356.1,820.0 356.5,852.8 356.8,843.5 357.1,838.1 357.5,819.6 357.8,812.9 358.1,826.2 358.5,839.8 358.8,850.8 359.1,835.1 359.5,810.4 359.8,799.0 360.1,811.6 360.5,841.9 360.8,838.0 361.1,801.8 361.5,817.6 361.8,814.1 362.1,870.5 362.5,800.8 362.8,841.1 363.1,843.9 363.5,826.3 363.8,811.1 364.1,826.3 364.5,814.8 364.8,814.0 365.1,820.0 365.5,817.9 365.8,844.9 366.1,800.4 366.5,810.3 366.8,865.6 367.1,850.1 367.5,860.8 367.8,845.8 368.1,820.9 368.5,845.6 368.8,820.8 369.1,815.4 369.5,840.4 369.8,854.1 367.0,839.0 370.0,899.5 373.0,829.8 370.1,822.0 370.5,817.9 370.8,851.8 371.1,843.6 371.5,839.0 371.8,850.5 372.1,826.4 372.5,836.6 372.8,821.1 373.1,826.7 373.5,841.2 373.8,839.4 374.1,793.4 374.5,830.6 374.8,840.0 375.1,834.7 375.5,840.6 375.8,815.5 376.1,848.9 376.5,840.9 376.8,808.6 377.1,804.2 377.5,814.9 377.8,833.0 378.1,819.4 378.5,833.8 378.8,817.0 379.1,828.7 379.5,831.3 379.8,844.9 379.7,821.0 380.0,781.5 380.8,830.2 380.1,822.5 380.5,815.8 380.8,849.7 381.1,820.1 381.5,829.7 381.8,837.3 382.1,840.9 382.5,845.3 382.8,836.5 383.1,822.0 383.5,848.0 383.8,847.9 384.1,839.6 384.5,809.1 384.8,804.5 385.1,826.2 385.5,832.5 385.8,848.3 386.1,823.6 386.5,808.3 386.8,836.7 387.1,833.9 387.5,837.3 387.8,810.9 388.1,840.6 388.5,818.4 388.8,848.4 389.1,806.9 389.5,812.9 389.8,850.3 390.1,850.6 390.5,806.7 390.8,829.6 391.1,845.6 391.5,810.6 391.8,844.4 392.1,822.4 392.5,839.4 392.8,835.5 393.1,844.1 393.5,828.9 393.8,815.2 393.7,821.6 394.0,781.5 394.8,830.8 394.1,831.5 394.5,839.1 394.8,833.5 395.1,823.1 395.5,810.2 395.8,831.2 396.1,825.0 396.5,822.5 396.8,827.5 397.1,848.9 397.5,852.7 397.8,811.0 398.1,803.0 398.5,835.3 398.8,824.7 399.1,835.2 399.5,822.9 399.8,834.1 400.1,820.6 400.5,813.2 400.8,812.9 401.1,860.1 401.5,848.3 401.8,817.7 402.1,812.1 402.5,823.2 402.8,834.8 403.1,831.3 403.5,809.4 403.8,849.3 404.1,831.0 404.5,853.6 404.8,816.7 405.1,815.0 405.5,834.2 405.8,800.1 406.1,829.9 406.5,819.7 406.8,811.7 407.1,837.6 407.5,825.9 407.8,854.4 408.1,821.6 408.5,812.6 408.8,813.0 409.1,842.8 409.5,848.3 409.8,837.0 410.1,840.4 410.5,846.5 410.8,814.8 411.1,810.2 411.5,839.4 411.8,815.0 412.1,849.0 412.5,842.1 412.8,813.8 413.1,834.9 413.5,828.0 413.8,824.5 412.0,841.2 414.0,899.5 417.0,832.0 414.1,824.9 414.5,851.2 414.8,799.4 415.1,825.6 415.5,845.3 415.8,850.8 416.1,813.6 416.5,853.3 416.8,825.4 417.1,844.2 417.5,832.4 417.8,851.3 418.1,823.9 418.5,836.4 418.8,812.1 419.1,808.3 419.5,843.2 419.8,825.7 420.1,818.6 420.5,857.7 420.8,819.7 421.1,834.1 421.5,836.3 421.8,841.8 422.1,853.9 422.5,829.3 422.8,829.2 423.1,793.9 423.5,818.3 423.8,815.3 424.1,826.6 424.5,836.7 424.8,817.5 425.1,825.5 425.5,829.5 425.8,849.4 426.1,839.1 426.5,835.1 426.8,832.0 427.1,812.6 427.5,824.6 427.8,834.0 428.1,841.4 428.5,844.4 428.8,818.8 429.1,854.3 429.5,842.2 429.8,818.1 429.7,842.5 430.0,867.5 430.8,833.2 430.1,817.4 430.5,812.4 430.8,799.0 431.1,849.4 431.5,819.5 431.8,808.9 432.1,852.5 432.5,795.7 432.8,846.0 433.1,795.6 433.5,840.1 433.8,853.0 434.1,826.4 434.5,811.7 434.8,814.1 435.1,826.6 435.5,828.9 435.8,845.3 436.1,854.3 436.5,853.1 436.8,842.2 437.1,821.8 437.5,835.2 437.8,821.4 438.1,837.9 438.5,833.3 438.8,837.0 439.1,836.9 439.5,840.2 439.8,849.4 440.1,807.9 440.5,855.1 440.8,844.5 441.1,828.1 441.5,814.7 441.8,811.7 442.1,860.4 442.5,839.2 442.8,814.6 443.1,812.3 443.5,817.7 443.8,834.8 444.1,794.0 444.5,812.6 444.8,854.9 445.1,816.4 445.5,820.4 445.8,795.2 446.1,833.0 446.5,821.5 446.8,812.3 447.1,815.2 447.5,840.3 447.8,828.6 448.1,834.2 448.5,803.6 448.8,853.1 449.1,815.8 449.5,840.1 449.8,847.2 450.1,836.4 450.5,850.6 450.8,833.7 451.1,837.6 451.5,830.7 451.8,827.1 452.1,831.2 452.5,850.6 452.8,818.2 453.1,842.0 453.5,845.2 453.8,819.9 454.1,834.6 454.5,842.3 454.8,839.1 455.1,811.2 455.5,844.1 455.8,812.9 456.1,832.7 456.5,815.7 456.8,830.3 457.1,829.2 457.5,814.7 457.8,825.8 458.1,834.2 458.5,847.1 458.8,828.3 459.1,851.3 459.5,807.2 459.8,791.9 459.7,840.2 460.0,863.5 460.8,831.0 460.1,835.5 460.5,814.0 460.8,808.9 461.1,851.0 461.5,833.2 461.8,851.4 462.1,835.5 462.5,823.9 462.8,814.7 463.1,789.3 463.5,842.6 463.8,851.1 464.1,834.6 464.5,811.4 464.8,846.7 465.1,828.4 465.5,811.0 465.8,810.6 466.1,856.8 466.5,819.6 466.8,841.6 467.1,847.2 467.5,816.4 467.8,837.1 468.1,802.9 468.5,815.0 468.8,810.7 469.1,791.7 469.5,804.7 469.8,817.1 470.1,821.5 470.5,815.6 470.8,814.9 471.1,793.0 471.5,808.5 471.8,853.2 472.1,820.6 472.5,858.6 472.8,838.7 473.1,804.8 473.5,845.4 473.8,837.3 474.1,846.5 474.5,846.0 474.8,820.9 475.1,807.1 475.5,841.2 475.8,810.6 476.1,855.5 476.5,840.2 476.8,865.7 477.1,835.8 477.5,811.9 477.8,817.0 478.1,823.9 478.5,842.7 478.8,806.6 479.1,814.7 479.5,825.0 479.8,847.7 480.1,807.2 480.5,791.9 480.8,832.5 481.1,808.0 481.5,819.8 481.8,821.2 482.1,802.9 482.5,817.0 482.8,808.3 483.1,835.4 483.5,821.8 483.8,828.1 484.1,814.3 484.5,819.4 484.8,843.6 485.1,819.3 485.5,843.0 485.8,820.3 486.1,795.0 486.5,830.8 486.8,818.4 487.1,834.1 487.5,802.6 487.8,823.2 488.1,832.6 488.5,829.4 488.8,820.3 489.1,815.6 489.5,827.2 489.8,802.9 490.1,821.0 490.5,794.0 490.8,846.0 491.1,807.0 491.5,827.1 491.8,847.2 492.1,806.1 492.5,816.3 492.8,806.6 493.1,807.1 493.5,829.5 493.8,828.0 494.1,840.5 494.5,835.8 494.8,861.7 495.1,837.5 495.5,849.1 495.8,846.4 496.1,835.9 496.5,840.5 496.8,868.2 497.1,806.4 497.5,826.1 497.8,830.8 498.1,828.4 498.5,848.5 498.8,844.5 499.1,838.8 499.5,848.5 499.8,867.3 499.7,818.0 500.0,787.5 500.8,827.2 500.1,807.7 500.5,829.7 500.8,859.2 501.1,829.9 501.5,829.1 501.8,849.4 502.1,797.4 502.5,849.6 502.8,818.6 503.1,824.6 503.5,813.2 503.8,810.4 504.1,808.4 504.5,847.6 504.8,827.1 505.1,829.8 505.5,848.8 505.8,848.9 506.1,811.5 506.5,850.4 506.8,809.7 507.1,829.1 507.5,843.4 507.8,820.1 508.1,847.1 508.5,817.8 508.8,796.6 509.1,807.6 509.5,817.4 509.8,809.4 510.1,831.6 510.5,814.3 510.8,838.4 511.1,815.9 511.5,839.7 511.8,817.9 512.1,820.3 512.5,840.2 512.8,825.5 513.1,815.3 513.5,865.8 513.8,845.2 514.1,817.7 514.5,830.5 514.8,813.0 515.1,843.6 515.5,809.0 515.8,795.9 516.1,808.4 516.5,831.7 516.8,822.3 517.1,829.0 517.5,854.1 517.8,808.7 518.1,847.4 518.5,817.7 518.8,846.9 519.1,866.2 519.5,805.5 519.8,816.0 519.7,836.7 520.0,862.5 520.8,827.5 520.1,830.3 520.5,821.0 520.8,862.6 521.1,831.5 521.5,862.6 521.8,818.8 522.1,824.6 522.5,792.4 522.8,839.1 523.1,813.2 523.5,811.3 523.8,835.5 524.1,822.5 524.5,834.8 524.8,829.0 525.1,827.1 525.5,814.0 525.8,809.4 526.1,815.8 526.5,805.5 526.8,811.6 527.1,839.8 527.5,809.7 527.8,844.1 528.1,856.6 528.5,835.2 528.8,848.4 529.1,839.2 529.5,819.5 529.8,838.4 530.1,847.7 530.5,819.8 530.8,799.5 531.1,822.4 531.5,807.7 531.8,826.6 532.1,848.8 532.5,809.9 532.8,809.2 533.1,813.2 533.5,822.7 533.8,803.6 534.1,825.3 534.5,813.8 534.8,812.2 535.1,821.3 535.5,801.8 535.8,835.1 536.1,824.0 536.5,804.3 536.8,809.7 537.1,851.9 537.5,808.5 537.8,827.7 538.1,838.6 538.5,837.3 538.8,843.5 539.1,812.1 539.5,825.1 539.8,814.1 540.1,823.9 540.5,812.9 540.8,831.0 541.1,830.4 541.5,843.3 541.8,849.7 542.1,825.7 542.5,831.5 542.8,809.0 543.1,845.2 543.5,817.8 543.8,823.5 544.1,822.5 544.5,812.7 544.8,820.2 545.1,848.3 545.5,836.5 545.8,806.2 546.1,839.9 546.5,814.9 546.8,847.3 547.1,847.6 547.5,830.5 547.8,831.5 548.1,847.4 548.5,814.0 548.8,842.2 549.1,834.8 549.5,837.2 549.8,842.5 550.1,833.6 550.5,837.9 550.8,835.0 551.1,817.3 551.5,855.8 551.8,806.9 551.7,818.9 552.0,781.5 552.8,828.1 552.1,840.1 552.5,843.2 552.8,805.4 553.1,840.3 553.5,858.2 553.8,849.6 554.1,826.8 554.5,825.8 554.8,817.2 555.1,866.5 555.5,831.6 555.8,847.2 556.1,805.7 556.5,848.5 556.8,813.5 557.1,827.4 557.5,866.1 557.8,806.8 558.1,836.7 558.5,810.2 558.8,812.3 559.1,820.3 559.5,819.2 559.8,815.6 560.1,846.5 560.5,806.6 560.8,806.9 561.1,850.6 561.5,829.6 561.8,812.8 562.1,828.9 562.5,845.3 562.8,819.1 563.1,833.1 563.5,810.9 563.8,830.9 564.1,852.9 564.5,832.2 564.8,815.1 565.1,826.6 565.5,827.7 565.8,847.4 566.1,809.5 566.5,842.4 566.8,842.0 567.1,822.7 567.5,821.2 567.8,833.3 566.0,837.9 568.0,899.5 570.0,828.7 568.1,846.9 568.5,848.2 568.8,826.3 569.1,842.6 569.5,851.4 569.8,808.7 570.1,848.6 570.5,819.1 570.8,847.4 571.1,840.4 571.5,820.2 571.8,849.1 572.1,849.8 572.5,819.2 572.8,832.5 573.1,836.0 573.5,809.0 573.8,829.6 574.1,839.9 574.5,840.2 574.8,804.6 575.1,842.4 575.5,842.4 575.8,847.6 576.1,843.3 576.5,844.1 576.8,812.5 577.1,811.6 577.5,826.5 577.8,837.8 578.1,812.5 578.5,822.0 578.8,852.3 579.1,844.2 579.5,813.8 579.8,814.1 580.1,809.5 580.5,836.1 580.8,809.9 581.1,831.2 581.5,869.1 581.8,844.6 582.1,829.2 582.5,846.4 582.8,815.6 583.1,800.7 583.5,817.5 583.8,830.8 584.1,824.5 584.5,838.3 584.8,829.9 585.1,806.5 585.5,837.4 585.8,813.0 586.1,846.6 586.5,837.3 586.8,806.0 587.1,840.2 587.5,830.7 587.8,819.5 588.1,813.4 588.5,817.6 588.8,821.1 589.1,841.9 589.5,827.9 589.8,805.0 590.1,828.9 590.5,838.4 590.8,809.4 591.1,828.6 591.5,796.9 591.8,798.0 592.1,816.0 592.5,818.5 592.8,792.7 593.1,812.3 593.5,845.9 593.8,791.0 594.1,821.7 594.5,833.0 594.8,793.8 595.1,831.5 595.5,838.2 595.8,830.1 596.1,807.6 596.5,809.3 596.8,823.3 597.1,845.5 597.5,838.2 597.8,844.7 598.1,820.0 598.5,802.1 598.8,833.3 599.1,839.5 599.5,844.1 599.8,834.5 599.7,839.2 600.0,857.5 600.8,830.0 600.1,813.7 600.5,848.7 600.8,838.3 601.1,819.2 601.5,843.3 601.8,813.9 602.1,805.3 602.5,812.5 602.8,816.6 603.1,848.9 603.5,815.9 603.8,837.0 604.1,827.5 604.5,811.5 604.8,854.2 605.1,808.1 605.5,826.7 605.8,843.2 606.1,841.9 606.5,829.3 606.8,845.3 607.1,850.9 607.5,831.8 607.8,829.5 608.1,816.5 608.5,813.8 608.8,858.6 609.1,819.0 609.5,853.3 609.8,826.8 610.1,810.7 610.5,836.4 610.8,843.0 611.1,841.2 611.5,818.0 611.8,840.2 612.1,849.5 612.5,808.1 612.8,844.0 613.1,836.8 613.5,842.4 613.8,846.2 614.1,818.7 614.5,842.3 614.8,840.9 615.1,814.5 615.5,827.8 615.8,809.5 616.1,828.1 616.5,841.6 616.8,799.5 617.1,835.5 617.5,849.9 617.8,846.3 618.1,810.9 618.5,810.7 618.8,839.0 619.1,807.1 619.5,833.9 619.8,826.1 619.7,820.8 620.0,782.5 620.8,830.0 620.1,809.7 620.5,801.6 620.8,814.7 621.1,840.4 621.5,843.3 621.8,815.9 622.1,830.2 622.5,820.8 622.8,825.8 623.1,822.4 623.5,832.9 623.8,849.0 624.1,817.1 624.5,831.1 624.8,828.2 625.1,817.8 625.5,814.9 625.8,834.7 626.1,832.7 626.5,825.4 626.8,799.8 627.1,869.0 627.5,825.1 627.8,866.7 628.1,837.9 628.5,823.4 628.8,827.7 629.1,812.8 629.5,816.6 629.8,840.0 630.1,848.0 630.5,808.5 630.8,814.2 631.1,807.7 631.5,839.9 631.8,813.9 632.1,806.9 632.5,831.2 632.8,815.2 633.1,818.8 633.5,846.9 633.8,828.9 634.1,847.0 634.5,829.5 634.8,846.4 635.1,818.1 635.5,808.1 635.8,847.5 636.1,850.5 636.5,834.9 636.8,828.9 637.1,807.1 637.5,818.8 637.8,819.5 638.1,867.6 638.5,841.9 638.8,814.7 639.1,816.4 639.5,865.2 639.8,820.6 640.1,816.6 640.5,820.3 640.8,807.0 641.1,816.8 641.5,808.6 641.8,840.0 641.7,839.2 642.0,886.5 642.8,830.0 642.1,823.0 642.5,865.9 642.8,843.4 643.1,836.4 643.5,814.2 643.8,833.2 644.1,852.5 644.5,835.3 644.8,842.4 645.1,853.7 645.5,848.1 645.8,835.6 646.1,816.1 646.5,851.8 646.8,852.0 647.1,839.3 647.5,810.2 647.8,870.4 648.1,826.7 648.5,821.1 648.8,870.1 649.1,840.7 649.5,839.3 649.8,849.0 650.1,845.0 650.5,829.6 650.8,816.8 651.1,847.7 651.5,809.8 651.8,850.8 652.1,829.1 652.5,836.2 652.8,819.2 653.1,828.7 653.5,833.0 653.8,844.8 654.1,842.7 654.5,827.8 654.8,792.0 655.1,821.4 655.5,829.4 655.8,838.6 656.1,828.1 656.5,849.8 656.8,839.5 657.1,814.5 657.5,836.4 657.8,847.4 658.1,832.6 658.5,833.7 658.8,832.2 659.1,840.0 659.5,812.2 659.8,816.4 659.7,818.8 660.0,781.5 660.8,828.0 660.1,836.3 660.5,793.9 660.8,837.0 661.1,839.2 661.5,848.8 661.8,830.6 662.1,837.9 662.5,788.7 662.8,824.3 663.1,797.9 663.5,811.3 663.8,815.7 664.1,843.0 664.5,804.4 664.8,845.7 665.1,848.3 665.5,824.1 665.8,836.5 666.1,842.4 666.5,813.7 666.8,848.3 667.1,827.5 667.5,829.3 667.8,809.5 668.1,837.6 668.5,849.5 668.8,820.2 669.1,843.1 669.5,814.0 669.8,822.9 670.1,839.5 670.5,831.2 670.8,821.8 671.1,839.5 671.5,811.4 671.8,832.4 672.1,824.0 672.5,859.8 672.8,815.7 673.1,814.0 673.5,832.2 673.8,809.1 674.1,808.3 674.5,856.8 674.8,810.5 675.1,833.7 675.5,838.7 675.8,846.1 676.1,804.1 676.5,851.1 676.8,827.0 677.1,802.2 677.5,822.4 677.8,814.1 678.1,840.1 678.5,803.9 678.8,820.1 679.1,801.1 679.5,795.4 679.8,830.7 680.1,823.1 680.5,810.0 680.8,825.5 681.1,815.5 681.5,814.5 681.8,801.5 682.1,835.4 682.5,804.6 682.8,844.6 683.1,827.5 683.5,826.2 683.8,831.6 684.1,829.4 684.5,838.4 684.8,807.8 685.1,834.3 685.5,818.9 685.8,825.8 686.1,839.4 686.5,817.9 686.8,806.0 687.1,804.7 687.5,827.4 687.8,808.7 688.1,825.5 688.5,814.7 688.8,826.8 689.1,850.1 689.5,811.0 689.8,825.8 690.1,853.9 690.5,790.6 690.8,800.7 691.1,806.0 691.5,846.2 691.8,831.9 692.1,846.6 692.5,809.0 692.8,811.3 693.1,814.9 693.5,797.2 693.8,850.0 694.1,834.3 694.5,844.1 694.8,832.2 695.1,816.4 695.5,828.9 695.8,820.5 696.1,836.0 696.5,810.7 696.8,839.9 697.1,800.9 697.5,816.1 697.8,831.6 698.1,828.1 698.5,836.3 698.8,801.7 699.1,834.2 699.5,855.0 699.8,847.4 699.7,821.8 700.0,787.5 700.8,831.0 699.7,840.2 700.0,857.5 700.8,831.0 700.1,828.5 700.5,829.6 700.8,824.7 701.1,819.5 701.5,852.3 701.8,796.7 702.1,850.5 702.5,808.8 702.8,841.4 703.1,813.8 703.5,816.6 703.8,813.6 704.1,846.8 704.5,820.8 704.8,833.8 705.1,809.4 705.5,840.7 705.8,813.0 706.1,821.5 706.5,842.0 706.8,814.8 707.1,840.0 707.5,832.6 707.8,815.2 708.1,836.5 708.5,843.0 708.8,829.2 709.1,818.2 709.5,840.0 709.8,824.5 710.1,867.5 710.5,849.7 710.8,828.7 711.1,823.3 711.5,811.4 711.8,821.9 712.1,854.0 712.5,834.2 712.8,824.2 713.1,810.0 713.5,868.6 713.8,815.4 714.1,824.1 714.5,800.8 714.8,813.5 715.1,816.9 715.5,833.1 715.8,826.1 716.1,809.4 716.5,828.7 716.8,850.0 717.1,811.6 717.5,868.9 717.8,796.7 718.1,823.9 718.5,843.6 718.8,811.6 719.1,831.3 719.5,812.8 719.8,807.2 720.1,835.5 720.5,815.7 720.8,840.3 721.1,849.5 721.5,819.1 721.8,849.5 722.1,817.9 722.5,847.7 722.8,836.5 723.1,825.4 723.5,834.4 723.8,845.5 724.1,844.4 724.5,817.1 724.8,825.2 725.1,819.7 725.5,826.8 725.8,830.0 726.1,807.4 726.5,810.3 726.8,846.5 727.1,844.1 727.5,806.2 727.8,806.1 728.1,808.7 728.5,811.4 728.8,807.3 729.1,829.1 729.5,832.8 729.8,816.9 730.1,816.0 730.5,806.5 730.8,832.6 731.1,811.2 731.5,805.9 731.8,830.9 732.1,834.2 732.5,831.2 732.8,846.0 733.1,822.6 733.5,850.6 733.8,831.7 734.1,806.9 734.5,818.2 734.8,844.8 735.1,822.3 735.5,833.2 735.8,843.6 736.1,836.1 736.5,857.2 736.8,808.9 735.0,835.8 737.0,899.5 740.0,826.6 737.1,820.5 737.5,811.1 737.8,791.2 738.1,826.1 738.5,808.9 738.8,808.7 739.1,811.0 739.5,818.3 739.8,841.6 740.1,813.2 740.5,845.8 740.8,840.3 741.1,806.8 741.5,837.9 741.8,786.1 742.1,838.1 742.5,828.3 742.8,825.4 743.1,811.8 743.5,824.5 743.8,792.0 744.1,839.4 744.5,841.2 744.8,837.5 745.1,840.4 745.5,814.5 745.8,828.1 746.1,832.4 746.5,816.4 746.8,852.1 747.1,841.3 747.5,820.1 747.8,839.0 748.1,846.1 748.5,824.6 748.8,848.3 749.1,812.3 749.5,832.2 749.8,837.5 750.1,825.4 750.5,810.0 750.8,833.8 751.1,813.0 751.5,846.8 751.8,797.3 752.1,834.1 752.5,818.9 752.8,824.1 753.1,838.0 753.5,850.6 753.8,829.6 754.1,819.0 754.5,807.3 754.8,833.8 755.1,786.0 755.5,839.4 755.8,835.1 756.1,835.4 756.5,822.3 756.8,846.1 757.1,833.1 757.5,833.2 757.8,824.4 758.1,825.2 758.5,841.7 758.8,822.9 759.1,818.9 759.5,805.1 759.8,835.3 760.1,802.4 760.5,839.7 760.8,806.8 760.7,814.5 761.0,781.5 761.8,823.7 761.1,807.9 761.5,830.5 761.8,843.5 762.1,849.9 762.5,830.5 762.8,854.0 763.1,834.3 763.5,806.3 763.8,816.4 764.1,825.0 764.5,802.7 764.8,837.8 765.1,799.0 765.5,841.9 765.8,830.8 766.1,812.6 766.5,804.7 766.8,841.2 767.1,817.3 767.5,801.4 767.8,810.3 767.7,832.0 768.0,880.5 768.8,822.8 768.1,803.6 768.5,830.0 768.8,812.6 769.1,807.9 769.5,819.9 769.8,826.0 770.1,802.4 770.5,818.4 770.8,782.3 771.1,818.7 771.5,825.0 771.8,840.3 772.1,839.5 772.5,837.6 772.8,799.7 773.1,824.9 773.5,834.9 773.8,838.0 774.1,810.1 774.5,843.3 774.8,846.0 775.1,826.3 775.5,814.7 775.8,801.5 776.1,838.2 776.5,830.1 776.8,847.5 777.1,837.9 777.5,791.5 777.8,821.0 778.1,814.2 778.5,815.6 778.8,831.8 779.1,804.2 779.5,835.3 779.8,799.8 780.1,824.9 780.5,800.9 780.8,833.2 781.1,825.3 781.5,841.4 781.8,785.0 782.1,844.4 782.5,813.4 782.8,820.2 783.1,814.7 783.5,840.2 783.8,818.7 784.1,807.3 784.5,824.6 784.8,811.5 785.1,811.4 785.5,840.2 785.8,839.9 786.1,819.8 786.5,843.0 786.8,838.0 787.1,833.8 787.5,795.4 787.8,837.1 788.1,786.2 788.5,830.4 788.8,844.5 789.1,819.2 789.5,836.0 789.8,809.3 790.1,830.8 790.5,840.8 790.8,819.6 790.7,810.9 791.0,781.5 791.8,820.1 790.7,829.3 791.0,885.5 791.8,820.1 791.1,804.5 791.5,807.8 791.8,813.8 792.1,818.9 792.5,834.5 792.8,801.2 793.1,800.4 793.5,831.8 793.8,835.5 794.1,797.1 794.5,822.9 794.8,857.2 795.1,817.1 795.5,799.4 795.8,822.7 796.1,795.6 796.5,823.7 796.8,835.8 797.1,800.1 797.5,822.8 797.8,825.4 798.1,795.6 798.5,817.8 798.8,815.3 799.1,805.1 799.5,839.9 799.8,808.4 800.1,801.5 800.5,834.7 800.8,797.5 801.1,803.3 801.5,797.0 801.8,839.7 802.1,821.7 802.5,803.7 802.8,800.6 803.1,780.9 803.5,826.2 803.8,824.1 804.1,806.4 804.5,842.0 804.8,806.0 805.1,802.9 805.5,805.4 805.8,835.6 806.1,831.8 806.5,855.7 806.8,796.7 807.1,847.8 807.5,835.5 807.8,809.3 808.1,829.6 808.5,804.5 808.8,818.1 809.1,832.0 809.5,806.3 809.8,801.1 810.1,806.6 810.5,830.8 810.8,839.2 811.1,818.6 811.5,817.2 811.8,806.5 812.1,840.4 812.5,797.1 812.8,787.7 813.1,833.0 813.5,785.8 813.8,833.9 814.1,829.8 814.5,794.8 814.8,800.3 815.1,799.4 815.5,809.6 815.8,811.5 816.1,823.6 816.5,807.1 816.8,819.1 817.1,827.4 817.5,832.9 817.8,798.7 818.1,818.9 818.5,830.0 818.8,837.9 819.1,809.0 819.5,803.8 819.8,834.9 820.1,812.1 820.5,805.6 820.8,799.0 821.1,812.6 821.5,813.1 821.8,826.7 822.1,821.1 822.5,826.4 822.8,838.3 823.1,818.6 823.5,805.0 823.8,809.4 824.1,831.7 824.5,801.1 824.8,800.4 825.1,785.4 825.5,797.0 825.8,809.9 826.1,826.6 826.5,826.5 826.8,826.8 827.1,825.7 827.5,800.5 827.8,818.2 828.1,806.0 828.5,809.6 828.8,812.7 829.1,837.2 829.5,833.5 829.8,835.2 830.1,825.8 830.5,800.9 830.8,799.9 831.1,806.7 831.5,840.9 831.8,831.1 832.1,839.6 832.5,796.8 832.8,809.5 833.1,827.4 833.5,817.5 833.8,811.9 834.1,834.8 834.5,807.6 834.8,797.8 835.1,832.3 835.5,802.8 835.8,797.0 836.1,810.8 836.5,815.5 836.8,804.0 837.1,801.1 837.5,825.8 837.8,819.7 838.1,820.0 838.5,783.1 838.8,796.6 839.1,797.5 839.5,812.1 839.8,814.1 840.1,836.5 840.5,824.0 840.8,802.8 841.1,812.7 841.5,849.8 841.8,830.8 842.1,846.5 842.5,798.8 842.8,798.4 843.1,827.4 843.5,813.8 843.8,837.4 844.1,825.3 844.5,826.7 844.8,836.5 845.1,824.5 845.5,801.1 845.8,813.9 846.1,831.4 846.5,836.7 846.8,820.4 847.1,798.6 847.5,830.6 847.8,798.3 848.1,798.2 848.5,819.0 848.8,798.6 849.1,807.8 849.5,833.9 849.8,799.7 849.7,807.0 850.0,784.5 850.8,816.2 850.1,814.6 850.5,824.8 850.8,812.1 851.1,830.5 851.5,812.7 851.8,838.8 852.1,805.3 852.5,819.6 852.8,827.9 853.1,805.5 853.5,798.8 853.8,837.3 854.1,808.4 854.5,795.8 854.8,826.1 855.1,828.6 855.5,822.3 855.8,822.3 856.1,814.0 856.5,834.9 856.8,826.8 857.1,797.0 857.5,805.2 857.8,804.5 858.1,813.0 858.5,817.4 858.8,835.7 859.1,777.9 859.5,849.0 859.8,833.8 859.7,825.5 860.0,857.5 860.8,816.3 860.1,831.5 860.5,814.3 860.8,806.8 861.1,849.1 861.5,824.4 861.8,799.6 862.1,825.2 862.5,815.4 862.8,829.4 863.1,797.1 863.5,784.3 863.8,838.9 864.1,837.4 864.5,809.4 864.8,814.4 865.1,798.1 865.5,812.8 865.8,811.8 866.1,834.7 866.5,818.0 866.8,856.0 867.1,817.1 867.5,798.8 867.8,798.3 868.1,820.5 868.5,836.8 868.8,796.9 869.1,808.8 869.5,817.8 869.8,802.1 870.1,783.2 870.5,832.0 870.8,806.8 871.1,828.0 871.5,829.4 871.8,831.1 872.1,832.8 872.5,838.6 872.8,829.0 873.1,832.5 873.5,797.9 873.8,826.1 874.1,789.1 874.5,854.3 874.8,852.6 875.1,823.5 875.5,824.8 875.8,814.5 876.1,836.3 876.5,796.8 876.8,798.6 877.1,820.3 877.5,830.4 877.8,858.1 878.1,832.3 878.5,800.2 878.8,799.5 879.1,808.4 879.5,810.5 879.8,823.9 879.7,807.5 880.0,782.5 880.8,816.7 880.1,827.8 880.5,810.2 880.8,796.3 881.1,801.5 881.5,838.7 881.8,808.1 882.1,822.2 882.5,823.7 882.8,836.1 883.1,840.1 883.5,830.9 883.8,817.2 884.1,804.1 884.5,812.3 884.8,839.6 885.1,814.9 885.5,782.0 885.8,841.1 886.1,798.5 886.5,814.5 886.8,825.1 887.1,823.1 887.5,838.8 887.8,800.0 888.1,836.9 888.5,804.8 888.8,825.5 889.1,808.7 889.5,811.9 889.8,822.8 890.1,825.8 890.5,825.4 890.8,794.6 891.1,825.2 891.5,802.9 891.8,808.6 891.7,826.1 892.0,896.5 892.8,816.9 892.1,847.5 892.5,799.7 892.8,800.4 893.1,829.4 893.5,838.4 893.8,830.8 894.1,824.7 894.5,831.0 894.8,828.8 895.1,796.7 895.5,836.8 895.8,794.5 896.1,813.9 896.5,831.7 896.8,806.2 897.1,803.3 897.5,799.7 897.8,843.4 898.1,824.6 898.5,814.3 898.8,785.7 899.1,812.7 899.5,807.2 899.8,816.5 900.1,804.5 900.5,807.7 900.8,815.3 901.1,800.3 901.5,800.5 901.8,803.7 902.1,810.0 902.5,804.2 902.8,818.7 903.1,801.5 903.5,839.4 903.8,829.7 904.1,825.0 904.5,798.7 904.8,810.6 905.1,790.4 905.5,799.3 905.8,830.1 906.1,811.3 906.5,814.8 906.8,815.6 907.1,808.6 907.5,798.6 907.8,825.3 908.1,821.9 908.5,820.7 908.8,796.0 909.1,835.5 909.5,826.0 909.8,819.9 910.1,802.4 910.5,828.5 910.8,813.3 911.1,806.3 911.5,804.9 911.8,820.2 912.1,808.5 912.5,842.0 912.8,800.5 913.1,778.7 913.5,783.7 913.8,799.4 914.1,822.0 914.5,822.1 914.8,833.8 915.1,827.2 915.5,803.4 915.8,820.0 916.1,804.7 916.5,839.6 916.8,827.3 917.1,832.6 917.5,832.5 917.8,819.2 918.1,800.3 918.5,779.2 918.8,829.8 918.7,824.7 919.0,862.5 919.8,816.4 919.1,819.1 919.5,824.3 919.8,833.6 920.1,802.0 920.5,828.2 920.8,814.1 921.1,811.8 921.5,819.9 921.8,804.3 922.1,817.0 922.5,802.6 922.8,810.7 923.1,808.7 923.5,819.1 923.8,793.5 924.1,806.2 924.5,818.0 924.8,812.4 925.1,832.0 925.5,782.8 925.8,824.7 925.7,808.1 926.0,779.5 926.8,816.2 926.1,798.4 926.5,834.6 926.8,800.1 927.1,810.2 927.5,812.5 927.8,812.8 928.1,812.9 928.5,839.0 928.8,818.1 929.1,819.2 929.5,832.0 929.8,792.8 930.1,829.4 930.5,822.9 930.8,808.2 931.1,817.8 931.5,815.7 931.8,827.6 932.1,815.4 932.5,804.0 932.8,833.6 933.1,808.4 933.5,821.7 933.8,831.8 934.1,807.7 934.5,798.7 934.8,797.4 935.1,822.0 935.5,830.8 935.8,799.7 936.1,816.7 936.5,819.9 936.8,816.2 937.1,813.3 937.5,806.4 937.8,799.4 938.1,785.8 938.5,827.8 938.8,821.6 939.1,798.6 939.5,827.3 939.8,825.5 940.1,803.0 940.5,824.5 940.8,798.4 941.1,803.5 941.5,812.1 941.8,823.1 942.1,809.3 942.5,797.3 942.8,811.5 943.1,827.6 943.5,803.2 943.8,815.8 944.1,802.0 944.5,797.7 944.8,818.8 945.1,823.7 945.5,822.9 945.8,798.1 946.1,824.9 946.5,810.0 946.8,823.8 947.1,808.3 947.5,809.0 947.8,827.4 948.1,804.4 948.5,818.8 948.8,804.3 949.1,811.4 949.5,843.1 949.8,811.4 950.1,802.4 950.5,806.1 950.8,828.0 951.1,798.1 951.5,822.2 951.8,808.0 952.1,823.4 952.5,832.6 952.8,817.5 953.1,818.4 953.5,809.4 953.8,793.3 954.1,804.9 954.5,818.7 954.8,797.1 955.1,810.7 955.5,794.2 955.8,822.3 956.1,815.6 956.5,821.7 956.8,811.6 957.1,821.3 957.5,801.5 957.8,797.6 958.1,813.3 958.5,839.7 958.8,816.3 959.1,812.2 959.5,806.0 959.8,822.0 959.7,808.6 960.0,787.5 960.8,815.1 960.1,811.2 960.5,803.2 960.8,800.1 961.1,802.0 961.5,814.8 961.8,828.7 962.1,829.0 962.5,827.1 962.8,799.3 963.1,798.9 963.5,823.9 963.8,819.3 964.1,817.2 964.5,818.6 964.8,811.8 965.1,829.3 965.5,818.4 965.8,833.4 966.1,820.1 966.5,805.2 966.8,806.0 967.1,827.1 967.5,825.4 967.8,805.1 968.1,823.0 968.5,813.8 968.8,800.1 969.1,816.4 969.5,804.1 969.8,807.4 970.1,818.0 970.5,797.7 970.8,804.5 971.1,799.9 971.5,802.4 971.8,835.8 972.1,828.2 972.5,827.7 972.8,813.0 973.1,826.0 973.5,829.3 973.8,803.7 974.1,805.9 974.5,828.9 974.8,826.0 975.1,815.8 975.5,828.1 975.8,828.8 976.1,818.2 976.5,812.0 976.8,814.8 977.1,827.1 977.5,816.1 977.8,806.9 978.1,822.0 978.5,825.6 978.8,811.6 979.1,818.2 979.5,834.3 979.8,808.6 979.7,808.0 980.0,792.5 980.8,813.8 980.1,813.7 980.5,800.3 980.8,800.9 981.1,822.8 981.5,817.3 981.8,820.8 982.1,811.0 982.5,805.2 982.8,809.6 983.1,796.5 983.5,824.0 983.8,811.0 984.1,805.4 984.5,806.4 984.8,816.1 985.1,815.0 985.5,809.9 985.8,823.9 986.1,807.0 986.5,822.8 986.8,815.3 987.1,820.5 987.5,816.6 987.8,810.9 988.1,813.6 988.5,804.9 988.8,798.4 989.1,815.4 989.5,810.9 989.8,819.1 989.7,818.5 990.0,847.5 990.8,813.1 990.1,817.4 990.5,819.2 990.8,814.7 991.1,819.5 991.5,821.9 991.8,815.6 992.1,821.3 992.5,800.5 992.8,807.6 993.1,802.7 993.5,821.2 993.8,799.2 994.1,822.9 994.5,818.6 994.8,801.0 995.1,801.5 995.5,822.9 995.8,805.8 996.1,801.1 996.5,810.7 996.8,821.9 997.1,803.4 997.5,809.7 997.8,822.2 998.1,805.9 998.5,822.6 998.8,820.0 999.1,819.9 999.5,804.6 999.8,806.7 1000.1,819.5 1000.5,816.1 1000.8,817.9 1001.1,800.4 1001.5,817.6 1001.8,813.4 1002.1,808.8 1002.5,800.7 1002.8,808.7 1003.1,813.8 1003.5,821.0 1003.8,820.7 1004.1,808.7 1004.5,812.4 1004.8,809.4 1005.1,824.4 1005.5,799.7 1005.8,808.9 1006.1,815.5 1006.5,812.0 1006.8,813.7 1007.1,817.4" fill="none" stroke="#000" stroke-width="5.00" stroke-linejoin="miter" stroke-miterlimit="2"/>
</svg>
</body></html>
